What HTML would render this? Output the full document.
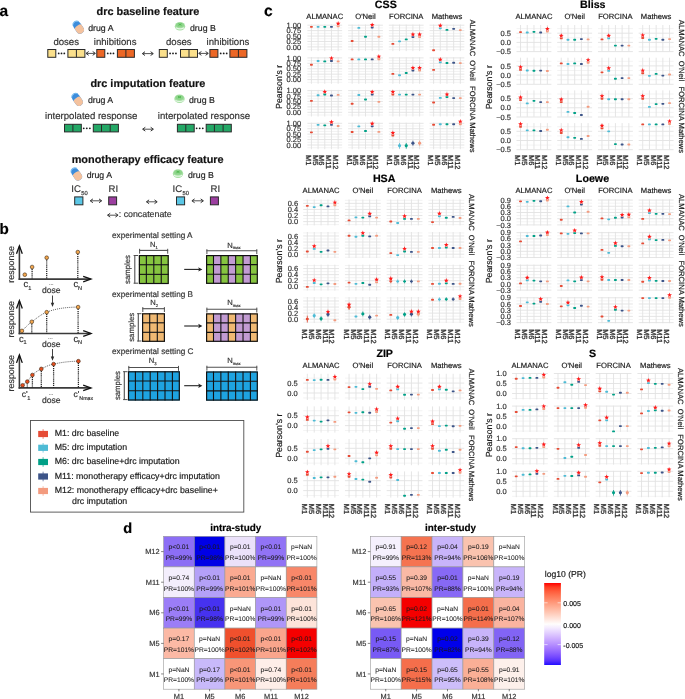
<!DOCTYPE html>
<html><head><meta charset="utf-8"><style>html,body{margin:0;padding:0;background:#fff;width:685px;height:699px;overflow:hidden}svg{display:block;will-change:transform;text-rendering:geometricPrecision;}text{stroke-width:0.18px;stroke-linejoin:round;paint-order:stroke;font-family:"Liberation Sans",sans-serif}</style></head><body>
<svg width="685" height="699" viewBox="0 0 685 699" font-family="Liberation Sans, sans-serif"><text x="-0.6" y="15.8" font-size="15.5" font-weight="bold" fill="#000" stroke="#000">a</text>
<text x="96.5" y="14.8" font-size="10.9" font-weight="bold" fill="#111" stroke="#111">drc baseline feature</text>
<g transform="translate(78.5,27.5) rotate(56)">
<rect x="-6.6" y="-3.9" width="13.2" height="7.8" rx="3.9" fill="#3d8ddb"/>
<path d="M-4.6,-3.6 A3.9,3.9 0 0 0 -4.6,3.6" stroke="#6fb6ee" stroke-width="1.0" fill="none"/>
<path d="M-0.6,-3.9 H2.7 A3.9,3.9 0 0 1 2.7,3.9 H-0.6 A1.5,3.9 0 0 1 -0.6,-3.9 Z" fill="#f4c29e"/>
</g>
<text x="88.2" y="31.2" font-size="8.75" fill="#222" stroke="#222">drug A</text>
<ellipse cx="180" cy="26.2" rx="5.2" ry="4.3" fill="#a6dfa3"/>
<ellipse cx="180" cy="25" rx="4.0" ry="2.3" fill="#8ed58b"/>
<path d="M178.5,23.7 l3,1.6 M181.5,23.7 l-3,1.6" stroke="#4fb84f" stroke-width="0.9"/>
<path d="M175.8,27.8 q4.2,2.2 8.4,0" stroke="#e6f7e6" stroke-width="1.1" fill="none"/>
<text x="190" y="31.2" font-size="8.75" fill="#222" stroke="#222">drug B</text>
<text x="53.4" y="44.6" font-size="9.6" fill="#333333" stroke="#333333">doses</text>
<text x="93.8" y="44.6" font-size="9.6" fill="#333333" stroke="#333333">inhibitions</text>
<text x="166" y="44.6" font-size="9.6" fill="#333333" stroke="#333333">doses</text>
<text x="206.6" y="44.6" font-size="9.6" fill="#333333" stroke="#333333">inhibitions</text>
<rect x="47.8" y="49.5" width="8" height="7.8" fill="#fbe08c" stroke="#2a2a2a" stroke-width="1"/>
<circle cx="58.7" cy="53.4" r="0.9" fill="#1a1a1a"/>
<circle cx="61.5" cy="53.4" r="0.9" fill="#1a1a1a"/>
<circle cx="64.3" cy="53.4" r="0.9" fill="#1a1a1a"/>
<rect x="67.9" y="49.5" width="17" height="7.8" fill="#fbe08c" stroke="#2a2a2a" stroke-width="1"/>
<line x1="76.4" y1="49.5" x2="76.4" y2="57.3" stroke="#2a2a2a" stroke-width="1"/>
<path d="M86.3,53.4 H95.1" stroke="#333" stroke-width="0.85"/>
<path d="M88.7,51.5 L86,53.4 L88.7,55.3 M92.7,51.5 L95.4,53.4 L92.7,55.3" stroke="#333" stroke-width="1.0" fill="none"/>
<rect x="96.8" y="49.5" width="8" height="7.8" fill="#ec6726" stroke="#2a2a2a" stroke-width="1"/>
<circle cx="107.73" cy="53.4" r="0.9" fill="#1a1a1a"/>
<circle cx="110.6" cy="53.4" r="0.9" fill="#1a1a1a"/>
<circle cx="113.47" cy="53.4" r="0.9" fill="#1a1a1a"/>
<rect x="117.4" y="49.5" width="17" height="7.8" fill="#ec6726" stroke="#2a2a2a" stroke-width="1"/>
<line x1="125.9" y1="49.5" x2="125.9" y2="57.3" stroke="#2a2a2a" stroke-width="1"/>
<path d="M142.6,53.6 H153" stroke="#333" stroke-width="0.85"/>
<path d="M145,51.7 L142.3,53.6 L145,55.5 M150.6,51.7 L153.3,53.6 L150.6,55.5" stroke="#333" stroke-width="1.0" fill="none"/>
<rect x="159.3" y="49.5" width="8" height="7.8" fill="#fbe08c" stroke="#2a2a2a" stroke-width="1"/>
<circle cx="170.07" cy="53.4" r="0.9" fill="#1a1a1a"/>
<circle cx="173" cy="53.4" r="0.9" fill="#1a1a1a"/>
<circle cx="175.93" cy="53.4" r="0.9" fill="#1a1a1a"/>
<rect x="180.5" y="49.5" width="17" height="7.8" fill="#fbe08c" stroke="#2a2a2a" stroke-width="1"/>
<line x1="189" y1="49.5" x2="189" y2="57.3" stroke="#2a2a2a" stroke-width="1"/>
<path d="M199,53.4 H208" stroke="#333" stroke-width="0.85"/>
<path d="M201.4,51.5 L198.7,53.4 L201.4,55.3 M205.6,51.5 L208.3,53.4 L205.6,55.3" stroke="#333" stroke-width="1.0" fill="none"/>
<rect x="209.9" y="49.5" width="8" height="7.8" fill="#ec6726" stroke="#2a2a2a" stroke-width="1"/>
<circle cx="220.7" cy="53.4" r="0.9" fill="#1a1a1a"/>
<circle cx="223.7" cy="53.4" r="0.9" fill="#1a1a1a"/>
<circle cx="226.7" cy="53.4" r="0.9" fill="#1a1a1a"/>
<rect x="229.9" y="49.5" width="17" height="7.8" fill="#ec6726" stroke="#2a2a2a" stroke-width="1"/>
<line x1="238.4" y1="49.5" x2="238.4" y2="57.3" stroke="#2a2a2a" stroke-width="1"/>
<text x="90.4" y="86.7" font-size="10.9" font-weight="bold" fill="#111" stroke="#111">drc imputation feature</text>
<g transform="translate(77.4,99.7) rotate(56)">
<rect x="-6.6" y="-3.9" width="13.2" height="7.8" rx="3.9" fill="#3d8ddb"/>
<path d="M-4.6,-3.6 A3.9,3.9 0 0 0 -4.6,3.6" stroke="#6fb6ee" stroke-width="1.0" fill="none"/>
<path d="M-0.6,-3.9 H2.7 A3.9,3.9 0 0 1 2.7,3.9 H-0.6 A1.5,3.9 0 0 1 -0.6,-3.9 Z" fill="#f4c29e"/>
</g>
<text x="87.9" y="103" font-size="8.75" fill="#222" stroke="#222">drug A</text>
<ellipse cx="179.5" cy="98.8" rx="5.2" ry="4.3" fill="#a6dfa3"/>
<ellipse cx="179.5" cy="97.6" rx="4.0" ry="2.3" fill="#8ed58b"/>
<path d="M178,96.3 l3,1.6 M181,96.3 l-3,1.6" stroke="#4fb84f" stroke-width="0.9"/>
<path d="M175.3,100.4 q4.2,2.2 8.4,0" stroke="#e6f7e6" stroke-width="1.1" fill="none"/>
<text x="189" y="103" font-size="8.75" fill="#222" stroke="#222">drug B</text>
<text x="45.1" y="118.8" font-size="9.6" fill="#333333" stroke="#333333">interpolated response</text>
<text x="157.8" y="118.8" font-size="9.6" fill="#333333" stroke="#333333">interpolated response</text>
<rect x="64.5" y="124.3" width="16.8" height="7.6" fill="#24a866" stroke="#2a2a2a" stroke-width="1"/>
<line x1="72.9" y1="124.3" x2="72.9" y2="131.9" stroke="#2a2a2a" stroke-width="1"/>
<circle cx="83.73" cy="128.3" r="0.9" fill="#1a1a1a"/>
<circle cx="86.8" cy="128.3" r="0.9" fill="#1a1a1a"/>
<circle cx="89.87" cy="128.3" r="0.9" fill="#1a1a1a"/>
<rect x="93.3" y="124.3" width="25.1" height="7.6" fill="#24a866" stroke="#2a2a2a" stroke-width="1"/>
<line x1="101.5" y1="124.3" x2="101.5" y2="131.9" stroke="#2a2a2a" stroke-width="1"/>
<line x1="110.2" y1="124.3" x2="110.2" y2="131.9" stroke="#2a2a2a" stroke-width="1"/>
<rect x="177.4" y="124.3" width="16.8" height="7.6" fill="#24a866" stroke="#2a2a2a" stroke-width="1"/>
<line x1="185.8" y1="124.3" x2="185.8" y2="131.9" stroke="#2a2a2a" stroke-width="1"/>
<circle cx="196.63" cy="128.3" r="0.9" fill="#1a1a1a"/>
<circle cx="199.7" cy="128.3" r="0.9" fill="#1a1a1a"/>
<circle cx="202.77" cy="128.3" r="0.9" fill="#1a1a1a"/>
<rect x="206.2" y="124.3" width="25.1" height="7.6" fill="#24a866" stroke="#2a2a2a" stroke-width="1"/>
<line x1="214.4" y1="124.3" x2="214.4" y2="131.9" stroke="#2a2a2a" stroke-width="1"/>
<line x1="223.1" y1="124.3" x2="223.1" y2="131.9" stroke="#2a2a2a" stroke-width="1"/>
<path d="M142.9,129.2 H153.1" stroke="#333" stroke-width="0.85"/>
<path d="M145.3,127.3 L142.6,129.2 L145.3,131.1 M150.7,127.3 L153.4,129.2 L150.7,131.1" stroke="#333" stroke-width="1.0" fill="none"/>
<text x="71.7" y="162.8" font-size="10.9" font-weight="bold" fill="#111" stroke="#111">monotherapy efficacy feature</text>
<g transform="translate(76.6,174.3) rotate(56)">
<rect x="-6.6" y="-3.9" width="13.2" height="7.8" rx="3.9" fill="#3d8ddb"/>
<path d="M-4.6,-3.6 A3.9,3.9 0 0 0 -4.6,3.6" stroke="#6fb6ee" stroke-width="1.0" fill="none"/>
<path d="M-0.6,-3.9 H2.7 A3.9,3.9 0 0 1 2.7,3.9 H-0.6 A1.5,3.9 0 0 1 -0.6,-3.9 Z" fill="#f4c29e"/>
</g>
<text x="86.7" y="178.1" font-size="8.75" fill="#222" stroke="#222">drug A</text>
<ellipse cx="178" cy="173.6" rx="5.2" ry="4.3" fill="#a6dfa3"/>
<ellipse cx="178" cy="172.4" rx="4.0" ry="2.3" fill="#8ed58b"/>
<path d="M176.5,171.1 l3,1.6 M179.5,171.1 l-3,1.6" stroke="#4fb84f" stroke-width="0.9"/>
<path d="M173.8,175.2 q4.2,2.2 8.4,0" stroke="#e6f7e6" stroke-width="1.1" fill="none"/>
<text x="188" y="178.1" font-size="8.75" fill="#222" stroke="#222">drug B</text>
<text x="71.3" y="191.7" font-size="9.6" fill="#333333" stroke="#333333">IC<tspan font-size="5.8" dx="0.3" dy="3.1">50</tspan></text>
<text x="108.6" y="191.7" font-size="9.6" fill="#333333" stroke="#333333">RI</text>
<text x="172.6" y="191.7" font-size="9.6" fill="#333333" stroke="#333333">IC<tspan font-size="5.8" dx="0.3" dy="3.1">50</tspan></text>
<text x="210.6" y="191.7" font-size="9.6" fill="#333333" stroke="#333333">RI</text>
<rect x="74.7" y="196.9" width="8.2" height="7.9" fill="#5bc7e6" stroke="#2a2a2a" stroke-width="1"/>
<path d="M90.5,200.8 H101.4" stroke="#333" stroke-width="0.85"/>
<path d="M92.9,198.9 L90.2,200.8 L92.9,202.7 M99,198.9 L101.7,200.8 L99,202.7" stroke="#333" stroke-width="1.0" fill="none"/>
<rect x="108.7" y="196.9" width="7.9" height="7.9" fill="#9c3fa0" stroke="#2a2a2a" stroke-width="1"/>
<rect x="176.5" y="196.9" width="8.1" height="7.9" fill="#5bc7e6" stroke="#2a2a2a" stroke-width="1"/>
<path d="M192.2,200.8 H203.1" stroke="#333" stroke-width="0.85"/>
<path d="M194.6,198.9 L191.9,200.8 L194.6,202.7 M200.7,198.9 L203.4,200.8 L200.7,202.7" stroke="#333" stroke-width="1.0" fill="none"/>
<rect x="210.4" y="196.9" width="8" height="7.9" fill="#9c3fa0" stroke="#2a2a2a" stroke-width="1"/>
<path d="M146.7,201.8 H156.9" stroke="#333" stroke-width="0.85"/>
<path d="M149.1,199.9 L146.4,201.8 L149.1,203.7 M154.5,199.9 L157.2,201.8 L154.5,203.7" stroke="#333" stroke-width="1.0" fill="none"/>
<path d="M107.8,215.2 H117.8" stroke="#333" stroke-width="0.85"/>
<path d="M110.2,213.3 L107.5,215.2 L110.2,217.1 M115.4,213.3 L118.1,215.2 L115.4,217.1" stroke="#333" stroke-width="1.0" fill="none"/>
<text x="118.8" y="217.3" font-size="8.8" fill="#333" stroke="#333">: concatenate</text>
<text x="-0.4" y="234.2" font-size="15.2" font-weight="bold" fill="#000" stroke="#000">b</text>
<line x1="19.4" y1="246.5" x2="19.4" y2="279.9" stroke="#3a3a3a" stroke-width="1.6"/>
<line x1="18.6" y1="279.1" x2="90.5" y2="279.1" stroke="#3a3a3a" stroke-width="1.6"/>
<path d="M16.5,253.8 L19.4,245.9 L22.3,253.8" stroke="#111" stroke-width="1.3" fill="none"/>
<path d="M83.2,276.3 L91,279.1 L83.2,281.9" stroke="#111" stroke-width="1.3" fill="none"/>
<text transform="translate(14.0,264.4) rotate(-90)" font-size="8.9" text-anchor="middle" fill="#333333" stroke="#333333">response</text>
<circle cx="24.8" cy="274.7" r="1.85" fill="#f3a64c" stroke="#3a2a1a" stroke-width="0.6"/>
<line x1="32.1" y1="267" x2="32.1" y2="279.1" stroke="#222" stroke-width="1.25" stroke-dasharray="1.1,0.8"/>
<circle cx="32.1" cy="267" r="1.85" fill="#f3a64c" stroke="#3a2a1a" stroke-width="0.6"/>
<line x1="46.7" y1="257.7" x2="46.7" y2="279.1" stroke="#222" stroke-width="1.25" stroke-dasharray="1.1,0.8"/>
<circle cx="46.7" cy="257.7" r="1.85" fill="#f3a64c" stroke="#3a2a1a" stroke-width="0.6"/>
<line x1="77.8" y1="252.1" x2="77.8" y2="279.1" stroke="#222" stroke-width="1.25" stroke-dasharray="1.1,0.8"/>
<circle cx="77.8" cy="252.1" r="1.85" fill="#f3a64c" stroke="#3a2a1a" stroke-width="0.6"/>
<text x="23.6" y="287.4" font-size="9.4" fill="#333333" stroke="#333333">c<tspan font-size="5.6" dy="2.4">1</tspan></text>
<text x="73.4" y="287.4" font-size="9.4" fill="#333333" stroke="#333333">c<tspan font-size="5.6" dy="2.4">N</tspan></text>
<text x="51.3" y="284.6" font-size="5.5" text-anchor="middle" fill="#666" stroke="#666">...</text>
<text x="51.3" y="293.1" font-size="8.6" text-anchor="middle" fill="#333333" stroke="#333333">dose</text>
<line x1="52.5" y1="295.5" x2="52.5" y2="305" stroke="#2b2b2b" stroke-width="0.9"/>
<path d="M50.8,302.8 L52.5,307 L54.2,302.8 Z" fill="#2b2b2b"/>
<line x1="19.4" y1="301.2" x2="19.4" y2="334.3" stroke="#3a3a3a" stroke-width="1.6"/>
<line x1="18.6" y1="333.5" x2="90.5" y2="333.5" stroke="#3a3a3a" stroke-width="1.6"/>
<path d="M16.5,308.5 L19.4,300.6 L22.3,308.5" stroke="#111" stroke-width="1.3" fill="none"/>
<path d="M83.2,330.7 L91,333.5 L83.2,336.3" stroke="#111" stroke-width="1.3" fill="none"/>
<text transform="translate(14.0,319.2) rotate(-90)" font-size="8.9" text-anchor="middle" fill="#333333" stroke="#333333">response</text>
<path d="M21.9,330.9 C26,327 28,324.5 31.8,321.8 C37,318 41,314.4 46.7,312.2 C56,308.5 66,307.2 78.1,307.1" stroke="#444" stroke-width="0.8" fill="none" stroke-dasharray="1.1,1"/>
<circle cx="21.9" cy="330.9" r="1.85" fill="#f3a64c" stroke="#3a2a1a" stroke-width="0.6"/>
<line x1="31.8" y1="321.8" x2="31.8" y2="333.5" stroke="#222" stroke-width="1.25" stroke-dasharray="1.1,0.8"/>
<circle cx="31.8" cy="321.8" r="1.85" fill="#f3a64c" stroke="#3a2a1a" stroke-width="0.6"/>
<line x1="46.7" y1="312.2" x2="46.7" y2="333.5" stroke="#222" stroke-width="1.25" stroke-dasharray="1.1,0.8"/>
<circle cx="46.7" cy="312.2" r="1.85" fill="#f3a64c" stroke="#3a2a1a" stroke-width="0.6"/>
<line x1="78.1" y1="307.1" x2="78.1" y2="333.5" stroke="#222" stroke-width="1.25" stroke-dasharray="1.1,0.8"/>
<circle cx="78.1" cy="307.1" r="1.85" fill="#f3a64c" stroke="#3a2a1a" stroke-width="0.6"/>
<text x="18.9" y="341.8" font-size="9.4" fill="#333333" stroke="#333333">c<tspan font-size="5.6" dy="2.4">1</tspan></text>
<text x="73.4" y="341.8" font-size="9.4" fill="#333333" stroke="#333333">c<tspan font-size="5.6" dy="2.4">N</tspan></text>
<text x="50.4" y="339.2" font-size="5.5" text-anchor="middle" fill="#666" stroke="#666">...</text>
<text x="51.3" y="347.1" font-size="8.6" text-anchor="middle" fill="#333333" stroke="#333333">dose</text>
<line x1="52.5" y1="349" x2="52.5" y2="358.5" stroke="#2b2b2b" stroke-width="0.9"/>
<path d="M50.8,356.6 L52.5,360.8 L54.2,356.6 Z" fill="#2b2b2b"/>
<line x1="19.4" y1="355.6" x2="19.4" y2="388.7" stroke="#3a3a3a" stroke-width="1.6"/>
<line x1="18.6" y1="387.9" x2="90.5" y2="387.9" stroke="#3a3a3a" stroke-width="1.6"/>
<path d="M16.5,362.9 L19.4,355 L22.3,362.9" stroke="#111" stroke-width="1.3" fill="none"/>
<path d="M83.2,385.1 L91,387.9 L83.2,390.7" stroke="#111" stroke-width="1.3" fill="none"/>
<text transform="translate(14.0,373.2) rotate(-90)" font-size="8.9" text-anchor="middle" fill="#333333" stroke="#333333">response</text>
<path d="M22.6,385.3 C24.5,383.8 25.5,383 27.3,381.6 C29.5,379 30.5,377 32.4,375 C35.5,372 38,370.5 41.3,368.9 C46,366.5 49,365 53.6,364.1 C62,362.2 70,361.3 78.4,361.2" stroke="#444" stroke-width="0.8" fill="none" stroke-dasharray="1.1,1"/>
<circle cx="22.6" cy="385.3" r="1.85" fill="#e8501f" stroke="#3a2a1a" stroke-width="0.6"/>
<line x1="27.3" y1="381.6" x2="27.3" y2="387.9" stroke="#222" stroke-width="1.25" stroke-dasharray="1.1,0.8"/>
<circle cx="27.3" cy="381.6" r="1.85" fill="#e8501f" stroke="#3a2a1a" stroke-width="0.6"/>
<line x1="32.4" y1="375" x2="32.4" y2="387.9" stroke="#222" stroke-width="1.25" stroke-dasharray="1.1,0.8"/>
<circle cx="32.4" cy="375" r="1.85" fill="#e8501f" stroke="#3a2a1a" stroke-width="0.6"/>
<line x1="41.3" y1="368.9" x2="41.3" y2="387.9" stroke="#222" stroke-width="1.25" stroke-dasharray="1.1,0.8"/>
<circle cx="41.3" cy="368.9" r="1.85" fill="#e8501f" stroke="#3a2a1a" stroke-width="0.6"/>
<line x1="53.6" y1="364.1" x2="53.6" y2="387.9" stroke="#222" stroke-width="1.25" stroke-dasharray="1.1,0.8"/>
<circle cx="53.6" cy="364.1" r="1.85" fill="#e8501f" stroke="#3a2a1a" stroke-width="0.6"/>
<line x1="78.4" y1="361.2" x2="78.4" y2="387.9" stroke="#222" stroke-width="1.25" stroke-dasharray="1.1,0.8"/>
<circle cx="78.4" cy="361.2" r="1.85" fill="#e8501f" stroke="#3a2a1a" stroke-width="0.6"/>
<text x="21.8" y="396.8" font-size="8.6" fill="#333333" stroke="#333333">c'<tspan font-size="5.6" dx="-0.4" dy="3.0">1</tspan></text>
<text x="73.4" y="396.8" font-size="8.6" fill="#333333" stroke="#333333">c'<tspan font-size="5.3" dy="3.2">Nmax</tspan></text>
<text x="51" y="395.4" font-size="5.5" text-anchor="middle" fill="#666" stroke="#666">...</text>
<text x="51.3" y="403.2" font-size="8.6" text-anchor="middle" fill="#333333" stroke="#333333">dose</text>
<text x="112" y="238.4" font-size="8.2" fill="#333333" stroke="#333333">experimental setting A</text>
<text x="150" y="247.4" font-size="7.6" fill="#333333" stroke="#333333">N<tspan font-size="4.2" dy="1.8">1</tspan></text>
<line x1="139.2" y1="250.4" x2="168.1" y2="250.4" stroke="#505050" stroke-width="1.1"/>
<line x1="139.6" y1="248.8" x2="139.6" y2="253.7" stroke="#505050" stroke-width="1"/>
<line x1="167.7" y1="248.8" x2="167.7" y2="253.7" stroke="#505050" stroke-width="1"/>
<line x1="134.8" y1="255.1" x2="134.8" y2="283.6" stroke="#505050" stroke-width="1.1"/>
<line x1="133.6" y1="255.5" x2="138" y2="255.5" stroke="#505050" stroke-width="1"/>
<line x1="133.6" y1="283.2" x2="138" y2="283.2" stroke="#505050" stroke-width="1"/>
<text transform="translate(129.7,269.5) rotate(-90)" font-size="7.8" text-anchor="middle" fill="#333333" stroke="#333333">samples</text>
<rect x="138.9" y="255.1" width="7.45" height="9.63" fill="#86c440"/>
<rect x="146.35" y="255.1" width="7.45" height="9.63" fill="#86c440"/>
<rect x="153.8" y="255.1" width="7.45" height="9.63" fill="#86c440"/>
<rect x="161.25" y="255.1" width="7.45" height="9.63" fill="#86c440"/>
<rect x="138.9" y="264.73" width="7.45" height="9.63" fill="#86c440"/>
<rect x="146.35" y="264.73" width="7.45" height="9.63" fill="#86c440"/>
<rect x="153.8" y="264.73" width="7.45" height="9.63" fill="#86c440"/>
<rect x="161.25" y="264.73" width="7.45" height="9.63" fill="#86c440"/>
<rect x="138.9" y="274.37" width="7.45" height="9.63" fill="#86c440"/>
<rect x="146.35" y="274.37" width="7.45" height="9.63" fill="#86c440"/>
<rect x="153.8" y="274.37" width="7.45" height="9.63" fill="#86c440"/>
<rect x="161.25" y="274.37" width="7.45" height="9.63" fill="#86c440"/>
<line x1="146.35" y1="255.1" x2="146.35" y2="284" stroke="#111" stroke-width="1.1"/>
<line x1="153.8" y1="255.1" x2="153.8" y2="284" stroke="#111" stroke-width="1.1"/>
<line x1="161.25" y1="255.1" x2="161.25" y2="284" stroke="#111" stroke-width="1.1"/>
<line x1="138.9" y1="264.73" x2="168.7" y2="264.73" stroke="#111" stroke-width="1.1"/>
<line x1="138.9" y1="274.37" x2="168.7" y2="274.37" stroke="#111" stroke-width="1.1"/>
<rect x="139.4" y="255.6" width="28.8" height="27.9" fill="none" stroke="#111" stroke-width="1.2"/>
<line x1="184.2" y1="269.4" x2="199.4" y2="269.4" stroke="#222" stroke-width="1.1"/>
<path d="M202.4,269.4 l-4.2,-2.2 l0.9,2.2 l-0.9,2.2 Z" fill="#222"/>
<text x="227.2" y="247.6" font-size="7.6" fill="#333333" stroke="#333333">N<tspan font-size="4.2" dy="1.8">max</tspan></text>
<line x1="206.5" y1="250.8" x2="257.2" y2="250.8" stroke="#505050" stroke-width="1.1"/>
<line x1="206.9" y1="249.2" x2="206.9" y2="254.1" stroke="#505050" stroke-width="1"/>
<line x1="256.8" y1="249.2" x2="256.8" y2="254.1" stroke="#505050" stroke-width="1"/>
<rect x="206.1" y="255.1" width="7.39" height="9.57" fill="#86c440"/>
<rect x="213.49" y="255.1" width="7.39" height="9.57" fill="#c29bd2"/>
<rect x="220.87" y="255.1" width="7.39" height="9.57" fill="#86c440"/>
<rect x="228.26" y="255.1" width="7.39" height="9.57" fill="#c29bd2"/>
<rect x="235.64" y="255.1" width="7.39" height="9.57" fill="#86c440"/>
<rect x="243.03" y="255.1" width="7.39" height="9.57" fill="#c29bd2"/>
<rect x="250.41" y="255.1" width="7.39" height="9.57" fill="#86c440"/>
<rect x="206.1" y="264.67" width="7.39" height="9.57" fill="#86c440"/>
<rect x="213.49" y="264.67" width="7.39" height="9.57" fill="#c29bd2"/>
<rect x="220.87" y="264.67" width="7.39" height="9.57" fill="#86c440"/>
<rect x="228.26" y="264.67" width="7.39" height="9.57" fill="#c29bd2"/>
<rect x="235.64" y="264.67" width="7.39" height="9.57" fill="#86c440"/>
<rect x="243.03" y="264.67" width="7.39" height="9.57" fill="#c29bd2"/>
<rect x="250.41" y="264.67" width="7.39" height="9.57" fill="#86c440"/>
<rect x="206.1" y="274.23" width="7.39" height="9.57" fill="#86c440"/>
<rect x="213.49" y="274.23" width="7.39" height="9.57" fill="#c29bd2"/>
<rect x="220.87" y="274.23" width="7.39" height="9.57" fill="#86c440"/>
<rect x="228.26" y="274.23" width="7.39" height="9.57" fill="#c29bd2"/>
<rect x="235.64" y="274.23" width="7.39" height="9.57" fill="#86c440"/>
<rect x="243.03" y="274.23" width="7.39" height="9.57" fill="#c29bd2"/>
<rect x="250.41" y="274.23" width="7.39" height="9.57" fill="#86c440"/>
<line x1="213.49" y1="255.1" x2="213.49" y2="283.8" stroke="#111" stroke-width="1.1"/>
<line x1="220.87" y1="255.1" x2="220.87" y2="283.8" stroke="#111" stroke-width="1.1"/>
<line x1="228.26" y1="255.1" x2="228.26" y2="283.8" stroke="#111" stroke-width="1.1"/>
<line x1="235.64" y1="255.1" x2="235.64" y2="283.8" stroke="#111" stroke-width="1.1"/>
<line x1="243.03" y1="255.1" x2="243.03" y2="283.8" stroke="#111" stroke-width="1.1"/>
<line x1="250.41" y1="255.1" x2="250.41" y2="283.8" stroke="#111" stroke-width="1.1"/>
<line x1="206.1" y1="264.67" x2="257.8" y2="264.67" stroke="#111" stroke-width="1.1"/>
<line x1="206.1" y1="274.23" x2="257.8" y2="274.23" stroke="#111" stroke-width="1.1"/>
<rect x="206.6" y="255.6" width="50.7" height="27.7" fill="none" stroke="#111" stroke-width="1.2"/>
<text x="112" y="296.9" font-size="8.2" fill="#333333" stroke="#333333">experimental setting B</text>
<text x="150.3" y="305.4" font-size="7.6" fill="#333333" stroke="#333333">N<tspan font-size="4.2" dy="1.8">2</tspan></text>
<line x1="142.4" y1="308.7" x2="164.8" y2="308.7" stroke="#505050" stroke-width="1.1"/>
<line x1="142.8" y1="307.1" x2="142.8" y2="312" stroke="#505050" stroke-width="1"/>
<line x1="164.4" y1="307.1" x2="164.4" y2="312" stroke="#505050" stroke-width="1"/>
<line x1="138.3" y1="313.3" x2="138.3" y2="341.4" stroke="#505050" stroke-width="1.1"/>
<line x1="137.1" y1="313.7" x2="141.5" y2="313.7" stroke="#505050" stroke-width="1"/>
<line x1="137.1" y1="341" x2="141.5" y2="341" stroke="#505050" stroke-width="1"/>
<text transform="translate(133.6,327.3) rotate(-90)" font-size="7.8" text-anchor="middle" fill="#333333" stroke="#333333">samples</text>
<rect x="142.1" y="313.3" width="7.6" height="9.5" fill="#f0b973"/>
<rect x="149.7" y="313.3" width="7.6" height="9.5" fill="#f0b973"/>
<rect x="157.3" y="313.3" width="7.6" height="9.5" fill="#f0b973"/>
<rect x="142.1" y="322.8" width="7.6" height="9.5" fill="#f0b973"/>
<rect x="149.7" y="322.8" width="7.6" height="9.5" fill="#f0b973"/>
<rect x="157.3" y="322.8" width="7.6" height="9.5" fill="#f0b973"/>
<rect x="142.1" y="332.3" width="7.6" height="9.5" fill="#f0b973"/>
<rect x="149.7" y="332.3" width="7.6" height="9.5" fill="#f0b973"/>
<rect x="157.3" y="332.3" width="7.6" height="9.5" fill="#f0b973"/>
<line x1="149.7" y1="313.3" x2="149.7" y2="341.8" stroke="#111" stroke-width="1.1"/>
<line x1="157.3" y1="313.3" x2="157.3" y2="341.8" stroke="#111" stroke-width="1.1"/>
<line x1="142.1" y1="322.8" x2="164.9" y2="322.8" stroke="#111" stroke-width="1.1"/>
<line x1="142.1" y1="332.3" x2="164.9" y2="332.3" stroke="#111" stroke-width="1.1"/>
<rect x="142.6" y="313.8" width="21.8" height="27.5" fill="none" stroke="#111" stroke-width="1.2"/>
<line x1="184.2" y1="326" x2="199.4" y2="326" stroke="#222" stroke-width="1.1"/>
<path d="M202.4,326 l-4.2,-2.2 l0.9,2.2 l-0.9,2.2 Z" fill="#222"/>
<text x="227.2" y="305.4" font-size="7.6" fill="#333333" stroke="#333333">N<tspan font-size="4.2" dy="1.8">max</tspan></text>
<line x1="206.5" y1="309.2" x2="257.2" y2="309.2" stroke="#505050" stroke-width="1.1"/>
<line x1="206.9" y1="307.6" x2="206.9" y2="312.5" stroke="#505050" stroke-width="1"/>
<line x1="256.8" y1="307.6" x2="256.8" y2="312.5" stroke="#505050" stroke-width="1"/>
<rect x="206.1" y="313.4" width="7.39" height="9.47" fill="#f0b973"/>
<rect x="213.49" y="313.4" width="7.39" height="9.47" fill="#c29bd2"/>
<rect x="220.87" y="313.4" width="7.39" height="9.47" fill="#c29bd2"/>
<rect x="228.26" y="313.4" width="7.39" height="9.47" fill="#f0b973"/>
<rect x="235.64" y="313.4" width="7.39" height="9.47" fill="#c29bd2"/>
<rect x="243.03" y="313.4" width="7.39" height="9.47" fill="#c29bd2"/>
<rect x="250.41" y="313.4" width="7.39" height="9.47" fill="#f0b973"/>
<rect x="206.1" y="322.87" width="7.39" height="9.47" fill="#f0b973"/>
<rect x="213.49" y="322.87" width="7.39" height="9.47" fill="#c29bd2"/>
<rect x="220.87" y="322.87" width="7.39" height="9.47" fill="#c29bd2"/>
<rect x="228.26" y="322.87" width="7.39" height="9.47" fill="#f0b973"/>
<rect x="235.64" y="322.87" width="7.39" height="9.47" fill="#c29bd2"/>
<rect x="243.03" y="322.87" width="7.39" height="9.47" fill="#c29bd2"/>
<rect x="250.41" y="322.87" width="7.39" height="9.47" fill="#f0b973"/>
<rect x="206.1" y="332.33" width="7.39" height="9.47" fill="#f0b973"/>
<rect x="213.49" y="332.33" width="7.39" height="9.47" fill="#c29bd2"/>
<rect x="220.87" y="332.33" width="7.39" height="9.47" fill="#c29bd2"/>
<rect x="228.26" y="332.33" width="7.39" height="9.47" fill="#f0b973"/>
<rect x="235.64" y="332.33" width="7.39" height="9.47" fill="#c29bd2"/>
<rect x="243.03" y="332.33" width="7.39" height="9.47" fill="#c29bd2"/>
<rect x="250.41" y="332.33" width="7.39" height="9.47" fill="#f0b973"/>
<line x1="213.49" y1="313.4" x2="213.49" y2="341.8" stroke="#111" stroke-width="1.1"/>
<line x1="220.87" y1="313.4" x2="220.87" y2="341.8" stroke="#111" stroke-width="1.1"/>
<line x1="228.26" y1="313.4" x2="228.26" y2="341.8" stroke="#111" stroke-width="1.1"/>
<line x1="235.64" y1="313.4" x2="235.64" y2="341.8" stroke="#111" stroke-width="1.1"/>
<line x1="243.03" y1="313.4" x2="243.03" y2="341.8" stroke="#111" stroke-width="1.1"/>
<line x1="250.41" y1="313.4" x2="250.41" y2="341.8" stroke="#111" stroke-width="1.1"/>
<line x1="206.1" y1="322.87" x2="257.8" y2="322.87" stroke="#111" stroke-width="1.1"/>
<line x1="206.1" y1="332.33" x2="257.8" y2="332.33" stroke="#111" stroke-width="1.1"/>
<rect x="206.6" y="313.9" width="50.7" height="27.4" fill="none" stroke="#111" stroke-width="1.2"/>
<text x="112" y="354.1" font-size="8.2" fill="#333333" stroke="#333333">experimental setting C</text>
<text x="148.8" y="363.2" font-size="7.6" fill="#333333" stroke="#333333">N<tspan font-size="4.2" dy="1.8">3</tspan></text>
<line x1="128.4" y1="367.5" x2="178.9" y2="367.5" stroke="#505050" stroke-width="1.1"/>
<line x1="128.8" y1="365.9" x2="128.8" y2="370.8" stroke="#505050" stroke-width="1"/>
<line x1="178.5" y1="365.9" x2="178.5" y2="370.8" stroke="#505050" stroke-width="1"/>
<line x1="124.3" y1="371.3" x2="124.3" y2="400" stroke="#505050" stroke-width="1.1"/>
<line x1="123.1" y1="371.7" x2="127.5" y2="371.7" stroke="#505050" stroke-width="1"/>
<line x1="123.1" y1="399.6" x2="127.5" y2="399.6" stroke="#505050" stroke-width="1"/>
<text transform="translate(119.7,385.6) rotate(-90)" font-size="7.8" text-anchor="middle" fill="#333333" stroke="#333333">samples</text>
<rect x="128" y="371.3" width="7.4" height="9.73" fill="#1ea3e0"/>
<rect x="135.4" y="371.3" width="7.4" height="9.73" fill="#1ea3e0"/>
<rect x="142.8" y="371.3" width="7.4" height="9.73" fill="#1ea3e0"/>
<rect x="150.2" y="371.3" width="7.4" height="9.73" fill="#1ea3e0"/>
<rect x="157.6" y="371.3" width="7.4" height="9.73" fill="#1ea3e0"/>
<rect x="165" y="371.3" width="7.4" height="9.73" fill="#1ea3e0"/>
<rect x="172.4" y="371.3" width="7.4" height="9.73" fill="#1ea3e0"/>
<rect x="128" y="381.03" width="7.4" height="9.73" fill="#1ea3e0"/>
<rect x="135.4" y="381.03" width="7.4" height="9.73" fill="#1ea3e0"/>
<rect x="142.8" y="381.03" width="7.4" height="9.73" fill="#1ea3e0"/>
<rect x="150.2" y="381.03" width="7.4" height="9.73" fill="#1ea3e0"/>
<rect x="157.6" y="381.03" width="7.4" height="9.73" fill="#1ea3e0"/>
<rect x="165" y="381.03" width="7.4" height="9.73" fill="#1ea3e0"/>
<rect x="172.4" y="381.03" width="7.4" height="9.73" fill="#1ea3e0"/>
<rect x="128" y="390.77" width="7.4" height="9.73" fill="#1ea3e0"/>
<rect x="135.4" y="390.77" width="7.4" height="9.73" fill="#1ea3e0"/>
<rect x="142.8" y="390.77" width="7.4" height="9.73" fill="#1ea3e0"/>
<rect x="150.2" y="390.77" width="7.4" height="9.73" fill="#1ea3e0"/>
<rect x="157.6" y="390.77" width="7.4" height="9.73" fill="#1ea3e0"/>
<rect x="165" y="390.77" width="7.4" height="9.73" fill="#1ea3e0"/>
<rect x="172.4" y="390.77" width="7.4" height="9.73" fill="#1ea3e0"/>
<line x1="135.4" y1="371.3" x2="135.4" y2="400.5" stroke="#111" stroke-width="1.1"/>
<line x1="142.8" y1="371.3" x2="142.8" y2="400.5" stroke="#111" stroke-width="1.1"/>
<line x1="150.2" y1="371.3" x2="150.2" y2="400.5" stroke="#111" stroke-width="1.1"/>
<line x1="157.6" y1="371.3" x2="157.6" y2="400.5" stroke="#111" stroke-width="1.1"/>
<line x1="165" y1="371.3" x2="165" y2="400.5" stroke="#111" stroke-width="1.1"/>
<line x1="172.4" y1="371.3" x2="172.4" y2="400.5" stroke="#111" stroke-width="1.1"/>
<line x1="128" y1="381.03" x2="179.8" y2="381.03" stroke="#111" stroke-width="1.1"/>
<line x1="128" y1="390.77" x2="179.8" y2="390.77" stroke="#111" stroke-width="1.1"/>
<rect x="128.5" y="371.8" width="50.8" height="28.2" fill="none" stroke="#111" stroke-width="1.2"/>
<line x1="184.2" y1="385.7" x2="199.4" y2="385.7" stroke="#222" stroke-width="1.1"/>
<path d="M202.4,385.7 l-4.2,-2.2 l0.9,2.2 l-0.9,2.2 Z" fill="#222"/>
<text x="227.2" y="363.2" font-size="7.6" fill="#333333" stroke="#333333">N<tspan font-size="4.2" dy="1.8">max</tspan></text>
<line x1="206.5" y1="367.3" x2="257.2" y2="367.3" stroke="#505050" stroke-width="1.1"/>
<line x1="206.9" y1="365.7" x2="206.9" y2="370.6" stroke="#505050" stroke-width="1"/>
<line x1="256.8" y1="365.7" x2="256.8" y2="370.6" stroke="#505050" stroke-width="1"/>
<rect x="206.1" y="371.5" width="7.39" height="9.7" fill="#1ea3e0"/>
<rect x="213.49" y="371.5" width="7.39" height="9.7" fill="#1ea3e0"/>
<rect x="220.87" y="371.5" width="7.39" height="9.7" fill="#1ea3e0"/>
<rect x="228.26" y="371.5" width="7.39" height="9.7" fill="#1ea3e0"/>
<rect x="235.64" y="371.5" width="7.39" height="9.7" fill="#1ea3e0"/>
<rect x="243.03" y="371.5" width="7.39" height="9.7" fill="#1ea3e0"/>
<rect x="250.41" y="371.5" width="7.39" height="9.7" fill="#1ea3e0"/>
<rect x="206.1" y="381.2" width="7.39" height="9.7" fill="#1ea3e0"/>
<rect x="213.49" y="381.2" width="7.39" height="9.7" fill="#1ea3e0"/>
<rect x="220.87" y="381.2" width="7.39" height="9.7" fill="#1ea3e0"/>
<rect x="228.26" y="381.2" width="7.39" height="9.7" fill="#1ea3e0"/>
<rect x="235.64" y="381.2" width="7.39" height="9.7" fill="#1ea3e0"/>
<rect x="243.03" y="381.2" width="7.39" height="9.7" fill="#1ea3e0"/>
<rect x="250.41" y="381.2" width="7.39" height="9.7" fill="#1ea3e0"/>
<rect x="206.1" y="390.9" width="7.39" height="9.7" fill="#1ea3e0"/>
<rect x="213.49" y="390.9" width="7.39" height="9.7" fill="#1ea3e0"/>
<rect x="220.87" y="390.9" width="7.39" height="9.7" fill="#1ea3e0"/>
<rect x="228.26" y="390.9" width="7.39" height="9.7" fill="#1ea3e0"/>
<rect x="235.64" y="390.9" width="7.39" height="9.7" fill="#1ea3e0"/>
<rect x="243.03" y="390.9" width="7.39" height="9.7" fill="#1ea3e0"/>
<rect x="250.41" y="390.9" width="7.39" height="9.7" fill="#1ea3e0"/>
<line x1="213.49" y1="371.5" x2="213.49" y2="400.6" stroke="#111" stroke-width="1.1"/>
<line x1="220.87" y1="371.5" x2="220.87" y2="400.6" stroke="#111" stroke-width="1.1"/>
<line x1="228.26" y1="371.5" x2="228.26" y2="400.6" stroke="#111" stroke-width="1.1"/>
<line x1="235.64" y1="371.5" x2="235.64" y2="400.6" stroke="#111" stroke-width="1.1"/>
<line x1="243.03" y1="371.5" x2="243.03" y2="400.6" stroke="#111" stroke-width="1.1"/>
<line x1="250.41" y1="371.5" x2="250.41" y2="400.6" stroke="#111" stroke-width="1.1"/>
<line x1="206.1" y1="381.2" x2="257.8" y2="381.2" stroke="#111" stroke-width="1.1"/>
<line x1="206.1" y1="390.9" x2="257.8" y2="390.9" stroke="#111" stroke-width="1.1"/>
<rect x="206.6" y="372" width="50.7" height="28.1" fill="none" stroke="#111" stroke-width="1.2"/>
<rect x="30.5" y="420.5" width="213.3" height="91.6" fill="none" stroke="#4d4d4d" stroke-width="0.9"/>
<line x1="43.1" y1="429.2" x2="43.1" y2="438.8" stroke="#E64B35" stroke-width="0.7"/>
<rect x="38.2" y="430.9" width="9.8" height="6.2" fill="#E64B35"/>
<text x="54.7" y="436.3" font-size="8.8" fill="#1a1a1a" stroke="#1a1a1a">M1: drc baseline</text>
<line x1="43.1" y1="443" x2="43.1" y2="452.6" stroke="#4DBBD5" stroke-width="0.7"/>
<rect x="38.2" y="444.7" width="9.8" height="6.2" fill="#4DBBD5"/>
<text x="54.7" y="450.1" font-size="8.8" fill="#1a1a1a" stroke="#1a1a1a">M5: drc imputation</text>
<line x1="43.1" y1="457.2" x2="43.1" y2="466.8" stroke="#00A087" stroke-width="0.7"/>
<rect x="38.2" y="458.9" width="9.8" height="6.2" fill="#00A087"/>
<text x="54.7" y="464.3" font-size="8.8" fill="#1a1a1a" stroke="#1a1a1a">M6: drc baseline+drc imputation</text>
<line x1="43.1" y1="471.7" x2="43.1" y2="481.3" stroke="#3C5488" stroke-width="0.7"/>
<rect x="38.2" y="473.4" width="9.8" height="6.2" fill="#3C5488"/>
<text x="54.7" y="478.8" font-size="8.8" fill="#1a1a1a" stroke="#1a1a1a">M11: monotherapy efficacy+drc imputation</text>
<line x1="43.1" y1="486.2" x2="43.1" y2="495.8" stroke="#F39B7F" stroke-width="0.7"/>
<rect x="38.2" y="487.9" width="9.8" height="6.2" fill="#F39B7F"/>
<text x="54.7" y="493.3" font-size="8.8" fill="#1a1a1a" stroke="#1a1a1a">M12: monotherapy efficacy+drc baseline+</text>
<text x="72" y="504" font-size="8.8" fill="#1a1a1a" stroke="#1a1a1a">drc imputation</text>
<text x="264" y="16" font-size="15.6" font-weight="bold" fill="#000" stroke="#000">c</text>
<text x="385.8" y="7.9" font-size="10.7" font-weight="bold" text-anchor="middle" fill="#000" stroke="#000">CSS</text>
<text x="324.77" y="19.4" font-size="7.65" text-anchor="middle" fill="#1a1a1a" stroke="#1a1a1a">ALMANAC</text>
<text x="365.5" y="19.4" font-size="7.65" text-anchor="middle" fill="#1a1a1a" stroke="#1a1a1a">O'Neil</text>
<text x="406.24" y="19.4" font-size="7.65" text-anchor="middle" fill="#1a1a1a" stroke="#1a1a1a">FORCINA</text>
<text x="446.96" y="19.4" font-size="7.65" text-anchor="middle" fill="#1a1a1a" stroke="#1a1a1a">Mathews</text>
<text transform="translate(469.54,37.8) rotate(90)" font-size="7.6" text-anchor="middle" fill="#1a1a1a" stroke="#1a1a1a">ALMANAC</text>
<text x="301.2" y="27.8" font-size="7.5" text-anchor="end" fill="#333333" stroke="#333333">1.00</text>
<text x="301.2" y="33.23" font-size="7.5" text-anchor="end" fill="#333333" stroke="#333333">0.75</text>
<text x="301.2" y="38.65" font-size="7.5" text-anchor="end" fill="#333333" stroke="#333333">0.50</text>
<text x="301.2" y="44.08" font-size="7.5" text-anchor="end" fill="#333333" stroke="#333333">0.25</text>
<text x="301.2" y="49.5" font-size="7.5" text-anchor="end" fill="#333333" stroke="#333333">0.00</text>
<line x1="307.4" y1="49.61" x2="342.15" y2="49.61" stroke="#ebebeb" stroke-width="0.6"/>
<line x1="307.4" y1="44.19" x2="342.15" y2="44.19" stroke="#ebebeb" stroke-width="0.6"/>
<line x1="307.4" y1="38.76" x2="342.15" y2="38.76" stroke="#ebebeb" stroke-width="0.6"/>
<line x1="307.4" y1="33.34" x2="342.15" y2="33.34" stroke="#ebebeb" stroke-width="0.6"/>
<line x1="307.4" y1="27.91" x2="342.15" y2="27.91" stroke="#ebebeb" stroke-width="0.6"/>
<line x1="307.4" y1="46.9" x2="342.15" y2="46.9" stroke="#e2e2e2" stroke-width="0.9"/>
<line x1="307.4" y1="41.48" x2="342.15" y2="41.48" stroke="#e2e2e2" stroke-width="0.9"/>
<line x1="307.4" y1="36.05" x2="342.15" y2="36.05" stroke="#e2e2e2" stroke-width="0.9"/>
<line x1="307.4" y1="30.62" x2="342.15" y2="30.62" stroke="#e2e2e2" stroke-width="0.9"/>
<line x1="307.4" y1="25.2" x2="342.15" y2="25.2" stroke="#e2e2e2" stroke-width="0.9"/>
<line x1="311.41" y1="24.5" x2="311.41" y2="51.1" stroke="#e2e2e2" stroke-width="0.9"/>
<line x1="318.09" y1="24.5" x2="318.09" y2="51.1" stroke="#e2e2e2" stroke-width="0.9"/>
<line x1="324.77" y1="24.5" x2="324.77" y2="51.1" stroke="#e2e2e2" stroke-width="0.9"/>
<line x1="331.46" y1="24.5" x2="331.46" y2="51.1" stroke="#e2e2e2" stroke-width="0.9"/>
<line x1="338.14" y1="24.5" x2="338.14" y2="51.1" stroke="#e2e2e2" stroke-width="0.9"/>
<rect x="309.96" y="25.88" width="2.9" height="1.85" rx="0.7" fill="#E64B35"/>
<rect x="316.64" y="25.88" width="2.9" height="1.85" rx="0.7" fill="#4DBBD5"/>
<rect x="323.32" y="25.88" width="2.9" height="1.85" rx="0.7" fill="#00A087"/>
<rect x="330.01" y="25.88" width="2.9" height="1.85" rx="0.7" fill="#3C5488"/>
<rect x="336.69" y="25.38" width="2.9" height="1.85" rx="0.7" fill="#F39B7F"/>
<polygon points="338.14,21.1 338.76,22.75 340.52,22.83 339.14,23.92 339.61,25.62 338.14,24.65 336.67,25.62 337.14,23.92 335.76,22.83 337.52,22.75" fill="#ff1a1a"/>
<line x1="348.13" y1="49.61" x2="382.88" y2="49.61" stroke="#ebebeb" stroke-width="0.6"/>
<line x1="348.13" y1="44.19" x2="382.88" y2="44.19" stroke="#ebebeb" stroke-width="0.6"/>
<line x1="348.13" y1="38.76" x2="382.88" y2="38.76" stroke="#ebebeb" stroke-width="0.6"/>
<line x1="348.13" y1="33.34" x2="382.88" y2="33.34" stroke="#ebebeb" stroke-width="0.6"/>
<line x1="348.13" y1="27.91" x2="382.88" y2="27.91" stroke="#ebebeb" stroke-width="0.6"/>
<line x1="348.13" y1="46.9" x2="382.88" y2="46.9" stroke="#e2e2e2" stroke-width="0.9"/>
<line x1="348.13" y1="41.48" x2="382.88" y2="41.48" stroke="#e2e2e2" stroke-width="0.9"/>
<line x1="348.13" y1="36.05" x2="382.88" y2="36.05" stroke="#e2e2e2" stroke-width="0.9"/>
<line x1="348.13" y1="30.62" x2="382.88" y2="30.62" stroke="#e2e2e2" stroke-width="0.9"/>
<line x1="348.13" y1="25.2" x2="382.88" y2="25.2" stroke="#e2e2e2" stroke-width="0.9"/>
<line x1="352.14" y1="24.5" x2="352.14" y2="51.1" stroke="#e2e2e2" stroke-width="0.9"/>
<line x1="358.82" y1="24.5" x2="358.82" y2="51.1" stroke="#e2e2e2" stroke-width="0.9"/>
<line x1="365.5" y1="24.5" x2="365.5" y2="51.1" stroke="#e2e2e2" stroke-width="0.9"/>
<line x1="372.19" y1="24.5" x2="372.19" y2="51.1" stroke="#e2e2e2" stroke-width="0.9"/>
<line x1="378.87" y1="24.5" x2="378.87" y2="51.1" stroke="#e2e2e2" stroke-width="0.9"/>
<rect x="350.69" y="40.08" width="2.9" height="1.85" rx="0.7" fill="#E64B35"/>
<rect x="357.37" y="26.98" width="2.9" height="1.85" rx="0.7" fill="#4DBBD5"/>
<rect x="364.06" y="35.78" width="2.9" height="1.85" rx="0.7" fill="#00A087"/>
<rect x="370.74" y="26.68" width="2.9" height="1.85" rx="0.7" fill="#3C5488"/>
<rect x="377.42" y="35.78" width="2.9" height="1.85" rx="0.7" fill="#F39B7F"/>
<polygon points="372.19,22.4 372.8,24.05 374.57,24.13 373.19,25.22 373.66,26.92 372.19,25.95 370.72,26.92 371.19,25.22 369.81,24.13 371.57,24.05" fill="#ff1a1a"/>
<line x1="388.86" y1="49.61" x2="423.61" y2="49.61" stroke="#ebebeb" stroke-width="0.6"/>
<line x1="388.86" y1="44.19" x2="423.61" y2="44.19" stroke="#ebebeb" stroke-width="0.6"/>
<line x1="388.86" y1="38.76" x2="423.61" y2="38.76" stroke="#ebebeb" stroke-width="0.6"/>
<line x1="388.86" y1="33.34" x2="423.61" y2="33.34" stroke="#ebebeb" stroke-width="0.6"/>
<line x1="388.86" y1="27.91" x2="423.61" y2="27.91" stroke="#ebebeb" stroke-width="0.6"/>
<line x1="388.86" y1="46.9" x2="423.61" y2="46.9" stroke="#e2e2e2" stroke-width="0.9"/>
<line x1="388.86" y1="41.48" x2="423.61" y2="41.48" stroke="#e2e2e2" stroke-width="0.9"/>
<line x1="388.86" y1="36.05" x2="423.61" y2="36.05" stroke="#e2e2e2" stroke-width="0.9"/>
<line x1="388.86" y1="30.62" x2="423.61" y2="30.62" stroke="#e2e2e2" stroke-width="0.9"/>
<line x1="388.86" y1="25.2" x2="423.61" y2="25.2" stroke="#e2e2e2" stroke-width="0.9"/>
<line x1="392.87" y1="24.5" x2="392.87" y2="51.1" stroke="#e2e2e2" stroke-width="0.9"/>
<line x1="399.55" y1="24.5" x2="399.55" y2="51.1" stroke="#e2e2e2" stroke-width="0.9"/>
<line x1="406.24" y1="24.5" x2="406.24" y2="51.1" stroke="#e2e2e2" stroke-width="0.9"/>
<line x1="412.92" y1="24.5" x2="412.92" y2="51.1" stroke="#e2e2e2" stroke-width="0.9"/>
<line x1="419.6" y1="24.5" x2="419.6" y2="51.1" stroke="#e2e2e2" stroke-width="0.9"/>
<rect x="391.42" y="42.98" width="2.9" height="1.85" rx="0.7" fill="#E64B35"/>
<rect x="398.1" y="40.38" width="2.9" height="1.85" rx="0.7" fill="#4DBBD5"/>
<rect x="404.79" y="38.48" width="2.9" height="1.85" rx="0.7" fill="#00A087"/>
<rect x="411.47" y="36.18" width="2.9" height="1.85" rx="0.7" fill="#3C5488"/>
<rect x="418.15" y="36.18" width="2.9" height="1.85" rx="0.7" fill="#F39B7F"/>
<polygon points="412.92,31.9 413.53,33.55 415.3,33.63 413.92,34.72 414.39,36.42 412.92,35.45 411.45,36.42 411.92,34.72 410.54,33.63 412.3,33.55" fill="#ff1a1a"/>
<polygon points="419.6,31.9 420.22,33.55 421.98,33.63 420.6,34.72 421.07,36.42 419.6,35.45 418.13,36.42 418.6,34.72 417.22,33.63 418.98,33.55" fill="#ff1a1a"/>
<line x1="429.59" y1="49.61" x2="464.34" y2="49.61" stroke="#ebebeb" stroke-width="0.6"/>
<line x1="429.59" y1="44.19" x2="464.34" y2="44.19" stroke="#ebebeb" stroke-width="0.6"/>
<line x1="429.59" y1="38.76" x2="464.34" y2="38.76" stroke="#ebebeb" stroke-width="0.6"/>
<line x1="429.59" y1="33.34" x2="464.34" y2="33.34" stroke="#ebebeb" stroke-width="0.6"/>
<line x1="429.59" y1="27.91" x2="464.34" y2="27.91" stroke="#ebebeb" stroke-width="0.6"/>
<line x1="429.59" y1="46.9" x2="464.34" y2="46.9" stroke="#e2e2e2" stroke-width="0.9"/>
<line x1="429.59" y1="41.48" x2="464.34" y2="41.48" stroke="#e2e2e2" stroke-width="0.9"/>
<line x1="429.59" y1="36.05" x2="464.34" y2="36.05" stroke="#e2e2e2" stroke-width="0.9"/>
<line x1="429.59" y1="30.62" x2="464.34" y2="30.62" stroke="#e2e2e2" stroke-width="0.9"/>
<line x1="429.59" y1="25.2" x2="464.34" y2="25.2" stroke="#e2e2e2" stroke-width="0.9"/>
<line x1="433.6" y1="24.5" x2="433.6" y2="51.1" stroke="#e2e2e2" stroke-width="0.9"/>
<line x1="440.28" y1="24.5" x2="440.28" y2="51.1" stroke="#e2e2e2" stroke-width="0.9"/>
<line x1="446.96" y1="24.5" x2="446.96" y2="51.1" stroke="#e2e2e2" stroke-width="0.9"/>
<line x1="453.65" y1="24.5" x2="453.65" y2="51.1" stroke="#e2e2e2" stroke-width="0.9"/>
<line x1="460.33" y1="24.5" x2="460.33" y2="51.1" stroke="#e2e2e2" stroke-width="0.9"/>
<rect x="432.15" y="49.28" width="2.9" height="1.85" rx="0.7" fill="#E64B35"/>
<rect x="438.83" y="27.38" width="2.9" height="1.85" rx="0.7" fill="#4DBBD5"/>
<rect x="445.51" y="28.98" width="2.9" height="1.85" rx="0.7" fill="#00A087"/>
<rect x="452.2" y="27.88" width="2.9" height="1.85" rx="0.7" fill="#3C5488"/>
<rect x="458.88" y="29.18" width="2.9" height="1.85" rx="0.7" fill="#F39B7F"/>
<polygon points="440.28,23.1 440.9,24.75 442.66,24.83 441.28,25.92 441.75,27.62 440.28,26.65 438.81,27.62 439.28,25.92 437.9,24.83 439.67,24.75" fill="#ff1a1a"/>
<text transform="translate(469.54,70.5) rotate(90)" font-size="7.6" text-anchor="middle" fill="#1a1a1a" stroke="#1a1a1a">O'Neil</text>
<text x="301.2" y="60.5" font-size="7.5" text-anchor="end" fill="#333333" stroke="#333333">1.00</text>
<text x="301.2" y="65.92" font-size="7.5" text-anchor="end" fill="#333333" stroke="#333333">0.75</text>
<text x="301.2" y="71.35" font-size="7.5" text-anchor="end" fill="#333333" stroke="#333333">0.50</text>
<text x="301.2" y="76.77" font-size="7.5" text-anchor="end" fill="#333333" stroke="#333333">0.25</text>
<text x="301.2" y="82.2" font-size="7.5" text-anchor="end" fill="#333333" stroke="#333333">0.00</text>
<line x1="307.4" y1="82.31" x2="342.15" y2="82.31" stroke="#ebebeb" stroke-width="0.6"/>
<line x1="307.4" y1="76.89" x2="342.15" y2="76.89" stroke="#ebebeb" stroke-width="0.6"/>
<line x1="307.4" y1="71.46" x2="342.15" y2="71.46" stroke="#ebebeb" stroke-width="0.6"/>
<line x1="307.4" y1="66.04" x2="342.15" y2="66.04" stroke="#ebebeb" stroke-width="0.6"/>
<line x1="307.4" y1="60.61" x2="342.15" y2="60.61" stroke="#ebebeb" stroke-width="0.6"/>
<line x1="307.4" y1="79.6" x2="342.15" y2="79.6" stroke="#e2e2e2" stroke-width="0.9"/>
<line x1="307.4" y1="74.17" x2="342.15" y2="74.17" stroke="#e2e2e2" stroke-width="0.9"/>
<line x1="307.4" y1="68.75" x2="342.15" y2="68.75" stroke="#e2e2e2" stroke-width="0.9"/>
<line x1="307.4" y1="63.32" x2="342.15" y2="63.32" stroke="#e2e2e2" stroke-width="0.9"/>
<line x1="307.4" y1="57.9" x2="342.15" y2="57.9" stroke="#e2e2e2" stroke-width="0.9"/>
<line x1="311.41" y1="57.2" x2="311.41" y2="83.8" stroke="#e2e2e2" stroke-width="0.9"/>
<line x1="318.09" y1="57.2" x2="318.09" y2="83.8" stroke="#e2e2e2" stroke-width="0.9"/>
<line x1="324.77" y1="57.2" x2="324.77" y2="83.8" stroke="#e2e2e2" stroke-width="0.9"/>
<line x1="331.46" y1="57.2" x2="331.46" y2="83.8" stroke="#e2e2e2" stroke-width="0.9"/>
<line x1="338.14" y1="57.2" x2="338.14" y2="83.8" stroke="#e2e2e2" stroke-width="0.9"/>
<rect x="309.96" y="63.78" width="2.9" height="1.85" rx="0.7" fill="#E64B35"/>
<rect x="316.64" y="60.08" width="2.9" height="1.85" rx="0.7" fill="#4DBBD5"/>
<rect x="323.32" y="60.48" width="2.9" height="1.85" rx="0.7" fill="#00A087"/>
<rect x="330.01" y="60.08" width="2.9" height="1.85" rx="0.7" fill="#3C5488"/>
<rect x="336.69" y="60.48" width="2.9" height="1.85" rx="0.7" fill="#F39B7F"/>
<polygon points="331.46,55.8 332.07,57.45 333.84,57.53 332.46,58.62 332.93,60.32 331.46,59.35 329.99,60.32 330.46,58.62 329.08,57.53 330.84,57.45" fill="#ff1a1a"/>
<line x1="348.13" y1="82.31" x2="382.88" y2="82.31" stroke="#ebebeb" stroke-width="0.6"/>
<line x1="348.13" y1="76.89" x2="382.88" y2="76.89" stroke="#ebebeb" stroke-width="0.6"/>
<line x1="348.13" y1="71.46" x2="382.88" y2="71.46" stroke="#ebebeb" stroke-width="0.6"/>
<line x1="348.13" y1="66.04" x2="382.88" y2="66.04" stroke="#ebebeb" stroke-width="0.6"/>
<line x1="348.13" y1="60.61" x2="382.88" y2="60.61" stroke="#ebebeb" stroke-width="0.6"/>
<line x1="348.13" y1="79.6" x2="382.88" y2="79.6" stroke="#e2e2e2" stroke-width="0.9"/>
<line x1="348.13" y1="74.17" x2="382.88" y2="74.17" stroke="#e2e2e2" stroke-width="0.9"/>
<line x1="348.13" y1="68.75" x2="382.88" y2="68.75" stroke="#e2e2e2" stroke-width="0.9"/>
<line x1="348.13" y1="63.32" x2="382.88" y2="63.32" stroke="#e2e2e2" stroke-width="0.9"/>
<line x1="348.13" y1="57.9" x2="382.88" y2="57.9" stroke="#e2e2e2" stroke-width="0.9"/>
<line x1="352.14" y1="57.2" x2="352.14" y2="83.8" stroke="#e2e2e2" stroke-width="0.9"/>
<line x1="358.82" y1="57.2" x2="358.82" y2="83.8" stroke="#e2e2e2" stroke-width="0.9"/>
<line x1="365.5" y1="57.2" x2="365.5" y2="83.8" stroke="#e2e2e2" stroke-width="0.9"/>
<line x1="372.19" y1="57.2" x2="372.19" y2="83.8" stroke="#e2e2e2" stroke-width="0.9"/>
<line x1="378.87" y1="57.2" x2="378.87" y2="83.8" stroke="#e2e2e2" stroke-width="0.9"/>
<rect x="350.69" y="58.48" width="2.9" height="1.85" rx="0.7" fill="#E64B35"/>
<rect x="357.37" y="58.48" width="2.9" height="1.85" rx="0.7" fill="#4DBBD5"/>
<rect x="364.06" y="58.48" width="2.9" height="1.85" rx="0.7" fill="#00A087"/>
<rect x="370.74" y="58.48" width="2.9" height="1.85" rx="0.7" fill="#3C5488"/>
<rect x="377.42" y="58.28" width="2.9" height="1.85" rx="0.7" fill="#F39B7F"/>
<polygon points="378.87,54 379.49,55.65 381.25,55.73 379.87,56.82 380.34,58.52 378.87,57.55 377.4,58.52 377.87,56.82 376.49,55.73 378.25,55.65" fill="#ff1a1a"/>
<line x1="388.86" y1="82.31" x2="423.61" y2="82.31" stroke="#ebebeb" stroke-width="0.6"/>
<line x1="388.86" y1="76.89" x2="423.61" y2="76.89" stroke="#ebebeb" stroke-width="0.6"/>
<line x1="388.86" y1="71.46" x2="423.61" y2="71.46" stroke="#ebebeb" stroke-width="0.6"/>
<line x1="388.86" y1="66.04" x2="423.61" y2="66.04" stroke="#ebebeb" stroke-width="0.6"/>
<line x1="388.86" y1="60.61" x2="423.61" y2="60.61" stroke="#ebebeb" stroke-width="0.6"/>
<line x1="388.86" y1="79.6" x2="423.61" y2="79.6" stroke="#e2e2e2" stroke-width="0.9"/>
<line x1="388.86" y1="74.17" x2="423.61" y2="74.17" stroke="#e2e2e2" stroke-width="0.9"/>
<line x1="388.86" y1="68.75" x2="423.61" y2="68.75" stroke="#e2e2e2" stroke-width="0.9"/>
<line x1="388.86" y1="63.32" x2="423.61" y2="63.32" stroke="#e2e2e2" stroke-width="0.9"/>
<line x1="388.86" y1="57.9" x2="423.61" y2="57.9" stroke="#e2e2e2" stroke-width="0.9"/>
<line x1="392.87" y1="57.2" x2="392.87" y2="83.8" stroke="#e2e2e2" stroke-width="0.9"/>
<line x1="399.55" y1="57.2" x2="399.55" y2="83.8" stroke="#e2e2e2" stroke-width="0.9"/>
<line x1="406.24" y1="57.2" x2="406.24" y2="83.8" stroke="#e2e2e2" stroke-width="0.9"/>
<line x1="412.92" y1="57.2" x2="412.92" y2="83.8" stroke="#e2e2e2" stroke-width="0.9"/>
<line x1="419.6" y1="57.2" x2="419.6" y2="83.8" stroke="#e2e2e2" stroke-width="0.9"/>
<rect x="391.42" y="72.98" width="2.9" height="1.85" rx="0.7" fill="#E64B35"/>
<rect x="398.1" y="74.28" width="2.9" height="1.85" rx="0.7" fill="#4DBBD5"/>
<rect x="404.79" y="72.08" width="2.9" height="1.85" rx="0.7" fill="#00A087"/>
<rect x="411.47" y="69.68" width="2.9" height="1.85" rx="0.7" fill="#3C5488"/>
<rect x="418.15" y="69.68" width="2.9" height="1.85" rx="0.7" fill="#F39B7F"/>
<polygon points="412.92,65.4 413.53,67.05 415.3,67.13 413.92,68.22 414.39,69.92 412.92,68.95 411.45,69.92 411.92,68.22 410.54,67.13 412.3,67.05" fill="#ff1a1a"/>
<polygon points="419.6,65.4 420.22,67.05 421.98,67.13 420.6,68.22 421.07,69.92 419.6,68.95 418.13,69.92 418.6,68.22 417.22,67.13 418.98,67.05" fill="#ff1a1a"/>
<line x1="429.59" y1="82.31" x2="464.34" y2="82.31" stroke="#ebebeb" stroke-width="0.6"/>
<line x1="429.59" y1="76.89" x2="464.34" y2="76.89" stroke="#ebebeb" stroke-width="0.6"/>
<line x1="429.59" y1="71.46" x2="464.34" y2="71.46" stroke="#ebebeb" stroke-width="0.6"/>
<line x1="429.59" y1="66.04" x2="464.34" y2="66.04" stroke="#ebebeb" stroke-width="0.6"/>
<line x1="429.59" y1="60.61" x2="464.34" y2="60.61" stroke="#ebebeb" stroke-width="0.6"/>
<line x1="429.59" y1="79.6" x2="464.34" y2="79.6" stroke="#e2e2e2" stroke-width="0.9"/>
<line x1="429.59" y1="74.17" x2="464.34" y2="74.17" stroke="#e2e2e2" stroke-width="0.9"/>
<line x1="429.59" y1="68.75" x2="464.34" y2="68.75" stroke="#e2e2e2" stroke-width="0.9"/>
<line x1="429.59" y1="63.32" x2="464.34" y2="63.32" stroke="#e2e2e2" stroke-width="0.9"/>
<line x1="429.59" y1="57.9" x2="464.34" y2="57.9" stroke="#e2e2e2" stroke-width="0.9"/>
<line x1="433.6" y1="57.2" x2="433.6" y2="83.8" stroke="#e2e2e2" stroke-width="0.9"/>
<line x1="440.28" y1="57.2" x2="440.28" y2="83.8" stroke="#e2e2e2" stroke-width="0.9"/>
<line x1="446.96" y1="57.2" x2="446.96" y2="83.8" stroke="#e2e2e2" stroke-width="0.9"/>
<line x1="453.65" y1="57.2" x2="453.65" y2="83.8" stroke="#e2e2e2" stroke-width="0.9"/>
<line x1="460.33" y1="57.2" x2="460.33" y2="83.8" stroke="#e2e2e2" stroke-width="0.9"/>
<rect x="432.15" y="68.98" width="2.9" height="1.85" rx="0.7" fill="#E64B35"/>
<rect x="438.83" y="61.38" width="2.9" height="1.85" rx="0.7" fill="#4DBBD5"/>
<rect x="445.51" y="62.08" width="2.9" height="1.85" rx="0.7" fill="#00A087"/>
<rect x="452.2" y="61.78" width="2.9" height="1.85" rx="0.7" fill="#3C5488"/>
<rect x="458.88" y="62.18" width="2.9" height="1.85" rx="0.7" fill="#F39B7F"/>
<polygon points="440.28,57.1 440.9,58.75 442.66,58.83 441.28,59.92 441.75,61.62 440.28,60.65 438.81,61.62 439.28,59.92 437.9,58.83 439.67,58.75" fill="#ff1a1a"/>
<text transform="translate(469.54,103.2) rotate(90)" font-size="7.6" text-anchor="middle" fill="#1a1a1a" stroke="#1a1a1a">FORCINA</text>
<text x="301.2" y="93.2" font-size="7.5" text-anchor="end" fill="#333333" stroke="#333333">1.00</text>
<text x="301.2" y="98.62" font-size="7.5" text-anchor="end" fill="#333333" stroke="#333333">0.75</text>
<text x="301.2" y="104.05" font-size="7.5" text-anchor="end" fill="#333333" stroke="#333333">0.50</text>
<text x="301.2" y="109.48" font-size="7.5" text-anchor="end" fill="#333333" stroke="#333333">0.25</text>
<text x="301.2" y="114.9" font-size="7.5" text-anchor="end" fill="#333333" stroke="#333333">0.00</text>
<line x1="307.4" y1="115.01" x2="342.15" y2="115.01" stroke="#ebebeb" stroke-width="0.6"/>
<line x1="307.4" y1="109.59" x2="342.15" y2="109.59" stroke="#ebebeb" stroke-width="0.6"/>
<line x1="307.4" y1="104.16" x2="342.15" y2="104.16" stroke="#ebebeb" stroke-width="0.6"/>
<line x1="307.4" y1="98.74" x2="342.15" y2="98.74" stroke="#ebebeb" stroke-width="0.6"/>
<line x1="307.4" y1="93.31" x2="342.15" y2="93.31" stroke="#ebebeb" stroke-width="0.6"/>
<line x1="307.4" y1="112.3" x2="342.15" y2="112.3" stroke="#e2e2e2" stroke-width="0.9"/>
<line x1="307.4" y1="106.88" x2="342.15" y2="106.88" stroke="#e2e2e2" stroke-width="0.9"/>
<line x1="307.4" y1="101.45" x2="342.15" y2="101.45" stroke="#e2e2e2" stroke-width="0.9"/>
<line x1="307.4" y1="96.03" x2="342.15" y2="96.03" stroke="#e2e2e2" stroke-width="0.9"/>
<line x1="307.4" y1="90.6" x2="342.15" y2="90.6" stroke="#e2e2e2" stroke-width="0.9"/>
<line x1="311.41" y1="89.9" x2="311.41" y2="116.5" stroke="#e2e2e2" stroke-width="0.9"/>
<line x1="318.09" y1="89.9" x2="318.09" y2="116.5" stroke="#e2e2e2" stroke-width="0.9"/>
<line x1="324.77" y1="89.9" x2="324.77" y2="116.5" stroke="#e2e2e2" stroke-width="0.9"/>
<line x1="331.46" y1="89.9" x2="331.46" y2="116.5" stroke="#e2e2e2" stroke-width="0.9"/>
<line x1="338.14" y1="89.9" x2="338.14" y2="116.5" stroke="#e2e2e2" stroke-width="0.9"/>
<rect x="309.96" y="99.88" width="2.9" height="1.85" rx="0.7" fill="#E64B35"/>
<rect x="316.64" y="94.28" width="2.9" height="1.85" rx="0.7" fill="#4DBBD5"/>
<rect x="323.32" y="93.58" width="2.9" height="1.85" rx="0.7" fill="#00A087"/>
<rect x="330.01" y="94.58" width="2.9" height="1.85" rx="0.7" fill="#3C5488"/>
<rect x="336.69" y="93.98" width="2.9" height="1.85" rx="0.7" fill="#F39B7F"/>
<polygon points="324.77,89.3 325.39,90.95 327.15,91.03 325.77,92.12 326.24,93.82 324.77,92.85 323.31,93.82 323.78,92.12 322.4,91.03 324.16,90.95" fill="#ff1a1a"/>
<line x1="348.13" y1="115.01" x2="382.88" y2="115.01" stroke="#ebebeb" stroke-width="0.6"/>
<line x1="348.13" y1="109.59" x2="382.88" y2="109.59" stroke="#ebebeb" stroke-width="0.6"/>
<line x1="348.13" y1="104.16" x2="382.88" y2="104.16" stroke="#ebebeb" stroke-width="0.6"/>
<line x1="348.13" y1="98.74" x2="382.88" y2="98.74" stroke="#ebebeb" stroke-width="0.6"/>
<line x1="348.13" y1="93.31" x2="382.88" y2="93.31" stroke="#ebebeb" stroke-width="0.6"/>
<line x1="348.13" y1="112.3" x2="382.88" y2="112.3" stroke="#e2e2e2" stroke-width="0.9"/>
<line x1="348.13" y1="106.88" x2="382.88" y2="106.88" stroke="#e2e2e2" stroke-width="0.9"/>
<line x1="348.13" y1="101.45" x2="382.88" y2="101.45" stroke="#e2e2e2" stroke-width="0.9"/>
<line x1="348.13" y1="96.03" x2="382.88" y2="96.03" stroke="#e2e2e2" stroke-width="0.9"/>
<line x1="348.13" y1="90.6" x2="382.88" y2="90.6" stroke="#e2e2e2" stroke-width="0.9"/>
<line x1="352.14" y1="89.9" x2="352.14" y2="116.5" stroke="#e2e2e2" stroke-width="0.9"/>
<line x1="358.82" y1="89.9" x2="358.82" y2="116.5" stroke="#e2e2e2" stroke-width="0.9"/>
<line x1="365.5" y1="89.9" x2="365.5" y2="116.5" stroke="#e2e2e2" stroke-width="0.9"/>
<line x1="372.19" y1="89.9" x2="372.19" y2="116.5" stroke="#e2e2e2" stroke-width="0.9"/>
<line x1="378.87" y1="89.9" x2="378.87" y2="116.5" stroke="#e2e2e2" stroke-width="0.9"/>
<rect x="350.69" y="102.78" width="2.9" height="1.85" rx="0.7" fill="#E64B35"/>
<rect x="357.37" y="94.08" width="2.9" height="1.85" rx="0.7" fill="#4DBBD5"/>
<rect x="364.06" y="98.58" width="2.9" height="1.85" rx="0.7" fill="#00A087"/>
<rect x="370.74" y="93.68" width="2.9" height="1.85" rx="0.7" fill="#3C5488"/>
<rect x="377.42" y="100.88" width="2.9" height="1.85" rx="0.7" fill="#F39B7F"/>
<polygon points="372.19,89.4 372.8,91.05 374.57,91.13 373.19,92.22 373.66,93.92 372.19,92.95 370.72,93.92 371.19,92.22 369.81,91.13 371.57,91.05" fill="#ff1a1a"/>
<line x1="388.86" y1="115.01" x2="423.61" y2="115.01" stroke="#ebebeb" stroke-width="0.6"/>
<line x1="388.86" y1="109.59" x2="423.61" y2="109.59" stroke="#ebebeb" stroke-width="0.6"/>
<line x1="388.86" y1="104.16" x2="423.61" y2="104.16" stroke="#ebebeb" stroke-width="0.6"/>
<line x1="388.86" y1="98.74" x2="423.61" y2="98.74" stroke="#ebebeb" stroke-width="0.6"/>
<line x1="388.86" y1="93.31" x2="423.61" y2="93.31" stroke="#ebebeb" stroke-width="0.6"/>
<line x1="388.86" y1="112.3" x2="423.61" y2="112.3" stroke="#e2e2e2" stroke-width="0.9"/>
<line x1="388.86" y1="106.88" x2="423.61" y2="106.88" stroke="#e2e2e2" stroke-width="0.9"/>
<line x1="388.86" y1="101.45" x2="423.61" y2="101.45" stroke="#e2e2e2" stroke-width="0.9"/>
<line x1="388.86" y1="96.03" x2="423.61" y2="96.03" stroke="#e2e2e2" stroke-width="0.9"/>
<line x1="388.86" y1="90.6" x2="423.61" y2="90.6" stroke="#e2e2e2" stroke-width="0.9"/>
<line x1="392.87" y1="89.9" x2="392.87" y2="116.5" stroke="#e2e2e2" stroke-width="0.9"/>
<line x1="399.55" y1="89.9" x2="399.55" y2="116.5" stroke="#e2e2e2" stroke-width="0.9"/>
<line x1="406.24" y1="89.9" x2="406.24" y2="116.5" stroke="#e2e2e2" stroke-width="0.9"/>
<line x1="412.92" y1="89.9" x2="412.92" y2="116.5" stroke="#e2e2e2" stroke-width="0.9"/>
<line x1="419.6" y1="89.9" x2="419.6" y2="116.5" stroke="#e2e2e2" stroke-width="0.9"/>
<rect x="391.42" y="93.68" width="2.9" height="1.85" rx="0.7" fill="#E64B35"/>
<rect x="398.1" y="93.68" width="2.9" height="1.85" rx="0.7" fill="#4DBBD5"/>
<rect x="404.79" y="93.68" width="2.9" height="1.85" rx="0.7" fill="#00A087"/>
<rect x="411.47" y="93.68" width="2.9" height="1.85" rx="0.7" fill="#3C5488"/>
<rect x="418.15" y="93.68" width="2.9" height="1.85" rx="0.7" fill="#F39B7F"/>
<polygon points="392.87,89.4 393.49,91.05 395.25,91.13 393.87,92.22 394.34,93.92 392.87,92.95 391.4,93.92 391.87,92.22 390.49,91.13 392.25,91.05" fill="#ff1a1a"/>
<line x1="429.59" y1="115.01" x2="464.34" y2="115.01" stroke="#ebebeb" stroke-width="0.6"/>
<line x1="429.59" y1="109.59" x2="464.34" y2="109.59" stroke="#ebebeb" stroke-width="0.6"/>
<line x1="429.59" y1="104.16" x2="464.34" y2="104.16" stroke="#ebebeb" stroke-width="0.6"/>
<line x1="429.59" y1="98.74" x2="464.34" y2="98.74" stroke="#ebebeb" stroke-width="0.6"/>
<line x1="429.59" y1="93.31" x2="464.34" y2="93.31" stroke="#ebebeb" stroke-width="0.6"/>
<line x1="429.59" y1="112.3" x2="464.34" y2="112.3" stroke="#e2e2e2" stroke-width="0.9"/>
<line x1="429.59" y1="106.88" x2="464.34" y2="106.88" stroke="#e2e2e2" stroke-width="0.9"/>
<line x1="429.59" y1="101.45" x2="464.34" y2="101.45" stroke="#e2e2e2" stroke-width="0.9"/>
<line x1="429.59" y1="96.03" x2="464.34" y2="96.03" stroke="#e2e2e2" stroke-width="0.9"/>
<line x1="429.59" y1="90.6" x2="464.34" y2="90.6" stroke="#e2e2e2" stroke-width="0.9"/>
<line x1="433.6" y1="89.9" x2="433.6" y2="116.5" stroke="#e2e2e2" stroke-width="0.9"/>
<line x1="440.28" y1="89.9" x2="440.28" y2="116.5" stroke="#e2e2e2" stroke-width="0.9"/>
<line x1="446.96" y1="89.9" x2="446.96" y2="116.5" stroke="#e2e2e2" stroke-width="0.9"/>
<line x1="453.65" y1="89.9" x2="453.65" y2="116.5" stroke="#e2e2e2" stroke-width="0.9"/>
<line x1="460.33" y1="89.9" x2="460.33" y2="116.5" stroke="#e2e2e2" stroke-width="0.9"/>
<rect x="432.15" y="101.58" width="2.9" height="1.85" rx="0.7" fill="#E64B35"/>
<rect x="438.83" y="96.98" width="2.9" height="1.85" rx="0.7" fill="#4DBBD5"/>
<rect x="445.51" y="96.18" width="2.9" height="1.85" rx="0.7" fill="#00A087"/>
<rect x="452.2" y="97.18" width="2.9" height="1.85" rx="0.7" fill="#3C5488"/>
<rect x="458.88" y="97.18" width="2.9" height="1.85" rx="0.7" fill="#F39B7F"/>
<polygon points="446.96,91.9 447.58,93.55 449.34,93.63 447.96,94.72 448.43,96.42 446.96,95.45 445.5,96.42 445.97,94.72 444.59,93.63 446.35,93.55" fill="#ff1a1a"/>
<text transform="translate(469.54,137.4) rotate(90)" font-size="7.6" text-anchor="middle" fill="#1a1a1a" stroke="#1a1a1a">Mathews</text>
<text x="301.2" y="125.9" font-size="7.5" text-anchor="end" fill="#333333" stroke="#333333">1.00</text>
<text x="301.2" y="131.32" font-size="7.5" text-anchor="end" fill="#333333" stroke="#333333">0.75</text>
<text x="301.2" y="136.75" font-size="7.5" text-anchor="end" fill="#333333" stroke="#333333">0.50</text>
<text x="301.2" y="142.17" font-size="7.5" text-anchor="end" fill="#333333" stroke="#333333">0.25</text>
<text x="301.2" y="147.6" font-size="7.5" text-anchor="end" fill="#333333" stroke="#333333">0.00</text>
<line x1="307.4" y1="147.71" x2="342.15" y2="147.71" stroke="#ebebeb" stroke-width="0.6"/>
<line x1="307.4" y1="142.29" x2="342.15" y2="142.29" stroke="#ebebeb" stroke-width="0.6"/>
<line x1="307.4" y1="136.86" x2="342.15" y2="136.86" stroke="#ebebeb" stroke-width="0.6"/>
<line x1="307.4" y1="131.44" x2="342.15" y2="131.44" stroke="#ebebeb" stroke-width="0.6"/>
<line x1="307.4" y1="126.01" x2="342.15" y2="126.01" stroke="#ebebeb" stroke-width="0.6"/>
<line x1="307.4" y1="145" x2="342.15" y2="145" stroke="#e2e2e2" stroke-width="0.9"/>
<line x1="307.4" y1="139.57" x2="342.15" y2="139.57" stroke="#e2e2e2" stroke-width="0.9"/>
<line x1="307.4" y1="134.15" x2="342.15" y2="134.15" stroke="#e2e2e2" stroke-width="0.9"/>
<line x1="307.4" y1="128.72" x2="342.15" y2="128.72" stroke="#e2e2e2" stroke-width="0.9"/>
<line x1="307.4" y1="123.3" x2="342.15" y2="123.3" stroke="#e2e2e2" stroke-width="0.9"/>
<line x1="311.41" y1="122.6" x2="311.41" y2="149.2" stroke="#e2e2e2" stroke-width="0.9"/>
<line x1="318.09" y1="122.6" x2="318.09" y2="149.2" stroke="#e2e2e2" stroke-width="0.9"/>
<line x1="324.77" y1="122.6" x2="324.77" y2="149.2" stroke="#e2e2e2" stroke-width="0.9"/>
<line x1="331.46" y1="122.6" x2="331.46" y2="149.2" stroke="#e2e2e2" stroke-width="0.9"/>
<line x1="338.14" y1="122.6" x2="338.14" y2="149.2" stroke="#e2e2e2" stroke-width="0.9"/>
<rect x="309.96" y="131.38" width="2.9" height="1.85" rx="0.7" fill="#E64B35"/>
<rect x="316.64" y="123.88" width="2.9" height="1.85" rx="0.7" fill="#4DBBD5"/>
<rect x="323.32" y="124.38" width="2.9" height="1.85" rx="0.7" fill="#00A087"/>
<rect x="330.01" y="123.88" width="2.9" height="1.85" rx="0.7" fill="#3C5488"/>
<rect x="336.69" y="125.08" width="2.9" height="1.85" rx="0.7" fill="#F39B7F"/>
<polygon points="331.46,119.6 332.07,121.25 333.84,121.33 332.46,122.42 332.93,124.12 331.46,123.15 329.99,124.12 330.46,122.42 329.08,121.33 330.84,121.25" fill="#ff1a1a"/>
<line x1="348.13" y1="147.71" x2="382.88" y2="147.71" stroke="#ebebeb" stroke-width="0.6"/>
<line x1="348.13" y1="142.29" x2="382.88" y2="142.29" stroke="#ebebeb" stroke-width="0.6"/>
<line x1="348.13" y1="136.86" x2="382.88" y2="136.86" stroke="#ebebeb" stroke-width="0.6"/>
<line x1="348.13" y1="131.44" x2="382.88" y2="131.44" stroke="#ebebeb" stroke-width="0.6"/>
<line x1="348.13" y1="126.01" x2="382.88" y2="126.01" stroke="#ebebeb" stroke-width="0.6"/>
<line x1="348.13" y1="145" x2="382.88" y2="145" stroke="#e2e2e2" stroke-width="0.9"/>
<line x1="348.13" y1="139.57" x2="382.88" y2="139.57" stroke="#e2e2e2" stroke-width="0.9"/>
<line x1="348.13" y1="134.15" x2="382.88" y2="134.15" stroke="#e2e2e2" stroke-width="0.9"/>
<line x1="348.13" y1="128.72" x2="382.88" y2="128.72" stroke="#e2e2e2" stroke-width="0.9"/>
<line x1="348.13" y1="123.3" x2="382.88" y2="123.3" stroke="#e2e2e2" stroke-width="0.9"/>
<line x1="352.14" y1="122.6" x2="352.14" y2="149.2" stroke="#e2e2e2" stroke-width="0.9"/>
<line x1="358.82" y1="122.6" x2="358.82" y2="149.2" stroke="#e2e2e2" stroke-width="0.9"/>
<line x1="365.5" y1="122.6" x2="365.5" y2="149.2" stroke="#e2e2e2" stroke-width="0.9"/>
<line x1="372.19" y1="122.6" x2="372.19" y2="149.2" stroke="#e2e2e2" stroke-width="0.9"/>
<line x1="378.87" y1="122.6" x2="378.87" y2="149.2" stroke="#e2e2e2" stroke-width="0.9"/>
<rect x="350.69" y="131.08" width="2.9" height="1.85" rx="0.7" fill="#E64B35"/>
<rect x="357.37" y="125.48" width="2.9" height="1.85" rx="0.7" fill="#4DBBD5"/>
<rect x="364.06" y="130.08" width="2.9" height="1.85" rx="0.7" fill="#00A087"/>
<rect x="370.74" y="125.38" width="2.9" height="1.85" rx="0.7" fill="#3C5488"/>
<rect x="377.42" y="130.98" width="2.9" height="1.85" rx="0.7" fill="#F39B7F"/>
<polygon points="372.19,121.1 372.8,122.75 374.57,122.83 373.19,123.92 373.66,125.62 372.19,124.65 370.72,125.62 371.19,123.92 369.81,122.83 371.57,122.75" fill="#ff1a1a"/>
<line x1="388.86" y1="147.71" x2="423.61" y2="147.71" stroke="#ebebeb" stroke-width="0.6"/>
<line x1="388.86" y1="142.29" x2="423.61" y2="142.29" stroke="#ebebeb" stroke-width="0.6"/>
<line x1="388.86" y1="136.86" x2="423.61" y2="136.86" stroke="#ebebeb" stroke-width="0.6"/>
<line x1="388.86" y1="131.44" x2="423.61" y2="131.44" stroke="#ebebeb" stroke-width="0.6"/>
<line x1="388.86" y1="126.01" x2="423.61" y2="126.01" stroke="#ebebeb" stroke-width="0.6"/>
<line x1="388.86" y1="145" x2="423.61" y2="145" stroke="#e2e2e2" stroke-width="0.9"/>
<line x1="388.86" y1="139.57" x2="423.61" y2="139.57" stroke="#e2e2e2" stroke-width="0.9"/>
<line x1="388.86" y1="134.15" x2="423.61" y2="134.15" stroke="#e2e2e2" stroke-width="0.9"/>
<line x1="388.86" y1="128.72" x2="423.61" y2="128.72" stroke="#e2e2e2" stroke-width="0.9"/>
<line x1="388.86" y1="123.3" x2="423.61" y2="123.3" stroke="#e2e2e2" stroke-width="0.9"/>
<line x1="392.87" y1="122.6" x2="392.87" y2="149.2" stroke="#e2e2e2" stroke-width="0.9"/>
<line x1="399.55" y1="122.6" x2="399.55" y2="149.2" stroke="#e2e2e2" stroke-width="0.9"/>
<line x1="406.24" y1="122.6" x2="406.24" y2="149.2" stroke="#e2e2e2" stroke-width="0.9"/>
<line x1="412.92" y1="122.6" x2="412.92" y2="149.2" stroke="#e2e2e2" stroke-width="0.9"/>
<line x1="419.6" y1="122.6" x2="419.6" y2="149.2" stroke="#e2e2e2" stroke-width="0.9"/>
<rect x="391.42" y="134.68" width="2.9" height="1.85" rx="0.7" fill="#E64B35"/>
<line x1="399.55" y1="143" x2="399.55" y2="148.6" stroke="#4DBBD5" stroke-width="0.8"/>
<ellipse cx="399.55" cy="145.8" rx="1.6" ry="1.45" fill="#4DBBD5"/>
<line x1="406.24" y1="143" x2="406.24" y2="148.6" stroke="#00A087" stroke-width="0.8"/>
<ellipse cx="406.24" cy="145.8" rx="1.6" ry="1.45" fill="#00A087"/>
<line x1="412.92" y1="140.7" x2="412.92" y2="145.7" stroke="#3C5488" stroke-width="0.8"/>
<ellipse cx="412.92" cy="143.2" rx="1.6" ry="1.45" fill="#3C5488"/>
<line x1="419.6" y1="140.7" x2="419.6" y2="145.7" stroke="#F39B7F" stroke-width="0.8"/>
<ellipse cx="419.6" cy="143.2" rx="1.6" ry="1.45" fill="#F39B7F"/>
<polygon points="392.87,130.4 393.49,132.05 395.25,132.13 393.87,133.22 394.34,134.92 392.87,133.95 391.4,134.92 391.87,133.22 390.49,132.13 392.25,132.05" fill="#ff1a1a"/>
<line x1="429.59" y1="147.71" x2="464.34" y2="147.71" stroke="#ebebeb" stroke-width="0.6"/>
<line x1="429.59" y1="142.29" x2="464.34" y2="142.29" stroke="#ebebeb" stroke-width="0.6"/>
<line x1="429.59" y1="136.86" x2="464.34" y2="136.86" stroke="#ebebeb" stroke-width="0.6"/>
<line x1="429.59" y1="131.44" x2="464.34" y2="131.44" stroke="#ebebeb" stroke-width="0.6"/>
<line x1="429.59" y1="126.01" x2="464.34" y2="126.01" stroke="#ebebeb" stroke-width="0.6"/>
<line x1="429.59" y1="145" x2="464.34" y2="145" stroke="#e2e2e2" stroke-width="0.9"/>
<line x1="429.59" y1="139.57" x2="464.34" y2="139.57" stroke="#e2e2e2" stroke-width="0.9"/>
<line x1="429.59" y1="134.15" x2="464.34" y2="134.15" stroke="#e2e2e2" stroke-width="0.9"/>
<line x1="429.59" y1="128.72" x2="464.34" y2="128.72" stroke="#e2e2e2" stroke-width="0.9"/>
<line x1="429.59" y1="123.3" x2="464.34" y2="123.3" stroke="#e2e2e2" stroke-width="0.9"/>
<line x1="433.6" y1="122.6" x2="433.6" y2="149.2" stroke="#e2e2e2" stroke-width="0.9"/>
<line x1="440.28" y1="122.6" x2="440.28" y2="149.2" stroke="#e2e2e2" stroke-width="0.9"/>
<line x1="446.96" y1="122.6" x2="446.96" y2="149.2" stroke="#e2e2e2" stroke-width="0.9"/>
<line x1="453.65" y1="122.6" x2="453.65" y2="149.2" stroke="#e2e2e2" stroke-width="0.9"/>
<line x1="460.33" y1="122.6" x2="460.33" y2="149.2" stroke="#e2e2e2" stroke-width="0.9"/>
<rect x="432.15" y="123.78" width="2.9" height="1.85" rx="0.7" fill="#E64B35"/>
<rect x="438.83" y="123.28" width="2.9" height="1.85" rx="0.7" fill="#4DBBD5"/>
<rect x="445.51" y="123.28" width="2.9" height="1.85" rx="0.7" fill="#00A087"/>
<rect x="452.2" y="123.28" width="2.9" height="1.85" rx="0.7" fill="#3C5488"/>
<rect x="458.88" y="123.28" width="2.9" height="1.85" rx="0.7" fill="#F39B7F"/>
<polygon points="460.33,119 460.95,120.65 462.71,120.73 461.33,121.82 461.8,123.52 460.33,122.55 458.86,123.52 459.33,121.82 457.95,120.73 459.71,120.65" fill="#ff1a1a"/>
<text transform="translate(306.01,155) rotate(90)" font-size="7.4" style="stroke-width:0.32px" fill="#333333" stroke="#333333">M1</text>
<text transform="translate(312.69,155) rotate(90)" font-size="7.4" style="stroke-width:0.32px" fill="#333333" stroke="#333333">M5</text>
<text transform="translate(319.38,155) rotate(90)" font-size="7.4" style="stroke-width:0.32px" fill="#333333" stroke="#333333">M6</text>
<text transform="translate(326.06,155) rotate(90)" font-size="7.4" style="stroke-width:0.32px" fill="#333333" stroke="#333333">M11</text>
<text transform="translate(332.74,155) rotate(90)" font-size="7.4" style="stroke-width:0.32px" fill="#333333" stroke="#333333">M12</text>
<text transform="translate(346.74,155) rotate(90)" font-size="7.4" style="stroke-width:0.32px" fill="#333333" stroke="#333333">M1</text>
<text transform="translate(353.42,155) rotate(90)" font-size="7.4" style="stroke-width:0.32px" fill="#333333" stroke="#333333">M5</text>
<text transform="translate(360.11,155) rotate(90)" font-size="7.4" style="stroke-width:0.32px" fill="#333333" stroke="#333333">M6</text>
<text transform="translate(366.79,155) rotate(90)" font-size="7.4" style="stroke-width:0.32px" fill="#333333" stroke="#333333">M11</text>
<text transform="translate(373.47,155) rotate(90)" font-size="7.4" style="stroke-width:0.32px" fill="#333333" stroke="#333333">M12</text>
<text transform="translate(387.47,155) rotate(90)" font-size="7.4" style="stroke-width:0.32px" fill="#333333" stroke="#333333">M1</text>
<text transform="translate(394.15,155) rotate(90)" font-size="7.4" style="stroke-width:0.32px" fill="#333333" stroke="#333333">M5</text>
<text transform="translate(400.84,155) rotate(90)" font-size="7.4" style="stroke-width:0.32px" fill="#333333" stroke="#333333">M6</text>
<text transform="translate(407.52,155) rotate(90)" font-size="7.4" style="stroke-width:0.32px" fill="#333333" stroke="#333333">M11</text>
<text transform="translate(414.2,155) rotate(90)" font-size="7.4" style="stroke-width:0.32px" fill="#333333" stroke="#333333">M12</text>
<text transform="translate(428.2,155) rotate(90)" font-size="7.4" style="stroke-width:0.32px" fill="#333333" stroke="#333333">M1</text>
<text transform="translate(434.88,155) rotate(90)" font-size="7.4" style="stroke-width:0.32px" fill="#333333" stroke="#333333">M5</text>
<text transform="translate(441.56,155) rotate(90)" font-size="7.4" style="stroke-width:0.32px" fill="#333333" stroke="#333333">M6</text>
<text transform="translate(448.25,155) rotate(90)" font-size="7.4" style="stroke-width:0.32px" fill="#333333" stroke="#333333">M11</text>
<text transform="translate(454.93,155) rotate(90)" font-size="7.4" style="stroke-width:0.32px" fill="#333333" stroke="#333333">M12</text>
<text transform="translate(282.3,86.85) rotate(-90)" font-size="8.8" text-anchor="middle" fill="#1a1a1a" stroke="#1a1a1a">Pearson's r</text>
<text x="592.8" y="7.8" font-size="10.7" font-weight="bold" text-anchor="middle" fill="#000" stroke="#000">Bliss</text>
<text x="533.95" y="19.3" font-size="7.65" text-anchor="middle" fill="#1a1a1a" stroke="#1a1a1a">ALMANAC</text>
<text x="574.68" y="19.3" font-size="7.65" text-anchor="middle" fill="#1a1a1a" stroke="#1a1a1a">O'Neil</text>
<text x="615.41" y="19.3" font-size="7.65" text-anchor="middle" fill="#1a1a1a" stroke="#1a1a1a">FORCINA</text>
<text x="656.14" y="19.3" font-size="7.65" text-anchor="middle" fill="#1a1a1a" stroke="#1a1a1a">Mathews</text>
<text transform="translate(678.79,38.2) rotate(90)" font-size="7.6" text-anchor="middle" fill="#1a1a1a" stroke="#1a1a1a">ALMANAC</text>
<text x="511" y="35.8" font-size="7.5" text-anchor="end" fill="#333333" stroke="#333333">0.5</text>
<text x="511" y="45" font-size="7.5" text-anchor="end" fill="#333333" stroke="#333333">0.0</text>
<text x="511" y="54.2" font-size="7.5" text-anchor="end" fill="#333333" stroke="#333333">−0.5</text>
<line x1="516.5" y1="47" x2="551.4" y2="47" stroke="#ebebeb" stroke-width="0.6"/>
<line x1="516.5" y1="37.8" x2="551.4" y2="37.8" stroke="#ebebeb" stroke-width="0.6"/>
<line x1="516.5" y1="28.6" x2="551.4" y2="28.6" stroke="#ebebeb" stroke-width="0.6"/>
<line x1="516.5" y1="51.6" x2="551.4" y2="51.6" stroke="#e2e2e2" stroke-width="0.9"/>
<line x1="516.5" y1="42.4" x2="551.4" y2="42.4" stroke="#e2e2e2" stroke-width="0.9"/>
<line x1="516.5" y1="33.2" x2="551.4" y2="33.2" stroke="#e2e2e2" stroke-width="0.9"/>
<line x1="520.53" y1="25" x2="520.53" y2="51.4" stroke="#e2e2e2" stroke-width="0.9"/>
<line x1="527.24" y1="25" x2="527.24" y2="51.4" stroke="#e2e2e2" stroke-width="0.9"/>
<line x1="533.95" y1="25" x2="533.95" y2="51.4" stroke="#e2e2e2" stroke-width="0.9"/>
<line x1="540.66" y1="25" x2="540.66" y2="51.4" stroke="#e2e2e2" stroke-width="0.9"/>
<line x1="547.37" y1="25" x2="547.37" y2="51.4" stroke="#e2e2e2" stroke-width="0.9"/>
<rect x="519.08" y="31.18" width="2.9" height="1.85" rx="0.7" fill="#E64B35"/>
<rect x="525.79" y="31.58" width="2.9" height="1.85" rx="0.7" fill="#4DBBD5"/>
<rect x="532.5" y="30.88" width="2.9" height="1.85" rx="0.7" fill="#00A087"/>
<rect x="539.21" y="31.58" width="2.9" height="1.85" rx="0.7" fill="#3C5488"/>
<rect x="545.92" y="30.68" width="2.9" height="1.85" rx="0.7" fill="#F39B7F"/>
<polygon points="547.37,26.4 547.99,28.05 549.75,28.13 548.37,29.22 548.84,30.92 547.37,29.95 545.9,30.92 546.37,29.22 545,28.13 546.76,28.05" fill="#ff1a1a"/>
<line x1="557.23" y1="47" x2="592.13" y2="47" stroke="#ebebeb" stroke-width="0.6"/>
<line x1="557.23" y1="37.8" x2="592.13" y2="37.8" stroke="#ebebeb" stroke-width="0.6"/>
<line x1="557.23" y1="28.6" x2="592.13" y2="28.6" stroke="#ebebeb" stroke-width="0.6"/>
<line x1="557.23" y1="51.6" x2="592.13" y2="51.6" stroke="#e2e2e2" stroke-width="0.9"/>
<line x1="557.23" y1="42.4" x2="592.13" y2="42.4" stroke="#e2e2e2" stroke-width="0.9"/>
<line x1="557.23" y1="33.2" x2="592.13" y2="33.2" stroke="#e2e2e2" stroke-width="0.9"/>
<line x1="561.26" y1="25" x2="561.26" y2="51.4" stroke="#e2e2e2" stroke-width="0.9"/>
<line x1="567.97" y1="25" x2="567.97" y2="51.4" stroke="#e2e2e2" stroke-width="0.9"/>
<line x1="574.68" y1="25" x2="574.68" y2="51.4" stroke="#e2e2e2" stroke-width="0.9"/>
<line x1="581.39" y1="25" x2="581.39" y2="51.4" stroke="#e2e2e2" stroke-width="0.9"/>
<line x1="588.1" y1="25" x2="588.1" y2="51.4" stroke="#e2e2e2" stroke-width="0.9"/>
<rect x="559.81" y="37.48" width="2.9" height="1.85" rx="0.7" fill="#E64B35"/>
<rect x="566.52" y="38.78" width="2.9" height="1.85" rx="0.7" fill="#4DBBD5"/>
<rect x="573.23" y="38.78" width="2.9" height="1.85" rx="0.7" fill="#00A087"/>
<rect x="579.94" y="38.18" width="2.9" height="1.85" rx="0.7" fill="#3C5488"/>
<rect x="586.65" y="38.48" width="2.9" height="1.85" rx="0.7" fill="#F39B7F"/>
<polygon points="561.26,33.2 561.87,34.85 563.63,34.93 562.26,36.02 562.73,37.72 561.26,36.75 559.79,37.72 560.26,36.02 558.88,34.93 560.64,34.85" fill="#ff1a1a"/>
<line x1="597.96" y1="47" x2="632.86" y2="47" stroke="#ebebeb" stroke-width="0.6"/>
<line x1="597.96" y1="37.8" x2="632.86" y2="37.8" stroke="#ebebeb" stroke-width="0.6"/>
<line x1="597.96" y1="28.6" x2="632.86" y2="28.6" stroke="#ebebeb" stroke-width="0.6"/>
<line x1="597.96" y1="51.6" x2="632.86" y2="51.6" stroke="#e2e2e2" stroke-width="0.9"/>
<line x1="597.96" y1="42.4" x2="632.86" y2="42.4" stroke="#e2e2e2" stroke-width="0.9"/>
<line x1="597.96" y1="33.2" x2="632.86" y2="33.2" stroke="#e2e2e2" stroke-width="0.9"/>
<line x1="601.99" y1="25" x2="601.99" y2="51.4" stroke="#e2e2e2" stroke-width="0.9"/>
<line x1="608.7" y1="25" x2="608.7" y2="51.4" stroke="#e2e2e2" stroke-width="0.9"/>
<line x1="615.41" y1="25" x2="615.41" y2="51.4" stroke="#e2e2e2" stroke-width="0.9"/>
<line x1="622.12" y1="25" x2="622.12" y2="51.4" stroke="#e2e2e2" stroke-width="0.9"/>
<line x1="628.83" y1="25" x2="628.83" y2="51.4" stroke="#e2e2e2" stroke-width="0.9"/>
<rect x="600.54" y="38.48" width="2.9" height="1.85" rx="0.7" fill="#E64B35"/>
<rect x="607.25" y="37.48" width="2.9" height="1.85" rx="0.7" fill="#4DBBD5"/>
<rect x="613.96" y="44.68" width="2.9" height="1.85" rx="0.7" fill="#00A087"/>
<rect x="620.67" y="44.68" width="2.9" height="1.85" rx="0.7" fill="#3C5488"/>
<rect x="627.38" y="44.68" width="2.9" height="1.85" rx="0.7" fill="#F39B7F"/>
<polygon points="608.7,33.2 609.32,34.85 611.08,34.93 609.7,36.02 610.17,37.72 608.7,36.75 607.23,37.72 607.7,36.02 606.32,34.93 608.08,34.85" fill="#ff1a1a"/>
<line x1="638.69" y1="47" x2="673.59" y2="47" stroke="#ebebeb" stroke-width="0.6"/>
<line x1="638.69" y1="37.8" x2="673.59" y2="37.8" stroke="#ebebeb" stroke-width="0.6"/>
<line x1="638.69" y1="28.6" x2="673.59" y2="28.6" stroke="#ebebeb" stroke-width="0.6"/>
<line x1="638.69" y1="51.6" x2="673.59" y2="51.6" stroke="#e2e2e2" stroke-width="0.9"/>
<line x1="638.69" y1="42.4" x2="673.59" y2="42.4" stroke="#e2e2e2" stroke-width="0.9"/>
<line x1="638.69" y1="33.2" x2="673.59" y2="33.2" stroke="#e2e2e2" stroke-width="0.9"/>
<line x1="642.72" y1="25" x2="642.72" y2="51.4" stroke="#e2e2e2" stroke-width="0.9"/>
<line x1="649.43" y1="25" x2="649.43" y2="51.4" stroke="#e2e2e2" stroke-width="0.9"/>
<line x1="656.14" y1="25" x2="656.14" y2="51.4" stroke="#e2e2e2" stroke-width="0.9"/>
<line x1="662.85" y1="25" x2="662.85" y2="51.4" stroke="#e2e2e2" stroke-width="0.9"/>
<line x1="669.56" y1="25" x2="669.56" y2="51.4" stroke="#e2e2e2" stroke-width="0.9"/>
<rect x="641.27" y="37.08" width="2.9" height="1.85" rx="0.7" fill="#E64B35"/>
<rect x="647.98" y="38.78" width="2.9" height="1.85" rx="0.7" fill="#4DBBD5"/>
<rect x="654.69" y="37.88" width="2.9" height="1.85" rx="0.7" fill="#00A087"/>
<rect x="661.4" y="38.78" width="2.9" height="1.85" rx="0.7" fill="#3C5488"/>
<rect x="668.11" y="38.18" width="2.9" height="1.85" rx="0.7" fill="#F39B7F"/>
<polygon points="642.72,32.8 643.33,34.45 645.09,34.53 643.72,35.62 644.19,37.32 642.72,36.35 641.25,37.32 641.72,35.62 640.34,34.53 642.1,34.45" fill="#ff1a1a"/>
<text transform="translate(678.79,70.9) rotate(90)" font-size="7.6" text-anchor="middle" fill="#1a1a1a" stroke="#1a1a1a">O'Neil</text>
<text x="511" y="68.5" font-size="7.5" text-anchor="end" fill="#333333" stroke="#333333">0.5</text>
<text x="511" y="77.7" font-size="7.5" text-anchor="end" fill="#333333" stroke="#333333">0.0</text>
<text x="511" y="86.9" font-size="7.5" text-anchor="end" fill="#333333" stroke="#333333">−0.5</text>
<line x1="516.5" y1="79.7" x2="551.4" y2="79.7" stroke="#ebebeb" stroke-width="0.6"/>
<line x1="516.5" y1="70.5" x2="551.4" y2="70.5" stroke="#ebebeb" stroke-width="0.6"/>
<line x1="516.5" y1="61.3" x2="551.4" y2="61.3" stroke="#ebebeb" stroke-width="0.6"/>
<line x1="516.5" y1="84.3" x2="551.4" y2="84.3" stroke="#e2e2e2" stroke-width="0.9"/>
<line x1="516.5" y1="75.1" x2="551.4" y2="75.1" stroke="#e2e2e2" stroke-width="0.9"/>
<line x1="516.5" y1="65.9" x2="551.4" y2="65.9" stroke="#e2e2e2" stroke-width="0.9"/>
<line x1="520.53" y1="57.7" x2="520.53" y2="84.1" stroke="#e2e2e2" stroke-width="0.9"/>
<line x1="527.24" y1="57.7" x2="527.24" y2="84.1" stroke="#e2e2e2" stroke-width="0.9"/>
<line x1="533.95" y1="57.7" x2="533.95" y2="84.1" stroke="#e2e2e2" stroke-width="0.9"/>
<line x1="540.66" y1="57.7" x2="540.66" y2="84.1" stroke="#e2e2e2" stroke-width="0.9"/>
<line x1="547.37" y1="57.7" x2="547.37" y2="84.1" stroke="#e2e2e2" stroke-width="0.9"/>
<rect x="519.08" y="68.98" width="2.9" height="1.85" rx="0.7" fill="#E64B35"/>
<rect x="525.79" y="69.58" width="2.9" height="1.85" rx="0.7" fill="#4DBBD5"/>
<rect x="532.5" y="69.78" width="2.9" height="1.85" rx="0.7" fill="#00A087"/>
<rect x="539.21" y="69.68" width="2.9" height="1.85" rx="0.7" fill="#3C5488"/>
<rect x="545.92" y="70.08" width="2.9" height="1.85" rx="0.7" fill="#F39B7F"/>
<polygon points="520.53,64.7 521.14,66.35 522.9,66.43 521.53,67.52 522,69.22 520.53,68.25 519.06,69.22 519.53,67.52 518.15,66.43 519.91,66.35" fill="#ff1a1a"/>
<line x1="557.23" y1="79.7" x2="592.13" y2="79.7" stroke="#ebebeb" stroke-width="0.6"/>
<line x1="557.23" y1="70.5" x2="592.13" y2="70.5" stroke="#ebebeb" stroke-width="0.6"/>
<line x1="557.23" y1="61.3" x2="592.13" y2="61.3" stroke="#ebebeb" stroke-width="0.6"/>
<line x1="557.23" y1="84.3" x2="592.13" y2="84.3" stroke="#e2e2e2" stroke-width="0.9"/>
<line x1="557.23" y1="75.1" x2="592.13" y2="75.1" stroke="#e2e2e2" stroke-width="0.9"/>
<line x1="557.23" y1="65.9" x2="592.13" y2="65.9" stroke="#e2e2e2" stroke-width="0.9"/>
<line x1="561.26" y1="57.7" x2="561.26" y2="84.1" stroke="#e2e2e2" stroke-width="0.9"/>
<line x1="567.97" y1="57.7" x2="567.97" y2="84.1" stroke="#e2e2e2" stroke-width="0.9"/>
<line x1="574.68" y1="57.7" x2="574.68" y2="84.1" stroke="#e2e2e2" stroke-width="0.9"/>
<line x1="581.39" y1="57.7" x2="581.39" y2="84.1" stroke="#e2e2e2" stroke-width="0.9"/>
<line x1="588.1" y1="57.7" x2="588.1" y2="84.1" stroke="#e2e2e2" stroke-width="0.9"/>
<rect x="559.81" y="62.48" width="2.9" height="1.85" rx="0.7" fill="#E64B35"/>
<rect x="566.52" y="63.08" width="2.9" height="1.85" rx="0.7" fill="#4DBBD5"/>
<rect x="573.23" y="62.48" width="2.9" height="1.85" rx="0.7" fill="#00A087"/>
<rect x="579.94" y="63.08" width="2.9" height="1.85" rx="0.7" fill="#3C5488"/>
<rect x="586.65" y="61.78" width="2.9" height="1.85" rx="0.7" fill="#F39B7F"/>
<polygon points="588.1,57.5 588.72,59.15 590.48,59.23 589.1,60.32 589.57,62.02 588.1,61.05 586.63,62.02 587.1,60.32 585.73,59.23 587.49,59.15" fill="#ff1a1a"/>
<line x1="597.96" y1="79.7" x2="632.86" y2="79.7" stroke="#ebebeb" stroke-width="0.6"/>
<line x1="597.96" y1="70.5" x2="632.86" y2="70.5" stroke="#ebebeb" stroke-width="0.6"/>
<line x1="597.96" y1="61.3" x2="632.86" y2="61.3" stroke="#ebebeb" stroke-width="0.6"/>
<line x1="597.96" y1="84.3" x2="632.86" y2="84.3" stroke="#e2e2e2" stroke-width="0.9"/>
<line x1="597.96" y1="75.1" x2="632.86" y2="75.1" stroke="#e2e2e2" stroke-width="0.9"/>
<line x1="597.96" y1="65.9" x2="632.86" y2="65.9" stroke="#e2e2e2" stroke-width="0.9"/>
<line x1="601.99" y1="57.7" x2="601.99" y2="84.1" stroke="#e2e2e2" stroke-width="0.9"/>
<line x1="608.7" y1="57.7" x2="608.7" y2="84.1" stroke="#e2e2e2" stroke-width="0.9"/>
<line x1="615.41" y1="57.7" x2="615.41" y2="84.1" stroke="#e2e2e2" stroke-width="0.9"/>
<line x1="622.12" y1="57.7" x2="622.12" y2="84.1" stroke="#e2e2e2" stroke-width="0.9"/>
<line x1="628.83" y1="57.7" x2="628.83" y2="84.1" stroke="#e2e2e2" stroke-width="0.9"/>
<rect x="600.54" y="71.38" width="2.9" height="1.85" rx="0.7" fill="#E64B35"/>
<rect x="607.25" y="69.98" width="2.9" height="1.85" rx="0.7" fill="#4DBBD5"/>
<rect x="613.96" y="77.78" width="2.9" height="1.85" rx="0.7" fill="#00A087"/>
<rect x="620.67" y="77.18" width="2.9" height="1.85" rx="0.7" fill="#3C5488"/>
<rect x="627.38" y="77.18" width="2.9" height="1.85" rx="0.7" fill="#F39B7F"/>
<polygon points="608.7,65.7 609.32,67.35 611.08,67.43 609.7,68.52 610.17,70.22 608.7,69.25 607.23,70.22 607.7,68.52 606.32,67.43 608.08,67.35" fill="#ff1a1a"/>
<line x1="638.69" y1="79.7" x2="673.59" y2="79.7" stroke="#ebebeb" stroke-width="0.6"/>
<line x1="638.69" y1="70.5" x2="673.59" y2="70.5" stroke="#ebebeb" stroke-width="0.6"/>
<line x1="638.69" y1="61.3" x2="673.59" y2="61.3" stroke="#ebebeb" stroke-width="0.6"/>
<line x1="638.69" y1="84.3" x2="673.59" y2="84.3" stroke="#e2e2e2" stroke-width="0.9"/>
<line x1="638.69" y1="75.1" x2="673.59" y2="75.1" stroke="#e2e2e2" stroke-width="0.9"/>
<line x1="638.69" y1="65.9" x2="673.59" y2="65.9" stroke="#e2e2e2" stroke-width="0.9"/>
<line x1="642.72" y1="57.7" x2="642.72" y2="84.1" stroke="#e2e2e2" stroke-width="0.9"/>
<line x1="649.43" y1="57.7" x2="649.43" y2="84.1" stroke="#e2e2e2" stroke-width="0.9"/>
<line x1="656.14" y1="57.7" x2="656.14" y2="84.1" stroke="#e2e2e2" stroke-width="0.9"/>
<line x1="662.85" y1="57.7" x2="662.85" y2="84.1" stroke="#e2e2e2" stroke-width="0.9"/>
<line x1="669.56" y1="57.7" x2="669.56" y2="84.1" stroke="#e2e2e2" stroke-width="0.9"/>
<rect x="641.27" y="72.28" width="2.9" height="1.85" rx="0.7" fill="#E64B35"/>
<rect x="647.98" y="74.88" width="2.9" height="1.85" rx="0.7" fill="#4DBBD5"/>
<rect x="654.69" y="72.98" width="2.9" height="1.85" rx="0.7" fill="#00A087"/>
<rect x="661.4" y="74.68" width="2.9" height="1.85" rx="0.7" fill="#3C5488"/>
<rect x="668.11" y="73.58" width="2.9" height="1.85" rx="0.7" fill="#F39B7F"/>
<polygon points="642.72,68 643.33,69.65 645.09,69.73 643.72,70.82 644.19,72.52 642.72,71.55 641.25,72.52 641.72,70.82 640.34,69.73 642.1,69.65" fill="#ff1a1a"/>
<text transform="translate(678.79,103.6) rotate(90)" font-size="7.6" text-anchor="middle" fill="#1a1a1a" stroke="#1a1a1a">FORCINA</text>
<text x="511" y="101.2" font-size="7.5" text-anchor="end" fill="#333333" stroke="#333333">0.5</text>
<text x="511" y="110.4" font-size="7.5" text-anchor="end" fill="#333333" stroke="#333333">0.0</text>
<text x="511" y="119.6" font-size="7.5" text-anchor="end" fill="#333333" stroke="#333333">−0.5</text>
<line x1="516.5" y1="112.4" x2="551.4" y2="112.4" stroke="#ebebeb" stroke-width="0.6"/>
<line x1="516.5" y1="103.2" x2="551.4" y2="103.2" stroke="#ebebeb" stroke-width="0.6"/>
<line x1="516.5" y1="94" x2="551.4" y2="94" stroke="#ebebeb" stroke-width="0.6"/>
<line x1="516.5" y1="117" x2="551.4" y2="117" stroke="#e2e2e2" stroke-width="0.9"/>
<line x1="516.5" y1="107.8" x2="551.4" y2="107.8" stroke="#e2e2e2" stroke-width="0.9"/>
<line x1="516.5" y1="98.6" x2="551.4" y2="98.6" stroke="#e2e2e2" stroke-width="0.9"/>
<line x1="520.53" y1="90.4" x2="520.53" y2="116.8" stroke="#e2e2e2" stroke-width="0.9"/>
<line x1="527.24" y1="90.4" x2="527.24" y2="116.8" stroke="#e2e2e2" stroke-width="0.9"/>
<line x1="533.95" y1="90.4" x2="533.95" y2="116.8" stroke="#e2e2e2" stroke-width="0.9"/>
<line x1="540.66" y1="90.4" x2="540.66" y2="116.8" stroke="#e2e2e2" stroke-width="0.9"/>
<line x1="547.37" y1="90.4" x2="547.37" y2="116.8" stroke="#e2e2e2" stroke-width="0.9"/>
<rect x="519.08" y="99.18" width="2.9" height="1.85" rx="0.7" fill="#E64B35"/>
<rect x="525.79" y="102.48" width="2.9" height="1.85" rx="0.7" fill="#4DBBD5"/>
<rect x="532.5" y="99.88" width="2.9" height="1.85" rx="0.7" fill="#00A087"/>
<rect x="539.21" y="101.18" width="2.9" height="1.85" rx="0.7" fill="#3C5488"/>
<rect x="545.92" y="101.18" width="2.9" height="1.85" rx="0.7" fill="#F39B7F"/>
<polygon points="520.53,94.9 521.14,96.55 522.9,96.63 521.53,97.72 522,99.42 520.53,98.45 519.06,99.42 519.53,97.72 518.15,96.63 519.91,96.55" fill="#ff1a1a"/>
<line x1="557.23" y1="112.4" x2="592.13" y2="112.4" stroke="#ebebeb" stroke-width="0.6"/>
<line x1="557.23" y1="103.2" x2="592.13" y2="103.2" stroke="#ebebeb" stroke-width="0.6"/>
<line x1="557.23" y1="94" x2="592.13" y2="94" stroke="#ebebeb" stroke-width="0.6"/>
<line x1="557.23" y1="117" x2="592.13" y2="117" stroke="#e2e2e2" stroke-width="0.9"/>
<line x1="557.23" y1="107.8" x2="592.13" y2="107.8" stroke="#e2e2e2" stroke-width="0.9"/>
<line x1="557.23" y1="98.6" x2="592.13" y2="98.6" stroke="#e2e2e2" stroke-width="0.9"/>
<line x1="561.26" y1="90.4" x2="561.26" y2="116.8" stroke="#e2e2e2" stroke-width="0.9"/>
<line x1="567.97" y1="90.4" x2="567.97" y2="116.8" stroke="#e2e2e2" stroke-width="0.9"/>
<line x1="574.68" y1="90.4" x2="574.68" y2="116.8" stroke="#e2e2e2" stroke-width="0.9"/>
<line x1="581.39" y1="90.4" x2="581.39" y2="116.8" stroke="#e2e2e2" stroke-width="0.9"/>
<line x1="588.1" y1="90.4" x2="588.1" y2="116.8" stroke="#e2e2e2" stroke-width="0.9"/>
<rect x="559.81" y="101.18" width="2.9" height="1.85" rx="0.7" fill="#E64B35"/>
<rect x="566.52" y="110.98" width="2.9" height="1.85" rx="0.7" fill="#4DBBD5"/>
<rect x="573.23" y="112.08" width="2.9" height="1.85" rx="0.7" fill="#00A087"/>
<rect x="579.94" y="114.08" width="2.9" height="1.85" rx="0.7" fill="#3C5488"/>
<rect x="586.65" y="105.78" width="2.9" height="1.85" rx="0.7" fill="#F39B7F"/>
<polygon points="561.26,96.9 561.87,98.55 563.63,98.63 562.26,99.72 562.73,101.42 561.26,100.45 559.79,101.42 560.26,99.72 558.88,98.63 560.64,98.55" fill="#ff1a1a"/>
<line x1="597.96" y1="112.4" x2="632.86" y2="112.4" stroke="#ebebeb" stroke-width="0.6"/>
<line x1="597.96" y1="103.2" x2="632.86" y2="103.2" stroke="#ebebeb" stroke-width="0.6"/>
<line x1="597.96" y1="94" x2="632.86" y2="94" stroke="#ebebeb" stroke-width="0.6"/>
<line x1="597.96" y1="117" x2="632.86" y2="117" stroke="#e2e2e2" stroke-width="0.9"/>
<line x1="597.96" y1="107.8" x2="632.86" y2="107.8" stroke="#e2e2e2" stroke-width="0.9"/>
<line x1="597.96" y1="98.6" x2="632.86" y2="98.6" stroke="#e2e2e2" stroke-width="0.9"/>
<line x1="601.99" y1="90.4" x2="601.99" y2="116.8" stroke="#e2e2e2" stroke-width="0.9"/>
<line x1="608.7" y1="90.4" x2="608.7" y2="116.8" stroke="#e2e2e2" stroke-width="0.9"/>
<line x1="615.41" y1="90.4" x2="615.41" y2="116.8" stroke="#e2e2e2" stroke-width="0.9"/>
<line x1="622.12" y1="90.4" x2="622.12" y2="116.8" stroke="#e2e2e2" stroke-width="0.9"/>
<line x1="628.83" y1="90.4" x2="628.83" y2="116.8" stroke="#e2e2e2" stroke-width="0.9"/>
<rect x="600.54" y="97.88" width="2.9" height="1.85" rx="0.7" fill="#E64B35"/>
<rect x="607.25" y="98.28" width="2.9" height="1.85" rx="0.7" fill="#4DBBD5"/>
<rect x="613.96" y="98.28" width="2.9" height="1.85" rx="0.7" fill="#00A087"/>
<rect x="620.67" y="98.28" width="2.9" height="1.85" rx="0.7" fill="#3C5488"/>
<rect x="627.38" y="98.28" width="2.9" height="1.85" rx="0.7" fill="#F39B7F"/>
<polygon points="601.99,93.6 602.6,95.25 604.36,95.33 602.99,96.42 603.46,98.12 601.99,97.15 600.52,98.12 600.99,96.42 599.61,95.33 601.37,95.25" fill="#ff1a1a"/>
<line x1="638.69" y1="112.4" x2="673.59" y2="112.4" stroke="#ebebeb" stroke-width="0.6"/>
<line x1="638.69" y1="103.2" x2="673.59" y2="103.2" stroke="#ebebeb" stroke-width="0.6"/>
<line x1="638.69" y1="94" x2="673.59" y2="94" stroke="#ebebeb" stroke-width="0.6"/>
<line x1="638.69" y1="117" x2="673.59" y2="117" stroke="#e2e2e2" stroke-width="0.9"/>
<line x1="638.69" y1="107.8" x2="673.59" y2="107.8" stroke="#e2e2e2" stroke-width="0.9"/>
<line x1="638.69" y1="98.6" x2="673.59" y2="98.6" stroke="#e2e2e2" stroke-width="0.9"/>
<line x1="642.72" y1="90.4" x2="642.72" y2="116.8" stroke="#e2e2e2" stroke-width="0.9"/>
<line x1="649.43" y1="90.4" x2="649.43" y2="116.8" stroke="#e2e2e2" stroke-width="0.9"/>
<line x1="656.14" y1="90.4" x2="656.14" y2="116.8" stroke="#e2e2e2" stroke-width="0.9"/>
<line x1="662.85" y1="90.4" x2="662.85" y2="116.8" stroke="#e2e2e2" stroke-width="0.9"/>
<line x1="669.56" y1="90.4" x2="669.56" y2="116.8" stroke="#e2e2e2" stroke-width="0.9"/>
<rect x="641.27" y="97.88" width="2.9" height="1.85" rx="0.7" fill="#E64B35"/>
<rect x="647.98" y="105.98" width="2.9" height="1.85" rx="0.7" fill="#4DBBD5"/>
<rect x="654.69" y="103.18" width="2.9" height="1.85" rx="0.7" fill="#00A087"/>
<rect x="661.4" y="102.88" width="2.9" height="1.85" rx="0.7" fill="#3C5488"/>
<rect x="668.11" y="102.18" width="2.9" height="1.85" rx="0.7" fill="#F39B7F"/>
<polygon points="642.72,93.6 643.33,95.25 645.09,95.33 643.72,96.42 644.19,98.12 642.72,97.15 641.25,98.12 641.72,96.42 640.34,95.33 642.1,95.25" fill="#ff1a1a"/>
<text transform="translate(678.79,137.8) rotate(90)" font-size="7.6" text-anchor="middle" fill="#1a1a1a" stroke="#1a1a1a">Mathews</text>
<text x="511" y="133.9" font-size="7.5" text-anchor="end" fill="#333333" stroke="#333333">0.5</text>
<text x="511" y="143.1" font-size="7.5" text-anchor="end" fill="#333333" stroke="#333333">0.0</text>
<text x="511" y="152.3" font-size="7.5" text-anchor="end" fill="#333333" stroke="#333333">−0.5</text>
<line x1="516.5" y1="145.1" x2="551.4" y2="145.1" stroke="#ebebeb" stroke-width="0.6"/>
<line x1="516.5" y1="135.9" x2="551.4" y2="135.9" stroke="#ebebeb" stroke-width="0.6"/>
<line x1="516.5" y1="126.7" x2="551.4" y2="126.7" stroke="#ebebeb" stroke-width="0.6"/>
<line x1="516.5" y1="149.7" x2="551.4" y2="149.7" stroke="#e2e2e2" stroke-width="0.9"/>
<line x1="516.5" y1="140.5" x2="551.4" y2="140.5" stroke="#e2e2e2" stroke-width="0.9"/>
<line x1="516.5" y1="131.3" x2="551.4" y2="131.3" stroke="#e2e2e2" stroke-width="0.9"/>
<line x1="520.53" y1="123.1" x2="520.53" y2="149.5" stroke="#e2e2e2" stroke-width="0.9"/>
<line x1="527.24" y1="123.1" x2="527.24" y2="149.5" stroke="#e2e2e2" stroke-width="0.9"/>
<line x1="533.95" y1="123.1" x2="533.95" y2="149.5" stroke="#e2e2e2" stroke-width="0.9"/>
<line x1="540.66" y1="123.1" x2="540.66" y2="149.5" stroke="#e2e2e2" stroke-width="0.9"/>
<line x1="547.37" y1="123.1" x2="547.37" y2="149.5" stroke="#e2e2e2" stroke-width="0.9"/>
<rect x="519.08" y="125.88" width="2.9" height="1.85" rx="0.7" fill="#E64B35"/>
<rect x="525.79" y="129.38" width="2.9" height="1.85" rx="0.7" fill="#4DBBD5"/>
<rect x="532.5" y="129.38" width="2.9" height="1.85" rx="0.7" fill="#00A087"/>
<rect x="539.21" y="130.08" width="2.9" height="1.85" rx="0.7" fill="#3C5488"/>
<rect x="545.92" y="128.78" width="2.9" height="1.85" rx="0.7" fill="#F39B7F"/>
<polygon points="520.53,121.6 521.14,123.25 522.9,123.33 521.53,124.42 522,126.12 520.53,125.15 519.06,126.12 519.53,124.42 518.15,123.33 519.91,123.25" fill="#ff1a1a"/>
<line x1="557.23" y1="145.1" x2="592.13" y2="145.1" stroke="#ebebeb" stroke-width="0.6"/>
<line x1="557.23" y1="135.9" x2="592.13" y2="135.9" stroke="#ebebeb" stroke-width="0.6"/>
<line x1="557.23" y1="126.7" x2="592.13" y2="126.7" stroke="#ebebeb" stroke-width="0.6"/>
<line x1="557.23" y1="149.7" x2="592.13" y2="149.7" stroke="#e2e2e2" stroke-width="0.9"/>
<line x1="557.23" y1="140.5" x2="592.13" y2="140.5" stroke="#e2e2e2" stroke-width="0.9"/>
<line x1="557.23" y1="131.3" x2="592.13" y2="131.3" stroke="#e2e2e2" stroke-width="0.9"/>
<line x1="561.26" y1="123.1" x2="561.26" y2="149.5" stroke="#e2e2e2" stroke-width="0.9"/>
<line x1="567.97" y1="123.1" x2="567.97" y2="149.5" stroke="#e2e2e2" stroke-width="0.9"/>
<line x1="574.68" y1="123.1" x2="574.68" y2="149.5" stroke="#e2e2e2" stroke-width="0.9"/>
<line x1="581.39" y1="123.1" x2="581.39" y2="149.5" stroke="#e2e2e2" stroke-width="0.9"/>
<line x1="588.1" y1="123.1" x2="588.1" y2="149.5" stroke="#e2e2e2" stroke-width="0.9"/>
<rect x="559.81" y="132.08" width="2.9" height="1.85" rx="0.7" fill="#E64B35"/>
<rect x="566.52" y="136.28" width="2.9" height="1.85" rx="0.7" fill="#4DBBD5"/>
<rect x="573.23" y="136.88" width="2.9" height="1.85" rx="0.7" fill="#00A087"/>
<rect x="579.94" y="137.98" width="2.9" height="1.85" rx="0.7" fill="#3C5488"/>
<rect x="586.65" y="135.08" width="2.9" height="1.85" rx="0.7" fill="#F39B7F"/>
<polygon points="561.26,127.8 561.87,129.45 563.63,129.53 562.26,130.62 562.73,132.32 561.26,131.35 559.79,132.32 560.26,130.62 558.88,129.53 560.64,129.45" fill="#ff1a1a"/>
<line x1="597.96" y1="145.1" x2="632.86" y2="145.1" stroke="#ebebeb" stroke-width="0.6"/>
<line x1="597.96" y1="135.9" x2="632.86" y2="135.9" stroke="#ebebeb" stroke-width="0.6"/>
<line x1="597.96" y1="126.7" x2="632.86" y2="126.7" stroke="#ebebeb" stroke-width="0.6"/>
<line x1="597.96" y1="149.7" x2="632.86" y2="149.7" stroke="#e2e2e2" stroke-width="0.9"/>
<line x1="597.96" y1="140.5" x2="632.86" y2="140.5" stroke="#e2e2e2" stroke-width="0.9"/>
<line x1="597.96" y1="131.3" x2="632.86" y2="131.3" stroke="#e2e2e2" stroke-width="0.9"/>
<line x1="601.99" y1="123.1" x2="601.99" y2="149.5" stroke="#e2e2e2" stroke-width="0.9"/>
<line x1="608.7" y1="123.1" x2="608.7" y2="149.5" stroke="#e2e2e2" stroke-width="0.9"/>
<line x1="615.41" y1="123.1" x2="615.41" y2="149.5" stroke="#e2e2e2" stroke-width="0.9"/>
<line x1="622.12" y1="123.1" x2="622.12" y2="149.5" stroke="#e2e2e2" stroke-width="0.9"/>
<line x1="628.83" y1="123.1" x2="628.83" y2="149.5" stroke="#e2e2e2" stroke-width="0.9"/>
<rect x="600.54" y="127.48" width="2.9" height="1.85" rx="0.7" fill="#E64B35"/>
<rect x="607.25" y="130.38" width="2.9" height="1.85" rx="0.7" fill="#4DBBD5"/>
<rect x="613.96" y="143.18" width="2.9" height="1.85" rx="0.7" fill="#00A087"/>
<rect x="620.67" y="143.58" width="2.9" height="1.85" rx="0.7" fill="#3C5488"/>
<rect x="627.38" y="143.58" width="2.9" height="1.85" rx="0.7" fill="#F39B7F"/>
<polygon points="601.99,123.2 602.6,124.85 604.36,124.93 602.99,126.02 603.46,127.72 601.99,126.75 600.52,127.72 600.99,126.02 599.61,124.93 601.37,124.85" fill="#ff1a1a"/>
<line x1="638.69" y1="145.1" x2="673.59" y2="145.1" stroke="#ebebeb" stroke-width="0.6"/>
<line x1="638.69" y1="135.9" x2="673.59" y2="135.9" stroke="#ebebeb" stroke-width="0.6"/>
<line x1="638.69" y1="126.7" x2="673.59" y2="126.7" stroke="#ebebeb" stroke-width="0.6"/>
<line x1="638.69" y1="149.7" x2="673.59" y2="149.7" stroke="#e2e2e2" stroke-width="0.9"/>
<line x1="638.69" y1="140.5" x2="673.59" y2="140.5" stroke="#e2e2e2" stroke-width="0.9"/>
<line x1="638.69" y1="131.3" x2="673.59" y2="131.3" stroke="#e2e2e2" stroke-width="0.9"/>
<line x1="642.72" y1="123.1" x2="642.72" y2="149.5" stroke="#e2e2e2" stroke-width="0.9"/>
<line x1="649.43" y1="123.1" x2="649.43" y2="149.5" stroke="#e2e2e2" stroke-width="0.9"/>
<line x1="656.14" y1="123.1" x2="656.14" y2="149.5" stroke="#e2e2e2" stroke-width="0.9"/>
<line x1="662.85" y1="123.1" x2="662.85" y2="149.5" stroke="#e2e2e2" stroke-width="0.9"/>
<line x1="669.56" y1="123.1" x2="669.56" y2="149.5" stroke="#e2e2e2" stroke-width="0.9"/>
<rect x="641.27" y="123.48" width="2.9" height="1.85" rx="0.7" fill="#E64B35"/>
<rect x="647.98" y="123.48" width="2.9" height="1.85" rx="0.7" fill="#4DBBD5"/>
<rect x="654.69" y="123.48" width="2.9" height="1.85" rx="0.7" fill="#00A087"/>
<rect x="661.4" y="123.48" width="2.9" height="1.85" rx="0.7" fill="#3C5488"/>
<rect x="668.11" y="123.08" width="2.9" height="1.85" rx="0.7" fill="#F39B7F"/>
<polygon points="669.56,118.8 670.18,120.45 671.94,120.53 670.56,121.62 671.03,123.32 669.56,122.35 668.09,123.32 668.56,121.62 667.19,120.53 668.95,120.45" fill="#ff1a1a"/>
<text transform="translate(515.13,155) rotate(90)" font-size="7.4" style="stroke-width:0.32px" fill="#333333" stroke="#333333">M1</text>
<text transform="translate(521.84,155) rotate(90)" font-size="7.4" style="stroke-width:0.32px" fill="#333333" stroke="#333333">M5</text>
<text transform="translate(528.55,155) rotate(90)" font-size="7.4" style="stroke-width:0.32px" fill="#333333" stroke="#333333">M6</text>
<text transform="translate(535.26,155) rotate(90)" font-size="7.4" style="stroke-width:0.32px" fill="#333333" stroke="#333333">M11</text>
<text transform="translate(541.97,155) rotate(90)" font-size="7.4" style="stroke-width:0.32px" fill="#333333" stroke="#333333">M12</text>
<text transform="translate(555.86,155) rotate(90)" font-size="7.4" style="stroke-width:0.32px" fill="#333333" stroke="#333333">M1</text>
<text transform="translate(562.57,155) rotate(90)" font-size="7.4" style="stroke-width:0.32px" fill="#333333" stroke="#333333">M5</text>
<text transform="translate(569.28,155) rotate(90)" font-size="7.4" style="stroke-width:0.32px" fill="#333333" stroke="#333333">M6</text>
<text transform="translate(575.99,155) rotate(90)" font-size="7.4" style="stroke-width:0.32px" fill="#333333" stroke="#333333">M11</text>
<text transform="translate(582.7,155) rotate(90)" font-size="7.4" style="stroke-width:0.32px" fill="#333333" stroke="#333333">M12</text>
<text transform="translate(596.59,155) rotate(90)" font-size="7.4" style="stroke-width:0.32px" fill="#333333" stroke="#333333">M1</text>
<text transform="translate(603.3,155) rotate(90)" font-size="7.4" style="stroke-width:0.32px" fill="#333333" stroke="#333333">M5</text>
<text transform="translate(610.01,155) rotate(90)" font-size="7.4" style="stroke-width:0.32px" fill="#333333" stroke="#333333">M6</text>
<text transform="translate(616.72,155) rotate(90)" font-size="7.4" style="stroke-width:0.32px" fill="#333333" stroke="#333333">M11</text>
<text transform="translate(623.43,155) rotate(90)" font-size="7.4" style="stroke-width:0.32px" fill="#333333" stroke="#333333">M12</text>
<text transform="translate(637.32,155) rotate(90)" font-size="7.4" style="stroke-width:0.32px" fill="#333333" stroke="#333333">M1</text>
<text transform="translate(644.03,155) rotate(90)" font-size="7.4" style="stroke-width:0.32px" fill="#333333" stroke="#333333">M5</text>
<text transform="translate(650.74,155) rotate(90)" font-size="7.4" style="stroke-width:0.32px" fill="#333333" stroke="#333333">M6</text>
<text transform="translate(657.45,155) rotate(90)" font-size="7.4" style="stroke-width:0.32px" fill="#333333" stroke="#333333">M11</text>
<text transform="translate(664.16,155) rotate(90)" font-size="7.4" style="stroke-width:0.32px" fill="#333333" stroke="#333333">M12</text>
<text transform="translate(491.6,87.25) rotate(-90)" font-size="8.8" text-anchor="middle" fill="#1a1a1a" stroke="#1a1a1a">Pearson's r</text>
<text x="384.2" y="181.8" font-size="10.7" font-weight="bold" text-anchor="middle" fill="#000" stroke="#000">HSA</text>
<text x="321.1" y="193.3" font-size="7.65" text-anchor="middle" fill="#1a1a1a" stroke="#1a1a1a">ALMANAC</text>
<text x="362.83" y="193.3" font-size="7.65" text-anchor="middle" fill="#1a1a1a" stroke="#1a1a1a">O'Neil</text>
<text x="404.56" y="193.3" font-size="7.65" text-anchor="middle" fill="#1a1a1a" stroke="#1a1a1a">FORCINA</text>
<text x="446.29" y="193.3" font-size="7.65" text-anchor="middle" fill="#1a1a1a" stroke="#1a1a1a">Mathews</text>
<text transform="translate(469.39,212.4) rotate(90)" font-size="7.6" text-anchor="middle" fill="#1a1a1a" stroke="#1a1a1a">ALMANAC</text>
<text x="298.1" y="205.96" font-size="7.5" text-anchor="end" fill="#333333" stroke="#333333">0.6</text>
<text x="298.1" y="212.04" font-size="7.5" text-anchor="end" fill="#333333" stroke="#333333">0.4</text>
<text x="298.1" y="218.12" font-size="7.5" text-anchor="end" fill="#333333" stroke="#333333">0.2</text>
<text x="298.1" y="224.2" font-size="7.5" text-anchor="end" fill="#333333" stroke="#333333">0.0</text>
<line x1="303.2" y1="224.64" x2="339" y2="224.64" stroke="#ebebeb" stroke-width="0.6"/>
<line x1="303.2" y1="218.56" x2="339" y2="218.56" stroke="#ebebeb" stroke-width="0.6"/>
<line x1="303.2" y1="212.48" x2="339" y2="212.48" stroke="#ebebeb" stroke-width="0.6"/>
<line x1="303.2" y1="206.4" x2="339" y2="206.4" stroke="#ebebeb" stroke-width="0.6"/>
<line x1="303.2" y1="200.32" x2="339" y2="200.32" stroke="#ebebeb" stroke-width="0.6"/>
<line x1="303.2" y1="221.6" x2="339" y2="221.6" stroke="#e2e2e2" stroke-width="0.9"/>
<line x1="303.2" y1="215.52" x2="339" y2="215.52" stroke="#e2e2e2" stroke-width="0.9"/>
<line x1="303.2" y1="209.44" x2="339" y2="209.44" stroke="#e2e2e2" stroke-width="0.9"/>
<line x1="303.2" y1="203.36" x2="339" y2="203.36" stroke="#e2e2e2" stroke-width="0.9"/>
<line x1="307.33" y1="199.4" x2="307.33" y2="225.4" stroke="#e2e2e2" stroke-width="0.9"/>
<line x1="314.22" y1="199.4" x2="314.22" y2="225.4" stroke="#e2e2e2" stroke-width="0.9"/>
<line x1="321.1" y1="199.4" x2="321.1" y2="225.4" stroke="#e2e2e2" stroke-width="0.9"/>
<line x1="327.98" y1="199.4" x2="327.98" y2="225.4" stroke="#e2e2e2" stroke-width="0.9"/>
<line x1="334.87" y1="199.4" x2="334.87" y2="225.4" stroke="#e2e2e2" stroke-width="0.9"/>
<rect x="305.88" y="204.88" width="2.9" height="1.85" rx="0.7" fill="#E64B35"/>
<rect x="312.77" y="206.18" width="2.9" height="1.85" rx="0.7" fill="#4DBBD5"/>
<rect x="319.65" y="204.28" width="2.9" height="1.85" rx="0.7" fill="#00A087"/>
<rect x="326.53" y="205.48" width="2.9" height="1.85" rx="0.7" fill="#3C5488"/>
<rect x="333.42" y="204.28" width="2.9" height="1.85" rx="0.7" fill="#F39B7F"/>
<polygon points="334.87,200 335.49,201.65 337.25,201.73 335.87,202.82 336.34,204.52 334.87,203.55 333.4,204.52 333.87,202.82 332.49,201.73 334.25,201.65" fill="#ff1a1a"/>
<line x1="344.93" y1="224.64" x2="380.73" y2="224.64" stroke="#ebebeb" stroke-width="0.6"/>
<line x1="344.93" y1="218.56" x2="380.73" y2="218.56" stroke="#ebebeb" stroke-width="0.6"/>
<line x1="344.93" y1="212.48" x2="380.73" y2="212.48" stroke="#ebebeb" stroke-width="0.6"/>
<line x1="344.93" y1="206.4" x2="380.73" y2="206.4" stroke="#ebebeb" stroke-width="0.6"/>
<line x1="344.93" y1="200.32" x2="380.73" y2="200.32" stroke="#ebebeb" stroke-width="0.6"/>
<line x1="344.93" y1="221.6" x2="380.73" y2="221.6" stroke="#e2e2e2" stroke-width="0.9"/>
<line x1="344.93" y1="215.52" x2="380.73" y2="215.52" stroke="#e2e2e2" stroke-width="0.9"/>
<line x1="344.93" y1="209.44" x2="380.73" y2="209.44" stroke="#e2e2e2" stroke-width="0.9"/>
<line x1="344.93" y1="203.36" x2="380.73" y2="203.36" stroke="#e2e2e2" stroke-width="0.9"/>
<line x1="349.06" y1="199.4" x2="349.06" y2="225.4" stroke="#e2e2e2" stroke-width="0.9"/>
<line x1="355.95" y1="199.4" x2="355.95" y2="225.4" stroke="#e2e2e2" stroke-width="0.9"/>
<line x1="362.83" y1="199.4" x2="362.83" y2="225.4" stroke="#e2e2e2" stroke-width="0.9"/>
<line x1="369.71" y1="199.4" x2="369.71" y2="225.4" stroke="#e2e2e2" stroke-width="0.9"/>
<line x1="376.6" y1="199.4" x2="376.6" y2="225.4" stroke="#e2e2e2" stroke-width="0.9"/>
<rect x="347.61" y="219.48" width="2.9" height="1.85" rx="0.7" fill="#E64B35"/>
<rect x="354.5" y="216.38" width="2.9" height="1.85" rx="0.7" fill="#4DBBD5"/>
<rect x="361.38" y="216.68" width="2.9" height="1.85" rx="0.7" fill="#00A087"/>
<rect x="368.26" y="215.48" width="2.9" height="1.85" rx="0.7" fill="#3C5488"/>
<rect x="375.15" y="216.68" width="2.9" height="1.85" rx="0.7" fill="#F39B7F"/>
<polygon points="369.71,211.2 370.33,212.85 372.09,212.93 370.71,214.02 371.18,215.72 369.71,214.75 368.25,215.72 368.72,214.02 367.34,212.93 369.1,212.85" fill="#ff1a1a"/>
<line x1="386.66" y1="224.64" x2="422.46" y2="224.64" stroke="#ebebeb" stroke-width="0.6"/>
<line x1="386.66" y1="218.56" x2="422.46" y2="218.56" stroke="#ebebeb" stroke-width="0.6"/>
<line x1="386.66" y1="212.48" x2="422.46" y2="212.48" stroke="#ebebeb" stroke-width="0.6"/>
<line x1="386.66" y1="206.4" x2="422.46" y2="206.4" stroke="#ebebeb" stroke-width="0.6"/>
<line x1="386.66" y1="200.32" x2="422.46" y2="200.32" stroke="#ebebeb" stroke-width="0.6"/>
<line x1="386.66" y1="221.6" x2="422.46" y2="221.6" stroke="#e2e2e2" stroke-width="0.9"/>
<line x1="386.66" y1="215.52" x2="422.46" y2="215.52" stroke="#e2e2e2" stroke-width="0.9"/>
<line x1="386.66" y1="209.44" x2="422.46" y2="209.44" stroke="#e2e2e2" stroke-width="0.9"/>
<line x1="386.66" y1="203.36" x2="422.46" y2="203.36" stroke="#e2e2e2" stroke-width="0.9"/>
<line x1="390.79" y1="199.4" x2="390.79" y2="225.4" stroke="#e2e2e2" stroke-width="0.9"/>
<line x1="397.68" y1="199.4" x2="397.68" y2="225.4" stroke="#e2e2e2" stroke-width="0.9"/>
<line x1="404.56" y1="199.4" x2="404.56" y2="225.4" stroke="#e2e2e2" stroke-width="0.9"/>
<line x1="411.44" y1="199.4" x2="411.44" y2="225.4" stroke="#e2e2e2" stroke-width="0.9"/>
<line x1="418.33" y1="199.4" x2="418.33" y2="225.4" stroke="#e2e2e2" stroke-width="0.9"/>
<rect x="389.34" y="220.58" width="2.9" height="1.85" rx="0.7" fill="#E64B35"/>
<rect x="396.23" y="222.08" width="2.9" height="1.85" rx="0.7" fill="#4DBBD5"/>
<rect x="403.11" y="217.98" width="2.9" height="1.85" rx="0.7" fill="#00A087"/>
<rect x="409.99" y="217.98" width="2.9" height="1.85" rx="0.7" fill="#3C5488"/>
<rect x="416.88" y="217.98" width="2.9" height="1.85" rx="0.7" fill="#F39B7F"/>
<polygon points="404.56,213.7 405.18,215.35 406.94,215.43 405.56,216.52 406.03,218.22 404.56,217.25 403.09,218.22 403.56,216.52 402.18,215.43 403.94,215.35" fill="#ff1a1a"/>
<line x1="428.39" y1="224.64" x2="464.19" y2="224.64" stroke="#ebebeb" stroke-width="0.6"/>
<line x1="428.39" y1="218.56" x2="464.19" y2="218.56" stroke="#ebebeb" stroke-width="0.6"/>
<line x1="428.39" y1="212.48" x2="464.19" y2="212.48" stroke="#ebebeb" stroke-width="0.6"/>
<line x1="428.39" y1="206.4" x2="464.19" y2="206.4" stroke="#ebebeb" stroke-width="0.6"/>
<line x1="428.39" y1="200.32" x2="464.19" y2="200.32" stroke="#ebebeb" stroke-width="0.6"/>
<line x1="428.39" y1="221.6" x2="464.19" y2="221.6" stroke="#e2e2e2" stroke-width="0.9"/>
<line x1="428.39" y1="215.52" x2="464.19" y2="215.52" stroke="#e2e2e2" stroke-width="0.9"/>
<line x1="428.39" y1="209.44" x2="464.19" y2="209.44" stroke="#e2e2e2" stroke-width="0.9"/>
<line x1="428.39" y1="203.36" x2="464.19" y2="203.36" stroke="#e2e2e2" stroke-width="0.9"/>
<line x1="432.52" y1="199.4" x2="432.52" y2="225.4" stroke="#e2e2e2" stroke-width="0.9"/>
<line x1="439.41" y1="199.4" x2="439.41" y2="225.4" stroke="#e2e2e2" stroke-width="0.9"/>
<line x1="446.29" y1="199.4" x2="446.29" y2="225.4" stroke="#e2e2e2" stroke-width="0.9"/>
<line x1="453.17" y1="199.4" x2="453.17" y2="225.4" stroke="#e2e2e2" stroke-width="0.9"/>
<line x1="460.06" y1="199.4" x2="460.06" y2="225.4" stroke="#e2e2e2" stroke-width="0.9"/>
<rect x="431.07" y="221.18" width="2.9" height="1.85" rx="0.7" fill="#E64B35"/>
<rect x="437.96" y="215.38" width="2.9" height="1.85" rx="0.7" fill="#4DBBD5"/>
<rect x="444.84" y="216.78" width="2.9" height="1.85" rx="0.7" fill="#00A087"/>
<rect x="451.72" y="215.98" width="2.9" height="1.85" rx="0.7" fill="#3C5488"/>
<rect x="458.61" y="217.08" width="2.9" height="1.85" rx="0.7" fill="#F39B7F"/>
<polygon points="439.41,211.1 440.02,212.75 441.78,212.83 440.4,213.92 440.87,215.62 439.41,214.65 437.94,215.62 438.41,213.92 437.03,212.83 438.79,212.75" fill="#ff1a1a"/>
<text transform="translate(469.39,245) rotate(90)" font-size="7.6" text-anchor="middle" fill="#1a1a1a" stroke="#1a1a1a">O'Neil</text>
<text x="298.1" y="238.56" font-size="7.5" text-anchor="end" fill="#333333" stroke="#333333">0.6</text>
<text x="298.1" y="244.64" font-size="7.5" text-anchor="end" fill="#333333" stroke="#333333">0.4</text>
<text x="298.1" y="250.72" font-size="7.5" text-anchor="end" fill="#333333" stroke="#333333">0.2</text>
<text x="298.1" y="256.8" font-size="7.5" text-anchor="end" fill="#333333" stroke="#333333">0.0</text>
<line x1="303.2" y1="257.24" x2="339" y2="257.24" stroke="#ebebeb" stroke-width="0.6"/>
<line x1="303.2" y1="251.16" x2="339" y2="251.16" stroke="#ebebeb" stroke-width="0.6"/>
<line x1="303.2" y1="245.08" x2="339" y2="245.08" stroke="#ebebeb" stroke-width="0.6"/>
<line x1="303.2" y1="239" x2="339" y2="239" stroke="#ebebeb" stroke-width="0.6"/>
<line x1="303.2" y1="232.92" x2="339" y2="232.92" stroke="#ebebeb" stroke-width="0.6"/>
<line x1="303.2" y1="254.2" x2="339" y2="254.2" stroke="#e2e2e2" stroke-width="0.9"/>
<line x1="303.2" y1="248.12" x2="339" y2="248.12" stroke="#e2e2e2" stroke-width="0.9"/>
<line x1="303.2" y1="242.04" x2="339" y2="242.04" stroke="#e2e2e2" stroke-width="0.9"/>
<line x1="303.2" y1="235.96" x2="339" y2="235.96" stroke="#e2e2e2" stroke-width="0.9"/>
<line x1="307.33" y1="232" x2="307.33" y2="258" stroke="#e2e2e2" stroke-width="0.9"/>
<line x1="314.22" y1="232" x2="314.22" y2="258" stroke="#e2e2e2" stroke-width="0.9"/>
<line x1="321.1" y1="232" x2="321.1" y2="258" stroke="#e2e2e2" stroke-width="0.9"/>
<line x1="327.98" y1="232" x2="327.98" y2="258" stroke="#e2e2e2" stroke-width="0.9"/>
<line x1="334.87" y1="232" x2="334.87" y2="258" stroke="#e2e2e2" stroke-width="0.9"/>
<rect x="305.88" y="250.58" width="2.9" height="1.85" rx="0.7" fill="#E64B35"/>
<rect x="312.77" y="247.98" width="2.9" height="1.85" rx="0.7" fill="#4DBBD5"/>
<rect x="319.65" y="250.88" width="2.9" height="1.85" rx="0.7" fill="#00A087"/>
<rect x="326.53" y="249.58" width="2.9" height="1.85" rx="0.7" fill="#3C5488"/>
<rect x="333.42" y="250.88" width="2.9" height="1.85" rx="0.7" fill="#F39B7F"/>
<polygon points="314.22,243.7 314.83,245.35 316.59,245.43 315.21,246.52 315.68,248.22 314.22,247.25 312.75,248.22 313.22,246.52 311.84,245.43 313.6,245.35" fill="#ff1a1a"/>
<line x1="344.93" y1="257.24" x2="380.73" y2="257.24" stroke="#ebebeb" stroke-width="0.6"/>
<line x1="344.93" y1="251.16" x2="380.73" y2="251.16" stroke="#ebebeb" stroke-width="0.6"/>
<line x1="344.93" y1="245.08" x2="380.73" y2="245.08" stroke="#ebebeb" stroke-width="0.6"/>
<line x1="344.93" y1="239" x2="380.73" y2="239" stroke="#ebebeb" stroke-width="0.6"/>
<line x1="344.93" y1="232.92" x2="380.73" y2="232.92" stroke="#ebebeb" stroke-width="0.6"/>
<line x1="344.93" y1="254.2" x2="380.73" y2="254.2" stroke="#e2e2e2" stroke-width="0.9"/>
<line x1="344.93" y1="248.12" x2="380.73" y2="248.12" stroke="#e2e2e2" stroke-width="0.9"/>
<line x1="344.93" y1="242.04" x2="380.73" y2="242.04" stroke="#e2e2e2" stroke-width="0.9"/>
<line x1="344.93" y1="235.96" x2="380.73" y2="235.96" stroke="#e2e2e2" stroke-width="0.9"/>
<line x1="349.06" y1="232" x2="349.06" y2="258" stroke="#e2e2e2" stroke-width="0.9"/>
<line x1="355.95" y1="232" x2="355.95" y2="258" stroke="#e2e2e2" stroke-width="0.9"/>
<line x1="362.83" y1="232" x2="362.83" y2="258" stroke="#e2e2e2" stroke-width="0.9"/>
<line x1="369.71" y1="232" x2="369.71" y2="258" stroke="#e2e2e2" stroke-width="0.9"/>
<line x1="376.6" y1="232" x2="376.6" y2="258" stroke="#e2e2e2" stroke-width="0.9"/>
<rect x="347.61" y="234.78" width="2.9" height="1.85" rx="0.7" fill="#E64B35"/>
<rect x="354.5" y="235.78" width="2.9" height="1.85" rx="0.7" fill="#4DBBD5"/>
<rect x="361.38" y="234.78" width="2.9" height="1.85" rx="0.7" fill="#00A087"/>
<rect x="368.26" y="235.48" width="2.9" height="1.85" rx="0.7" fill="#3C5488"/>
<rect x="375.15" y="234.78" width="2.9" height="1.85" rx="0.7" fill="#F39B7F"/>
<polygon points="362.83,230.5 363.45,232.15 365.21,232.23 363.83,233.32 364.3,235.02 362.83,234.05 361.36,235.02 361.83,233.32 360.45,232.23 362.21,232.15" fill="#ff1a1a"/>
<line x1="386.66" y1="257.24" x2="422.46" y2="257.24" stroke="#ebebeb" stroke-width="0.6"/>
<line x1="386.66" y1="251.16" x2="422.46" y2="251.16" stroke="#ebebeb" stroke-width="0.6"/>
<line x1="386.66" y1="245.08" x2="422.46" y2="245.08" stroke="#ebebeb" stroke-width="0.6"/>
<line x1="386.66" y1="239" x2="422.46" y2="239" stroke="#ebebeb" stroke-width="0.6"/>
<line x1="386.66" y1="232.92" x2="422.46" y2="232.92" stroke="#ebebeb" stroke-width="0.6"/>
<line x1="386.66" y1="254.2" x2="422.46" y2="254.2" stroke="#e2e2e2" stroke-width="0.9"/>
<line x1="386.66" y1="248.12" x2="422.46" y2="248.12" stroke="#e2e2e2" stroke-width="0.9"/>
<line x1="386.66" y1="242.04" x2="422.46" y2="242.04" stroke="#e2e2e2" stroke-width="0.9"/>
<line x1="386.66" y1="235.96" x2="422.46" y2="235.96" stroke="#e2e2e2" stroke-width="0.9"/>
<line x1="390.79" y1="232" x2="390.79" y2="258" stroke="#e2e2e2" stroke-width="0.9"/>
<line x1="397.68" y1="232" x2="397.68" y2="258" stroke="#e2e2e2" stroke-width="0.9"/>
<line x1="404.56" y1="232" x2="404.56" y2="258" stroke="#e2e2e2" stroke-width="0.9"/>
<line x1="411.44" y1="232" x2="411.44" y2="258" stroke="#e2e2e2" stroke-width="0.9"/>
<line x1="418.33" y1="232" x2="418.33" y2="258" stroke="#e2e2e2" stroke-width="0.9"/>
<rect x="389.34" y="252.18" width="2.9" height="1.85" rx="0.7" fill="#E64B35"/>
<rect x="396.23" y="254.18" width="2.9" height="1.85" rx="0.7" fill="#4DBBD5"/>
<rect x="403.11" y="250.58" width="2.9" height="1.85" rx="0.7" fill="#00A087"/>
<rect x="409.99" y="250.98" width="2.9" height="1.85" rx="0.7" fill="#3C5488"/>
<rect x="416.88" y="250.98" width="2.9" height="1.85" rx="0.7" fill="#F39B7F"/>
<polygon points="404.56,246.3 405.18,247.95 406.94,248.03 405.56,249.12 406.03,250.82 404.56,249.85 403.09,250.82 403.56,249.12 402.18,248.03 403.94,247.95" fill="#ff1a1a"/>
<line x1="428.39" y1="257.24" x2="464.19" y2="257.24" stroke="#ebebeb" stroke-width="0.6"/>
<line x1="428.39" y1="251.16" x2="464.19" y2="251.16" stroke="#ebebeb" stroke-width="0.6"/>
<line x1="428.39" y1="245.08" x2="464.19" y2="245.08" stroke="#ebebeb" stroke-width="0.6"/>
<line x1="428.39" y1="239" x2="464.19" y2="239" stroke="#ebebeb" stroke-width="0.6"/>
<line x1="428.39" y1="232.92" x2="464.19" y2="232.92" stroke="#ebebeb" stroke-width="0.6"/>
<line x1="428.39" y1="254.2" x2="464.19" y2="254.2" stroke="#e2e2e2" stroke-width="0.9"/>
<line x1="428.39" y1="248.12" x2="464.19" y2="248.12" stroke="#e2e2e2" stroke-width="0.9"/>
<line x1="428.39" y1="242.04" x2="464.19" y2="242.04" stroke="#e2e2e2" stroke-width="0.9"/>
<line x1="428.39" y1="235.96" x2="464.19" y2="235.96" stroke="#e2e2e2" stroke-width="0.9"/>
<line x1="432.52" y1="232" x2="432.52" y2="258" stroke="#e2e2e2" stroke-width="0.9"/>
<line x1="439.41" y1="232" x2="439.41" y2="258" stroke="#e2e2e2" stroke-width="0.9"/>
<line x1="446.29" y1="232" x2="446.29" y2="258" stroke="#e2e2e2" stroke-width="0.9"/>
<line x1="453.17" y1="232" x2="453.17" y2="258" stroke="#e2e2e2" stroke-width="0.9"/>
<line x1="460.06" y1="232" x2="460.06" y2="258" stroke="#e2e2e2" stroke-width="0.9"/>
<rect x="431.07" y="247.08" width="2.9" height="1.85" rx="0.7" fill="#E64B35"/>
<rect x="437.96" y="247.08" width="2.9" height="1.85" rx="0.7" fill="#4DBBD5"/>
<rect x="444.84" y="246.68" width="2.9" height="1.85" rx="0.7" fill="#00A087"/>
<rect x="451.72" y="247.08" width="2.9" height="1.85" rx="0.7" fill="#3C5488"/>
<rect x="458.61" y="247.08" width="2.9" height="1.85" rx="0.7" fill="#F39B7F"/>
<polygon points="446.29,242.4 446.91,244.05 448.67,244.13 447.29,245.22 447.76,246.92 446.29,245.95 444.82,246.92 445.29,245.22 443.91,244.13 445.67,244.05" fill="#ff1a1a"/>
<text transform="translate(469.39,277.6) rotate(90)" font-size="7.6" text-anchor="middle" fill="#1a1a1a" stroke="#1a1a1a">FORCINA</text>
<text x="298.1" y="271.16" font-size="7.5" text-anchor="end" fill="#333333" stroke="#333333">0.6</text>
<text x="298.1" y="277.24" font-size="7.5" text-anchor="end" fill="#333333" stroke="#333333">0.4</text>
<text x="298.1" y="283.32" font-size="7.5" text-anchor="end" fill="#333333" stroke="#333333">0.2</text>
<text x="298.1" y="289.4" font-size="7.5" text-anchor="end" fill="#333333" stroke="#333333">0.0</text>
<line x1="303.2" y1="289.84" x2="339" y2="289.84" stroke="#ebebeb" stroke-width="0.6"/>
<line x1="303.2" y1="283.76" x2="339" y2="283.76" stroke="#ebebeb" stroke-width="0.6"/>
<line x1="303.2" y1="277.68" x2="339" y2="277.68" stroke="#ebebeb" stroke-width="0.6"/>
<line x1="303.2" y1="271.6" x2="339" y2="271.6" stroke="#ebebeb" stroke-width="0.6"/>
<line x1="303.2" y1="265.52" x2="339" y2="265.52" stroke="#ebebeb" stroke-width="0.6"/>
<line x1="303.2" y1="286.8" x2="339" y2="286.8" stroke="#e2e2e2" stroke-width="0.9"/>
<line x1="303.2" y1="280.72" x2="339" y2="280.72" stroke="#e2e2e2" stroke-width="0.9"/>
<line x1="303.2" y1="274.64" x2="339" y2="274.64" stroke="#e2e2e2" stroke-width="0.9"/>
<line x1="303.2" y1="268.56" x2="339" y2="268.56" stroke="#e2e2e2" stroke-width="0.9"/>
<line x1="307.33" y1="264.6" x2="307.33" y2="290.6" stroke="#e2e2e2" stroke-width="0.9"/>
<line x1="314.22" y1="264.6" x2="314.22" y2="290.6" stroke="#e2e2e2" stroke-width="0.9"/>
<line x1="321.1" y1="264.6" x2="321.1" y2="290.6" stroke="#e2e2e2" stroke-width="0.9"/>
<line x1="327.98" y1="264.6" x2="327.98" y2="290.6" stroke="#e2e2e2" stroke-width="0.9"/>
<line x1="334.87" y1="264.6" x2="334.87" y2="290.6" stroke="#e2e2e2" stroke-width="0.9"/>
<rect x="305.88" y="285.98" width="2.9" height="1.85" rx="0.7" fill="#E64B35"/>
<rect x="312.77" y="282.08" width="2.9" height="1.85" rx="0.7" fill="#4DBBD5"/>
<rect x="319.65" y="283.38" width="2.9" height="1.85" rx="0.7" fill="#00A087"/>
<rect x="326.53" y="282.38" width="2.9" height="1.85" rx="0.7" fill="#3C5488"/>
<rect x="333.42" y="283.08" width="2.9" height="1.85" rx="0.7" fill="#F39B7F"/>
<polygon points="314.22,277.8 314.83,279.45 316.59,279.53 315.21,280.62 315.68,282.32 314.22,281.35 312.75,282.32 313.22,280.62 311.84,279.53 313.6,279.45" fill="#ff1a1a"/>
<line x1="344.93" y1="289.84" x2="380.73" y2="289.84" stroke="#ebebeb" stroke-width="0.6"/>
<line x1="344.93" y1="283.76" x2="380.73" y2="283.76" stroke="#ebebeb" stroke-width="0.6"/>
<line x1="344.93" y1="277.68" x2="380.73" y2="277.68" stroke="#ebebeb" stroke-width="0.6"/>
<line x1="344.93" y1="271.6" x2="380.73" y2="271.6" stroke="#ebebeb" stroke-width="0.6"/>
<line x1="344.93" y1="265.52" x2="380.73" y2="265.52" stroke="#ebebeb" stroke-width="0.6"/>
<line x1="344.93" y1="286.8" x2="380.73" y2="286.8" stroke="#e2e2e2" stroke-width="0.9"/>
<line x1="344.93" y1="280.72" x2="380.73" y2="280.72" stroke="#e2e2e2" stroke-width="0.9"/>
<line x1="344.93" y1="274.64" x2="380.73" y2="274.64" stroke="#e2e2e2" stroke-width="0.9"/>
<line x1="344.93" y1="268.56" x2="380.73" y2="268.56" stroke="#e2e2e2" stroke-width="0.9"/>
<line x1="349.06" y1="264.6" x2="349.06" y2="290.6" stroke="#e2e2e2" stroke-width="0.9"/>
<line x1="355.95" y1="264.6" x2="355.95" y2="290.6" stroke="#e2e2e2" stroke-width="0.9"/>
<line x1="362.83" y1="264.6" x2="362.83" y2="290.6" stroke="#e2e2e2" stroke-width="0.9"/>
<line x1="369.71" y1="264.6" x2="369.71" y2="290.6" stroke="#e2e2e2" stroke-width="0.9"/>
<line x1="376.6" y1="264.6" x2="376.6" y2="290.6" stroke="#e2e2e2" stroke-width="0.9"/>
<rect x="347.61" y="281.68" width="2.9" height="1.85" rx="0.7" fill="#E64B35"/>
<rect x="354.5" y="282.88" width="2.9" height="1.85" rx="0.7" fill="#4DBBD5"/>
<rect x="361.38" y="282.08" width="2.9" height="1.85" rx="0.7" fill="#00A087"/>
<rect x="368.26" y="283.78" width="2.9" height="1.85" rx="0.7" fill="#3C5488"/>
<rect x="375.15" y="281.38" width="2.9" height="1.85" rx="0.7" fill="#F39B7F"/>
<polygon points="376.6,277.1 377.22,278.75 378.98,278.83 377.6,279.92 378.07,281.62 376.6,280.65 375.13,281.62 375.6,279.92 374.22,278.83 375.98,278.75" fill="#ff1a1a"/>
<line x1="386.66" y1="289.84" x2="422.46" y2="289.84" stroke="#ebebeb" stroke-width="0.6"/>
<line x1="386.66" y1="283.76" x2="422.46" y2="283.76" stroke="#ebebeb" stroke-width="0.6"/>
<line x1="386.66" y1="277.68" x2="422.46" y2="277.68" stroke="#ebebeb" stroke-width="0.6"/>
<line x1="386.66" y1="271.6" x2="422.46" y2="271.6" stroke="#ebebeb" stroke-width="0.6"/>
<line x1="386.66" y1="265.52" x2="422.46" y2="265.52" stroke="#ebebeb" stroke-width="0.6"/>
<line x1="386.66" y1="286.8" x2="422.46" y2="286.8" stroke="#e2e2e2" stroke-width="0.9"/>
<line x1="386.66" y1="280.72" x2="422.46" y2="280.72" stroke="#e2e2e2" stroke-width="0.9"/>
<line x1="386.66" y1="274.64" x2="422.46" y2="274.64" stroke="#e2e2e2" stroke-width="0.9"/>
<line x1="386.66" y1="268.56" x2="422.46" y2="268.56" stroke="#e2e2e2" stroke-width="0.9"/>
<line x1="390.79" y1="264.6" x2="390.79" y2="290.6" stroke="#e2e2e2" stroke-width="0.9"/>
<line x1="397.68" y1="264.6" x2="397.68" y2="290.6" stroke="#e2e2e2" stroke-width="0.9"/>
<line x1="404.56" y1="264.6" x2="404.56" y2="290.6" stroke="#e2e2e2" stroke-width="0.9"/>
<line x1="411.44" y1="264.6" x2="411.44" y2="290.6" stroke="#e2e2e2" stroke-width="0.9"/>
<line x1="418.33" y1="264.6" x2="418.33" y2="290.6" stroke="#e2e2e2" stroke-width="0.9"/>
<line x1="390.79" y1="279.4" x2="390.79" y2="283.2" stroke="#E64B35" stroke-width="0.8"/>
<rect x="389.34" y="280.38" width="2.9" height="1.85" rx="0.7" fill="#E64B35"/>
<line x1="397.68" y1="279.5" x2="397.68" y2="283.3" stroke="#4DBBD5" stroke-width="0.8"/>
<rect x="396.23" y="280.48" width="2.9" height="1.85" rx="0.7" fill="#4DBBD5"/>
<line x1="404.56" y1="279.5" x2="404.56" y2="283.3" stroke="#00A087" stroke-width="0.8"/>
<rect x="403.11" y="280.48" width="2.9" height="1.85" rx="0.7" fill="#00A087"/>
<line x1="411.44" y1="279.5" x2="411.44" y2="283.3" stroke="#3C5488" stroke-width="0.8"/>
<rect x="409.99" y="280.48" width="2.9" height="1.85" rx="0.7" fill="#3C5488"/>
<rect x="416.88" y="280.48" width="2.9" height="1.85" rx="0.7" fill="#F39B7F"/>
<polygon points="390.79,276.1 391.41,277.75 393.17,277.83 391.79,278.92 392.26,280.62 390.79,279.65 389.32,280.62 389.79,278.92 388.41,277.83 390.17,277.75" fill="#ff1a1a"/>
<line x1="428.39" y1="289.84" x2="464.19" y2="289.84" stroke="#ebebeb" stroke-width="0.6"/>
<line x1="428.39" y1="283.76" x2="464.19" y2="283.76" stroke="#ebebeb" stroke-width="0.6"/>
<line x1="428.39" y1="277.68" x2="464.19" y2="277.68" stroke="#ebebeb" stroke-width="0.6"/>
<line x1="428.39" y1="271.6" x2="464.19" y2="271.6" stroke="#ebebeb" stroke-width="0.6"/>
<line x1="428.39" y1="265.52" x2="464.19" y2="265.52" stroke="#ebebeb" stroke-width="0.6"/>
<line x1="428.39" y1="286.8" x2="464.19" y2="286.8" stroke="#e2e2e2" stroke-width="0.9"/>
<line x1="428.39" y1="280.72" x2="464.19" y2="280.72" stroke="#e2e2e2" stroke-width="0.9"/>
<line x1="428.39" y1="274.64" x2="464.19" y2="274.64" stroke="#e2e2e2" stroke-width="0.9"/>
<line x1="428.39" y1="268.56" x2="464.19" y2="268.56" stroke="#e2e2e2" stroke-width="0.9"/>
<line x1="432.52" y1="264.6" x2="432.52" y2="290.6" stroke="#e2e2e2" stroke-width="0.9"/>
<line x1="439.41" y1="264.6" x2="439.41" y2="290.6" stroke="#e2e2e2" stroke-width="0.9"/>
<line x1="446.29" y1="264.6" x2="446.29" y2="290.6" stroke="#e2e2e2" stroke-width="0.9"/>
<line x1="453.17" y1="264.6" x2="453.17" y2="290.6" stroke="#e2e2e2" stroke-width="0.9"/>
<line x1="460.06" y1="264.6" x2="460.06" y2="290.6" stroke="#e2e2e2" stroke-width="0.9"/>
<rect x="431.07" y="282.98" width="2.9" height="1.85" rx="0.7" fill="#E64B35"/>
<rect x="437.96" y="282.78" width="2.9" height="1.85" rx="0.7" fill="#4DBBD5"/>
<rect x="444.84" y="282.38" width="2.9" height="1.85" rx="0.7" fill="#00A087"/>
<rect x="451.72" y="282.98" width="2.9" height="1.85" rx="0.7" fill="#3C5488"/>
<rect x="458.61" y="282.78" width="2.9" height="1.85" rx="0.7" fill="#F39B7F"/>
<polygon points="446.29,278.1 446.91,279.75 448.67,279.83 447.29,280.92 447.76,282.62 446.29,281.65 444.82,282.62 445.29,280.92 443.91,279.83 445.67,279.75" fill="#ff1a1a"/>
<text transform="translate(469.39,311.5) rotate(90)" font-size="7.6" text-anchor="middle" fill="#1a1a1a" stroke="#1a1a1a">Mathews</text>
<text x="298.1" y="303.56" font-size="7.5" text-anchor="end" fill="#333333" stroke="#333333">0.6</text>
<text x="298.1" y="309.64" font-size="7.5" text-anchor="end" fill="#333333" stroke="#333333">0.4</text>
<text x="298.1" y="315.72" font-size="7.5" text-anchor="end" fill="#333333" stroke="#333333">0.2</text>
<text x="298.1" y="321.8" font-size="7.5" text-anchor="end" fill="#333333" stroke="#333333">0.0</text>
<line x1="303.2" y1="322.24" x2="339" y2="322.24" stroke="#ebebeb" stroke-width="0.6"/>
<line x1="303.2" y1="316.16" x2="339" y2="316.16" stroke="#ebebeb" stroke-width="0.6"/>
<line x1="303.2" y1="310.08" x2="339" y2="310.08" stroke="#ebebeb" stroke-width="0.6"/>
<line x1="303.2" y1="304" x2="339" y2="304" stroke="#ebebeb" stroke-width="0.6"/>
<line x1="303.2" y1="297.92" x2="339" y2="297.92" stroke="#ebebeb" stroke-width="0.6"/>
<line x1="303.2" y1="319.2" x2="339" y2="319.2" stroke="#e2e2e2" stroke-width="0.9"/>
<line x1="303.2" y1="313.12" x2="339" y2="313.12" stroke="#e2e2e2" stroke-width="0.9"/>
<line x1="303.2" y1="307.04" x2="339" y2="307.04" stroke="#e2e2e2" stroke-width="0.9"/>
<line x1="303.2" y1="300.96" x2="339" y2="300.96" stroke="#e2e2e2" stroke-width="0.9"/>
<line x1="307.33" y1="297" x2="307.33" y2="323" stroke="#e2e2e2" stroke-width="0.9"/>
<line x1="314.22" y1="297" x2="314.22" y2="323" stroke="#e2e2e2" stroke-width="0.9"/>
<line x1="321.1" y1="297" x2="321.1" y2="323" stroke="#e2e2e2" stroke-width="0.9"/>
<line x1="327.98" y1="297" x2="327.98" y2="323" stroke="#e2e2e2" stroke-width="0.9"/>
<line x1="334.87" y1="297" x2="334.87" y2="323" stroke="#e2e2e2" stroke-width="0.9"/>
<line x1="307.33" y1="315.7" x2="307.33" y2="322.5" stroke="#E64B35" stroke-width="0.8"/>
<ellipse cx="307.33" cy="319.1" rx="1.6" ry="1.45" fill="#E64B35"/>
<line x1="314.22" y1="313.4" x2="314.22" y2="318.2" stroke="#4DBBD5" stroke-width="0.8"/>
<ellipse cx="314.22" cy="315.8" rx="1.6" ry="1.45" fill="#4DBBD5"/>
<line x1="321.1" y1="316.3" x2="321.1" y2="321.1" stroke="#00A087" stroke-width="0.8"/>
<ellipse cx="321.1" cy="318.7" rx="1.6" ry="1.45" fill="#00A087"/>
<line x1="327.98" y1="312.1" x2="327.98" y2="316.9" stroke="#3C5488" stroke-width="0.8"/>
<ellipse cx="327.98" cy="314.5" rx="1.6" ry="1.45" fill="#3C5488"/>
<rect x="333.42" y="319.28" width="2.9" height="1.85" rx="0.7" fill="#F39B7F"/>
<polygon points="327.98,309.3 328.6,310.95 330.36,311.03 328.98,312.12 329.45,313.82 327.98,312.85 326.52,313.82 326.99,312.12 325.61,311.03 327.37,310.95" fill="#ff1a1a"/>
<line x1="344.93" y1="322.24" x2="380.73" y2="322.24" stroke="#ebebeb" stroke-width="0.6"/>
<line x1="344.93" y1="316.16" x2="380.73" y2="316.16" stroke="#ebebeb" stroke-width="0.6"/>
<line x1="344.93" y1="310.08" x2="380.73" y2="310.08" stroke="#ebebeb" stroke-width="0.6"/>
<line x1="344.93" y1="304" x2="380.73" y2="304" stroke="#ebebeb" stroke-width="0.6"/>
<line x1="344.93" y1="297.92" x2="380.73" y2="297.92" stroke="#ebebeb" stroke-width="0.6"/>
<line x1="344.93" y1="319.2" x2="380.73" y2="319.2" stroke="#e2e2e2" stroke-width="0.9"/>
<line x1="344.93" y1="313.12" x2="380.73" y2="313.12" stroke="#e2e2e2" stroke-width="0.9"/>
<line x1="344.93" y1="307.04" x2="380.73" y2="307.04" stroke="#e2e2e2" stroke-width="0.9"/>
<line x1="344.93" y1="300.96" x2="380.73" y2="300.96" stroke="#e2e2e2" stroke-width="0.9"/>
<line x1="349.06" y1="297" x2="349.06" y2="323" stroke="#e2e2e2" stroke-width="0.9"/>
<line x1="355.95" y1="297" x2="355.95" y2="323" stroke="#e2e2e2" stroke-width="0.9"/>
<line x1="362.83" y1="297" x2="362.83" y2="323" stroke="#e2e2e2" stroke-width="0.9"/>
<line x1="369.71" y1="297" x2="369.71" y2="323" stroke="#e2e2e2" stroke-width="0.9"/>
<line x1="376.6" y1="297" x2="376.6" y2="323" stroke="#e2e2e2" stroke-width="0.9"/>
<line x1="349.06" y1="304.6" x2="349.06" y2="310" stroke="#E64B35" stroke-width="0.8"/>
<ellipse cx="349.06" cy="307.3" rx="1.6" ry="1.45" fill="#E64B35"/>
<rect x="354.5" y="315.58" width="2.9" height="1.85" rx="0.7" fill="#4DBBD5"/>
<line x1="362.83" y1="311.5" x2="362.83" y2="316.3" stroke="#00A087" stroke-width="0.8"/>
<ellipse cx="362.83" cy="313.9" rx="1.6" ry="1.45" fill="#00A087"/>
<line x1="369.71" y1="314.8" x2="369.71" y2="319.6" stroke="#3C5488" stroke-width="0.8"/>
<ellipse cx="369.71" cy="317.2" rx="1.6" ry="1.45" fill="#3C5488"/>
<rect x="375.15" y="314.68" width="2.9" height="1.85" rx="0.7" fill="#F39B7F"/>
<polygon points="349.06,302.1 349.68,303.75 351.44,303.83 350.06,304.92 350.53,306.62 349.06,305.65 347.59,306.62 348.06,304.92 346.68,303.83 348.44,303.75" fill="#ff1a1a"/>
<line x1="386.66" y1="322.24" x2="422.46" y2="322.24" stroke="#ebebeb" stroke-width="0.6"/>
<line x1="386.66" y1="316.16" x2="422.46" y2="316.16" stroke="#ebebeb" stroke-width="0.6"/>
<line x1="386.66" y1="310.08" x2="422.46" y2="310.08" stroke="#ebebeb" stroke-width="0.6"/>
<line x1="386.66" y1="304" x2="422.46" y2="304" stroke="#ebebeb" stroke-width="0.6"/>
<line x1="386.66" y1="297.92" x2="422.46" y2="297.92" stroke="#ebebeb" stroke-width="0.6"/>
<line x1="386.66" y1="319.2" x2="422.46" y2="319.2" stroke="#e2e2e2" stroke-width="0.9"/>
<line x1="386.66" y1="313.12" x2="422.46" y2="313.12" stroke="#e2e2e2" stroke-width="0.9"/>
<line x1="386.66" y1="307.04" x2="422.46" y2="307.04" stroke="#e2e2e2" stroke-width="0.9"/>
<line x1="386.66" y1="300.96" x2="422.46" y2="300.96" stroke="#e2e2e2" stroke-width="0.9"/>
<line x1="390.79" y1="297" x2="390.79" y2="323" stroke="#e2e2e2" stroke-width="0.9"/>
<line x1="397.68" y1="297" x2="397.68" y2="323" stroke="#e2e2e2" stroke-width="0.9"/>
<line x1="404.56" y1="297" x2="404.56" y2="323" stroke="#e2e2e2" stroke-width="0.9"/>
<line x1="411.44" y1="297" x2="411.44" y2="323" stroke="#e2e2e2" stroke-width="0.9"/>
<line x1="418.33" y1="297" x2="418.33" y2="323" stroke="#e2e2e2" stroke-width="0.9"/>
<rect x="389.34" y="313.98" width="2.9" height="1.85" rx="0.7" fill="#E64B35"/>
<line x1="397.68" y1="315.6" x2="397.68" y2="320" stroke="#4DBBD5" stroke-width="0.8"/>
<ellipse cx="397.68" cy="317.8" rx="1.6" ry="1.45" fill="#4DBBD5"/>
<line x1="404.56" y1="312.3" x2="404.56" y2="316.7" stroke="#00A087" stroke-width="0.8"/>
<ellipse cx="404.56" cy="314.5" rx="1.6" ry="1.45" fill="#00A087"/>
<line x1="411.44" y1="312.1" x2="411.44" y2="316.5" stroke="#3C5488" stroke-width="0.8"/>
<ellipse cx="411.44" cy="314.3" rx="1.6" ry="1.45" fill="#3C5488"/>
<line x1="418.33" y1="312.1" x2="418.33" y2="316.5" stroke="#F39B7F" stroke-width="0.8"/>
<ellipse cx="418.33" cy="314.3" rx="1.6" ry="1.45" fill="#F39B7F"/>
<polygon points="411.44,309.1 412.06,310.75 413.82,310.83 412.44,311.92 412.91,313.62 411.44,312.65 409.98,313.62 410.45,311.92 409.07,310.83 410.83,310.75" fill="#ff1a1a"/>
<polygon points="418.33,309.1 418.95,310.75 420.71,310.83 419.33,311.92 419.8,313.62 418.33,312.65 416.86,313.62 417.33,311.92 415.95,310.83 417.71,310.75" fill="#ff1a1a"/>
<line x1="428.39" y1="322.24" x2="464.19" y2="322.24" stroke="#ebebeb" stroke-width="0.6"/>
<line x1="428.39" y1="316.16" x2="464.19" y2="316.16" stroke="#ebebeb" stroke-width="0.6"/>
<line x1="428.39" y1="310.08" x2="464.19" y2="310.08" stroke="#ebebeb" stroke-width="0.6"/>
<line x1="428.39" y1="304" x2="464.19" y2="304" stroke="#ebebeb" stroke-width="0.6"/>
<line x1="428.39" y1="297.92" x2="464.19" y2="297.92" stroke="#ebebeb" stroke-width="0.6"/>
<line x1="428.39" y1="319.2" x2="464.19" y2="319.2" stroke="#e2e2e2" stroke-width="0.9"/>
<line x1="428.39" y1="313.12" x2="464.19" y2="313.12" stroke="#e2e2e2" stroke-width="0.9"/>
<line x1="428.39" y1="307.04" x2="464.19" y2="307.04" stroke="#e2e2e2" stroke-width="0.9"/>
<line x1="428.39" y1="300.96" x2="464.19" y2="300.96" stroke="#e2e2e2" stroke-width="0.9"/>
<line x1="432.52" y1="297" x2="432.52" y2="323" stroke="#e2e2e2" stroke-width="0.9"/>
<line x1="439.41" y1="297" x2="439.41" y2="323" stroke="#e2e2e2" stroke-width="0.9"/>
<line x1="446.29" y1="297" x2="446.29" y2="323" stroke="#e2e2e2" stroke-width="0.9"/>
<line x1="453.17" y1="297" x2="453.17" y2="323" stroke="#e2e2e2" stroke-width="0.9"/>
<line x1="460.06" y1="297" x2="460.06" y2="323" stroke="#e2e2e2" stroke-width="0.9"/>
<rect x="431.07" y="298.78" width="2.9" height="1.85" rx="0.7" fill="#E64B35"/>
<line x1="439.41" y1="297.5" x2="439.41" y2="301.3" stroke="#4DBBD5" stroke-width="0.8"/>
<rect x="437.96" y="298.48" width="2.9" height="1.85" rx="0.7" fill="#4DBBD5"/>
<line x1="446.29" y1="297.3" x2="446.29" y2="301.1" stroke="#00A087" stroke-width="0.8"/>
<rect x="444.84" y="298.28" width="2.9" height="1.85" rx="0.7" fill="#00A087"/>
<line x1="453.17" y1="297.3" x2="453.17" y2="301.1" stroke="#3C5488" stroke-width="0.8"/>
<rect x="451.72" y="298.28" width="2.9" height="1.85" rx="0.7" fill="#3C5488"/>
<rect x="458.61" y="298.08" width="2.9" height="1.85" rx="0.7" fill="#F39B7F"/>
<polygon points="460.06,293.8 460.68,295.45 462.44,295.53 461.06,296.62 461.53,298.32 460.06,297.35 458.59,298.32 459.06,296.62 457.68,295.53 459.44,295.45" fill="#ff1a1a"/>
<text transform="translate(301.93,329.2) rotate(90)" font-size="7.4" style="stroke-width:0.32px" fill="#333333" stroke="#333333">M1</text>
<text transform="translate(308.82,329.2) rotate(90)" font-size="7.4" style="stroke-width:0.32px" fill="#333333" stroke="#333333">M5</text>
<text transform="translate(315.7,329.2) rotate(90)" font-size="7.4" style="stroke-width:0.32px" fill="#333333" stroke="#333333">M6</text>
<text transform="translate(322.58,329.2) rotate(90)" font-size="7.4" style="stroke-width:0.32px" fill="#333333" stroke="#333333">M11</text>
<text transform="translate(329.47,329.2) rotate(90)" font-size="7.4" style="stroke-width:0.32px" fill="#333333" stroke="#333333">M12</text>
<text transform="translate(343.66,329.2) rotate(90)" font-size="7.4" style="stroke-width:0.32px" fill="#333333" stroke="#333333">M1</text>
<text transform="translate(350.55,329.2) rotate(90)" font-size="7.4" style="stroke-width:0.32px" fill="#333333" stroke="#333333">M5</text>
<text transform="translate(357.43,329.2) rotate(90)" font-size="7.4" style="stroke-width:0.32px" fill="#333333" stroke="#333333">M6</text>
<text transform="translate(364.31,329.2) rotate(90)" font-size="7.4" style="stroke-width:0.32px" fill="#333333" stroke="#333333">M11</text>
<text transform="translate(371.2,329.2) rotate(90)" font-size="7.4" style="stroke-width:0.32px" fill="#333333" stroke="#333333">M12</text>
<text transform="translate(385.39,329.2) rotate(90)" font-size="7.4" style="stroke-width:0.32px" fill="#333333" stroke="#333333">M1</text>
<text transform="translate(392.28,329.2) rotate(90)" font-size="7.4" style="stroke-width:0.32px" fill="#333333" stroke="#333333">M5</text>
<text transform="translate(399.16,329.2) rotate(90)" font-size="7.4" style="stroke-width:0.32px" fill="#333333" stroke="#333333">M6</text>
<text transform="translate(406.04,329.2) rotate(90)" font-size="7.4" style="stroke-width:0.32px" fill="#333333" stroke="#333333">M11</text>
<text transform="translate(412.93,329.2) rotate(90)" font-size="7.4" style="stroke-width:0.32px" fill="#333333" stroke="#333333">M12</text>
<text transform="translate(427.12,329.2) rotate(90)" font-size="7.4" style="stroke-width:0.32px" fill="#333333" stroke="#333333">M1</text>
<text transform="translate(434.01,329.2) rotate(90)" font-size="7.4" style="stroke-width:0.32px" fill="#333333" stroke="#333333">M5</text>
<text transform="translate(440.89,329.2) rotate(90)" font-size="7.4" style="stroke-width:0.32px" fill="#333333" stroke="#333333">M6</text>
<text transform="translate(447.77,329.2) rotate(90)" font-size="7.4" style="stroke-width:0.32px" fill="#333333" stroke="#333333">M11</text>
<text transform="translate(454.66,329.2) rotate(90)" font-size="7.4" style="stroke-width:0.32px" fill="#333333" stroke="#333333">M12</text>
<text transform="translate(282.3,261.2) rotate(-90)" font-size="8.8" text-anchor="middle" fill="#1a1a1a" stroke="#1a1a1a">Pearson's r</text>
<text x="592.5" y="182" font-size="10.7" font-weight="bold" text-anchor="middle" fill="#000" stroke="#000">Loewe</text>
<text x="533.95" y="193.1" font-size="7.65" text-anchor="middle" fill="#1a1a1a" stroke="#1a1a1a">ALMANAC</text>
<text x="574.68" y="193.1" font-size="7.65" text-anchor="middle" fill="#1a1a1a" stroke="#1a1a1a">O'Neil</text>
<text x="615.41" y="193.1" font-size="7.65" text-anchor="middle" fill="#1a1a1a" stroke="#1a1a1a">FORCINA</text>
<text x="656.14" y="193.1" font-size="7.65" text-anchor="middle" fill="#1a1a1a" stroke="#1a1a1a">Mathews</text>
<text transform="translate(678.79,212.4) rotate(90)" font-size="7.6" text-anchor="middle" fill="#1a1a1a" stroke="#1a1a1a">ALMANAC</text>
<text x="511" y="202.67" font-size="7.5" text-anchor="end" fill="#333333" stroke="#333333">0.9</text>
<text x="511" y="208.88" font-size="7.5" text-anchor="end" fill="#333333" stroke="#333333">0.6</text>
<text x="511" y="215.09" font-size="7.5" text-anchor="end" fill="#333333" stroke="#333333">0.3</text>
<text x="511" y="221.3" font-size="7.5" text-anchor="end" fill="#333333" stroke="#333333">0.0</text>
<text x="511" y="227.51" font-size="7.5" text-anchor="end" fill="#333333" stroke="#333333">−0.3</text>
<line x1="516.5" y1="221.81" x2="551.4" y2="221.81" stroke="#ebebeb" stroke-width="0.6"/>
<line x1="516.5" y1="215.6" x2="551.4" y2="215.6" stroke="#ebebeb" stroke-width="0.6"/>
<line x1="516.5" y1="209.39" x2="551.4" y2="209.39" stroke="#ebebeb" stroke-width="0.6"/>
<line x1="516.5" y1="203.18" x2="551.4" y2="203.18" stroke="#ebebeb" stroke-width="0.6"/>
<line x1="516.5" y1="224.91" x2="551.4" y2="224.91" stroke="#e2e2e2" stroke-width="0.9"/>
<line x1="516.5" y1="218.7" x2="551.4" y2="218.7" stroke="#e2e2e2" stroke-width="0.9"/>
<line x1="516.5" y1="212.49" x2="551.4" y2="212.49" stroke="#e2e2e2" stroke-width="0.9"/>
<line x1="516.5" y1="206.28" x2="551.4" y2="206.28" stroke="#e2e2e2" stroke-width="0.9"/>
<line x1="516.5" y1="200.07" x2="551.4" y2="200.07" stroke="#e2e2e2" stroke-width="0.9"/>
<line x1="520.53" y1="199.3" x2="520.53" y2="225.5" stroke="#e2e2e2" stroke-width="0.9"/>
<line x1="527.24" y1="199.3" x2="527.24" y2="225.5" stroke="#e2e2e2" stroke-width="0.9"/>
<line x1="533.95" y1="199.3" x2="533.95" y2="225.5" stroke="#e2e2e2" stroke-width="0.9"/>
<line x1="540.66" y1="199.3" x2="540.66" y2="225.5" stroke="#e2e2e2" stroke-width="0.9"/>
<line x1="547.37" y1="199.3" x2="547.37" y2="225.5" stroke="#e2e2e2" stroke-width="0.9"/>
<rect x="519.08" y="200.38" width="2.9" height="1.85" rx="0.7" fill="#E64B35"/>
<rect x="525.79" y="200.88" width="2.9" height="1.85" rx="0.7" fill="#4DBBD5"/>
<rect x="532.5" y="199.88" width="2.9" height="1.85" rx="0.7" fill="#00A087"/>
<rect x="539.21" y="200.28" width="2.9" height="1.85" rx="0.7" fill="#3C5488"/>
<rect x="545.92" y="199.68" width="2.9" height="1.85" rx="0.7" fill="#F39B7F"/>
<polygon points="547.37,195.4 547.99,197.05 549.75,197.13 548.37,198.22 548.84,199.92 547.37,198.95 545.9,199.92 546.37,198.22 545,197.13 546.76,197.05" fill="#ff1a1a"/>
<line x1="557.23" y1="221.81" x2="592.13" y2="221.81" stroke="#ebebeb" stroke-width="0.6"/>
<line x1="557.23" y1="215.6" x2="592.13" y2="215.6" stroke="#ebebeb" stroke-width="0.6"/>
<line x1="557.23" y1="209.39" x2="592.13" y2="209.39" stroke="#ebebeb" stroke-width="0.6"/>
<line x1="557.23" y1="203.18" x2="592.13" y2="203.18" stroke="#ebebeb" stroke-width="0.6"/>
<line x1="557.23" y1="224.91" x2="592.13" y2="224.91" stroke="#e2e2e2" stroke-width="0.9"/>
<line x1="557.23" y1="218.7" x2="592.13" y2="218.7" stroke="#e2e2e2" stroke-width="0.9"/>
<line x1="557.23" y1="212.49" x2="592.13" y2="212.49" stroke="#e2e2e2" stroke-width="0.9"/>
<line x1="557.23" y1="206.28" x2="592.13" y2="206.28" stroke="#e2e2e2" stroke-width="0.9"/>
<line x1="557.23" y1="200.07" x2="592.13" y2="200.07" stroke="#e2e2e2" stroke-width="0.9"/>
<line x1="561.26" y1="199.3" x2="561.26" y2="225.5" stroke="#e2e2e2" stroke-width="0.9"/>
<line x1="567.97" y1="199.3" x2="567.97" y2="225.5" stroke="#e2e2e2" stroke-width="0.9"/>
<line x1="574.68" y1="199.3" x2="574.68" y2="225.5" stroke="#e2e2e2" stroke-width="0.9"/>
<line x1="581.39" y1="199.3" x2="581.39" y2="225.5" stroke="#e2e2e2" stroke-width="0.9"/>
<line x1="588.1" y1="199.3" x2="588.1" y2="225.5" stroke="#e2e2e2" stroke-width="0.9"/>
<rect x="559.81" y="218.78" width="2.9" height="1.85" rx="0.7" fill="#E64B35"/>
<rect x="566.52" y="205.48" width="2.9" height="1.85" rx="0.7" fill="#4DBBD5"/>
<rect x="573.23" y="211.58" width="2.9" height="1.85" rx="0.7" fill="#00A087"/>
<rect x="579.94" y="203.68" width="2.9" height="1.85" rx="0.7" fill="#3C5488"/>
<rect x="586.65" y="210.78" width="2.9" height="1.85" rx="0.7" fill="#F39B7F"/>
<polygon points="581.39,199.4 582.01,201.05 583.77,201.13 582.39,202.22 582.86,203.92 581.39,202.95 579.92,203.92 580.39,202.22 579.01,201.13 580.77,201.05" fill="#ff1a1a"/>
<line x1="597.96" y1="221.81" x2="632.86" y2="221.81" stroke="#ebebeb" stroke-width="0.6"/>
<line x1="597.96" y1="215.6" x2="632.86" y2="215.6" stroke="#ebebeb" stroke-width="0.6"/>
<line x1="597.96" y1="209.39" x2="632.86" y2="209.39" stroke="#ebebeb" stroke-width="0.6"/>
<line x1="597.96" y1="203.18" x2="632.86" y2="203.18" stroke="#ebebeb" stroke-width="0.6"/>
<line x1="597.96" y1="224.91" x2="632.86" y2="224.91" stroke="#e2e2e2" stroke-width="0.9"/>
<line x1="597.96" y1="218.7" x2="632.86" y2="218.7" stroke="#e2e2e2" stroke-width="0.9"/>
<line x1="597.96" y1="212.49" x2="632.86" y2="212.49" stroke="#e2e2e2" stroke-width="0.9"/>
<line x1="597.96" y1="206.28" x2="632.86" y2="206.28" stroke="#e2e2e2" stroke-width="0.9"/>
<line x1="597.96" y1="200.07" x2="632.86" y2="200.07" stroke="#e2e2e2" stroke-width="0.9"/>
<line x1="601.99" y1="199.3" x2="601.99" y2="225.5" stroke="#e2e2e2" stroke-width="0.9"/>
<line x1="608.7" y1="199.3" x2="608.7" y2="225.5" stroke="#e2e2e2" stroke-width="0.9"/>
<line x1="615.41" y1="199.3" x2="615.41" y2="225.5" stroke="#e2e2e2" stroke-width="0.9"/>
<line x1="622.12" y1="199.3" x2="622.12" y2="225.5" stroke="#e2e2e2" stroke-width="0.9"/>
<line x1="628.83" y1="199.3" x2="628.83" y2="225.5" stroke="#e2e2e2" stroke-width="0.9"/>
<rect x="600.54" y="217.48" width="2.9" height="1.85" rx="0.7" fill="#E64B35"/>
<rect x="607.25" y="218.38" width="2.9" height="1.85" rx="0.7" fill="#4DBBD5"/>
<rect x="613.96" y="216.78" width="2.9" height="1.85" rx="0.7" fill="#00A087"/>
<rect x="620.67" y="216.68" width="2.9" height="1.85" rx="0.7" fill="#3C5488"/>
<rect x="627.38" y="216.38" width="2.9" height="1.85" rx="0.7" fill="#F39B7F"/>
<polygon points="622.12,212.4 622.74,214.05 624.5,214.13 623.12,215.22 623.59,216.92 622.12,215.95 620.65,216.92 621.12,215.22 619.74,214.13 621.5,214.05" fill="#ff1a1a"/>
<polygon points="628.83,212.1 629.45,213.75 631.21,213.83 629.83,214.92 630.3,216.62 628.83,215.65 627.36,216.62 627.83,214.92 626.46,213.83 628.22,213.75" fill="#ff1a1a"/>
<line x1="638.69" y1="221.81" x2="673.59" y2="221.81" stroke="#ebebeb" stroke-width="0.6"/>
<line x1="638.69" y1="215.6" x2="673.59" y2="215.6" stroke="#ebebeb" stroke-width="0.6"/>
<line x1="638.69" y1="209.39" x2="673.59" y2="209.39" stroke="#ebebeb" stroke-width="0.6"/>
<line x1="638.69" y1="203.18" x2="673.59" y2="203.18" stroke="#ebebeb" stroke-width="0.6"/>
<line x1="638.69" y1="224.91" x2="673.59" y2="224.91" stroke="#e2e2e2" stroke-width="0.9"/>
<line x1="638.69" y1="218.7" x2="673.59" y2="218.7" stroke="#e2e2e2" stroke-width="0.9"/>
<line x1="638.69" y1="212.49" x2="673.59" y2="212.49" stroke="#e2e2e2" stroke-width="0.9"/>
<line x1="638.69" y1="206.28" x2="673.59" y2="206.28" stroke="#e2e2e2" stroke-width="0.9"/>
<line x1="638.69" y1="200.07" x2="673.59" y2="200.07" stroke="#e2e2e2" stroke-width="0.9"/>
<line x1="642.72" y1="199.3" x2="642.72" y2="225.5" stroke="#e2e2e2" stroke-width="0.9"/>
<line x1="649.43" y1="199.3" x2="649.43" y2="225.5" stroke="#e2e2e2" stroke-width="0.9"/>
<line x1="656.14" y1="199.3" x2="656.14" y2="225.5" stroke="#e2e2e2" stroke-width="0.9"/>
<line x1="662.85" y1="199.3" x2="662.85" y2="225.5" stroke="#e2e2e2" stroke-width="0.9"/>
<line x1="669.56" y1="199.3" x2="669.56" y2="225.5" stroke="#e2e2e2" stroke-width="0.9"/>
<rect x="641.27" y="217.98" width="2.9" height="1.85" rx="0.7" fill="#E64B35"/>
<rect x="647.98" y="212.18" width="2.9" height="1.85" rx="0.7" fill="#4DBBD5"/>
<rect x="654.69" y="212.88" width="2.9" height="1.85" rx="0.7" fill="#00A087"/>
<rect x="661.4" y="212.88" width="2.9" height="1.85" rx="0.7" fill="#3C5488"/>
<rect x="668.11" y="213.18" width="2.9" height="1.85" rx="0.7" fill="#F39B7F"/>
<polygon points="649.43,207.9 650.05,209.55 651.81,209.63 650.43,210.72 650.9,212.42 649.43,211.45 647.96,212.42 648.43,210.72 647.05,209.63 648.81,209.55" fill="#ff1a1a"/>
<text transform="translate(678.79,245) rotate(90)" font-size="7.6" text-anchor="middle" fill="#1a1a1a" stroke="#1a1a1a">O'Neil</text>
<text x="511" y="235.27" font-size="7.5" text-anchor="end" fill="#333333" stroke="#333333">0.9</text>
<text x="511" y="241.48" font-size="7.5" text-anchor="end" fill="#333333" stroke="#333333">0.6</text>
<text x="511" y="247.69" font-size="7.5" text-anchor="end" fill="#333333" stroke="#333333">0.3</text>
<text x="511" y="253.9" font-size="7.5" text-anchor="end" fill="#333333" stroke="#333333">0.0</text>
<text x="511" y="260.11" font-size="7.5" text-anchor="end" fill="#333333" stroke="#333333">−0.3</text>
<line x1="516.5" y1="254.41" x2="551.4" y2="254.41" stroke="#ebebeb" stroke-width="0.6"/>
<line x1="516.5" y1="248.2" x2="551.4" y2="248.2" stroke="#ebebeb" stroke-width="0.6"/>
<line x1="516.5" y1="241.99" x2="551.4" y2="241.99" stroke="#ebebeb" stroke-width="0.6"/>
<line x1="516.5" y1="235.78" x2="551.4" y2="235.78" stroke="#ebebeb" stroke-width="0.6"/>
<line x1="516.5" y1="257.51" x2="551.4" y2="257.51" stroke="#e2e2e2" stroke-width="0.9"/>
<line x1="516.5" y1="251.3" x2="551.4" y2="251.3" stroke="#e2e2e2" stroke-width="0.9"/>
<line x1="516.5" y1="245.09" x2="551.4" y2="245.09" stroke="#e2e2e2" stroke-width="0.9"/>
<line x1="516.5" y1="238.88" x2="551.4" y2="238.88" stroke="#e2e2e2" stroke-width="0.9"/>
<line x1="516.5" y1="232.67" x2="551.4" y2="232.67" stroke="#e2e2e2" stroke-width="0.9"/>
<line x1="520.53" y1="231.9" x2="520.53" y2="258.1" stroke="#e2e2e2" stroke-width="0.9"/>
<line x1="527.24" y1="231.9" x2="527.24" y2="258.1" stroke="#e2e2e2" stroke-width="0.9"/>
<line x1="533.95" y1="231.9" x2="533.95" y2="258.1" stroke="#e2e2e2" stroke-width="0.9"/>
<line x1="540.66" y1="231.9" x2="540.66" y2="258.1" stroke="#e2e2e2" stroke-width="0.9"/>
<line x1="547.37" y1="231.9" x2="547.37" y2="258.1" stroke="#e2e2e2" stroke-width="0.9"/>
<rect x="519.08" y="240.48" width="2.9" height="1.85" rx="0.7" fill="#E64B35"/>
<rect x="525.79" y="235.08" width="2.9" height="1.85" rx="0.7" fill="#4DBBD5"/>
<rect x="532.5" y="235.08" width="2.9" height="1.85" rx="0.7" fill="#00A087"/>
<rect x="539.21" y="234.58" width="2.9" height="1.85" rx="0.7" fill="#3C5488"/>
<rect x="545.92" y="234.18" width="2.9" height="1.85" rx="0.7" fill="#F39B7F"/>
<polygon points="547.37,229.9 547.99,231.55 549.75,231.63 548.37,232.72 548.84,234.42 547.37,233.45 545.9,234.42 546.37,232.72 545,231.63 546.76,231.55" fill="#ff1a1a"/>
<line x1="557.23" y1="254.41" x2="592.13" y2="254.41" stroke="#ebebeb" stroke-width="0.6"/>
<line x1="557.23" y1="248.2" x2="592.13" y2="248.2" stroke="#ebebeb" stroke-width="0.6"/>
<line x1="557.23" y1="241.99" x2="592.13" y2="241.99" stroke="#ebebeb" stroke-width="0.6"/>
<line x1="557.23" y1="235.78" x2="592.13" y2="235.78" stroke="#ebebeb" stroke-width="0.6"/>
<line x1="557.23" y1="257.51" x2="592.13" y2="257.51" stroke="#e2e2e2" stroke-width="0.9"/>
<line x1="557.23" y1="251.3" x2="592.13" y2="251.3" stroke="#e2e2e2" stroke-width="0.9"/>
<line x1="557.23" y1="245.09" x2="592.13" y2="245.09" stroke="#e2e2e2" stroke-width="0.9"/>
<line x1="557.23" y1="238.88" x2="592.13" y2="238.88" stroke="#e2e2e2" stroke-width="0.9"/>
<line x1="557.23" y1="232.67" x2="592.13" y2="232.67" stroke="#e2e2e2" stroke-width="0.9"/>
<line x1="561.26" y1="231.9" x2="561.26" y2="258.1" stroke="#e2e2e2" stroke-width="0.9"/>
<line x1="567.97" y1="231.9" x2="567.97" y2="258.1" stroke="#e2e2e2" stroke-width="0.9"/>
<line x1="574.68" y1="231.9" x2="574.68" y2="258.1" stroke="#e2e2e2" stroke-width="0.9"/>
<line x1="581.39" y1="231.9" x2="581.39" y2="258.1" stroke="#e2e2e2" stroke-width="0.9"/>
<line x1="588.1" y1="231.9" x2="588.1" y2="258.1" stroke="#e2e2e2" stroke-width="0.9"/>
<rect x="559.81" y="232.48" width="2.9" height="1.85" rx="0.7" fill="#E64B35"/>
<rect x="566.52" y="232.88" width="2.9" height="1.85" rx="0.7" fill="#4DBBD5"/>
<rect x="573.23" y="232.18" width="2.9" height="1.85" rx="0.7" fill="#00A087"/>
<rect x="579.94" y="232.48" width="2.9" height="1.85" rx="0.7" fill="#3C5488"/>
<rect x="586.65" y="232.48" width="2.9" height="1.85" rx="0.7" fill="#F39B7F"/>
<polygon points="574.68,227.9 575.3,229.55 577.06,229.63 575.68,230.72 576.15,232.42 574.68,231.45 573.21,232.42 573.68,230.72 572.3,229.63 574.06,229.55" fill="#ff1a1a"/>
<line x1="597.96" y1="254.41" x2="632.86" y2="254.41" stroke="#ebebeb" stroke-width="0.6"/>
<line x1="597.96" y1="248.2" x2="632.86" y2="248.2" stroke="#ebebeb" stroke-width="0.6"/>
<line x1="597.96" y1="241.99" x2="632.86" y2="241.99" stroke="#ebebeb" stroke-width="0.6"/>
<line x1="597.96" y1="235.78" x2="632.86" y2="235.78" stroke="#ebebeb" stroke-width="0.6"/>
<line x1="597.96" y1="257.51" x2="632.86" y2="257.51" stroke="#e2e2e2" stroke-width="0.9"/>
<line x1="597.96" y1="251.3" x2="632.86" y2="251.3" stroke="#e2e2e2" stroke-width="0.9"/>
<line x1="597.96" y1="245.09" x2="632.86" y2="245.09" stroke="#e2e2e2" stroke-width="0.9"/>
<line x1="597.96" y1="238.88" x2="632.86" y2="238.88" stroke="#e2e2e2" stroke-width="0.9"/>
<line x1="597.96" y1="232.67" x2="632.86" y2="232.67" stroke="#e2e2e2" stroke-width="0.9"/>
<line x1="601.99" y1="231.9" x2="601.99" y2="258.1" stroke="#e2e2e2" stroke-width="0.9"/>
<line x1="608.7" y1="231.9" x2="608.7" y2="258.1" stroke="#e2e2e2" stroke-width="0.9"/>
<line x1="615.41" y1="231.9" x2="615.41" y2="258.1" stroke="#e2e2e2" stroke-width="0.9"/>
<line x1="622.12" y1="231.9" x2="622.12" y2="258.1" stroke="#e2e2e2" stroke-width="0.9"/>
<line x1="628.83" y1="231.9" x2="628.83" y2="258.1" stroke="#e2e2e2" stroke-width="0.9"/>
<rect x="600.54" y="248.98" width="2.9" height="1.85" rx="0.7" fill="#E64B35"/>
<rect x="607.25" y="251.88" width="2.9" height="1.85" rx="0.7" fill="#4DBBD5"/>
<rect x="613.96" y="244.98" width="2.9" height="1.85" rx="0.7" fill="#00A087"/>
<rect x="620.67" y="245.28" width="2.9" height="1.85" rx="0.7" fill="#3C5488"/>
<rect x="627.38" y="245.28" width="2.9" height="1.85" rx="0.7" fill="#F39B7F"/>
<polygon points="615.41,240.7 616.03,242.35 617.79,242.43 616.41,243.52 616.88,245.22 615.41,244.25 613.94,245.22 614.41,243.52 613.03,242.43 614.79,242.35" fill="#ff1a1a"/>
<line x1="638.69" y1="254.41" x2="673.59" y2="254.41" stroke="#ebebeb" stroke-width="0.6"/>
<line x1="638.69" y1="248.2" x2="673.59" y2="248.2" stroke="#ebebeb" stroke-width="0.6"/>
<line x1="638.69" y1="241.99" x2="673.59" y2="241.99" stroke="#ebebeb" stroke-width="0.6"/>
<line x1="638.69" y1="235.78" x2="673.59" y2="235.78" stroke="#ebebeb" stroke-width="0.6"/>
<line x1="638.69" y1="257.51" x2="673.59" y2="257.51" stroke="#e2e2e2" stroke-width="0.9"/>
<line x1="638.69" y1="251.3" x2="673.59" y2="251.3" stroke="#e2e2e2" stroke-width="0.9"/>
<line x1="638.69" y1="245.09" x2="673.59" y2="245.09" stroke="#e2e2e2" stroke-width="0.9"/>
<line x1="638.69" y1="238.88" x2="673.59" y2="238.88" stroke="#e2e2e2" stroke-width="0.9"/>
<line x1="638.69" y1="232.67" x2="673.59" y2="232.67" stroke="#e2e2e2" stroke-width="0.9"/>
<line x1="642.72" y1="231.9" x2="642.72" y2="258.1" stroke="#e2e2e2" stroke-width="0.9"/>
<line x1="649.43" y1="231.9" x2="649.43" y2="258.1" stroke="#e2e2e2" stroke-width="0.9"/>
<line x1="656.14" y1="231.9" x2="656.14" y2="258.1" stroke="#e2e2e2" stroke-width="0.9"/>
<line x1="662.85" y1="231.9" x2="662.85" y2="258.1" stroke="#e2e2e2" stroke-width="0.9"/>
<line x1="669.56" y1="231.9" x2="669.56" y2="258.1" stroke="#e2e2e2" stroke-width="0.9"/>
<rect x="641.27" y="242.48" width="2.9" height="1.85" rx="0.7" fill="#E64B35"/>
<rect x="647.98" y="238.48" width="2.9" height="1.85" rx="0.7" fill="#4DBBD5"/>
<rect x="654.69" y="239.18" width="2.9" height="1.85" rx="0.7" fill="#00A087"/>
<rect x="661.4" y="238.98" width="2.9" height="1.85" rx="0.7" fill="#3C5488"/>
<rect x="668.11" y="239.38" width="2.9" height="1.85" rx="0.7" fill="#F39B7F"/>
<polygon points="649.43,234.2 650.05,235.85 651.81,235.93 650.43,237.02 650.9,238.72 649.43,237.75 647.96,238.72 648.43,237.02 647.05,235.93 648.81,235.85" fill="#ff1a1a"/>
<text transform="translate(678.79,277.6) rotate(90)" font-size="7.6" text-anchor="middle" fill="#1a1a1a" stroke="#1a1a1a">FORCINA</text>
<text x="511" y="267.87" font-size="7.5" text-anchor="end" fill="#333333" stroke="#333333">0.9</text>
<text x="511" y="274.08" font-size="7.5" text-anchor="end" fill="#333333" stroke="#333333">0.6</text>
<text x="511" y="280.29" font-size="7.5" text-anchor="end" fill="#333333" stroke="#333333">0.3</text>
<text x="511" y="286.5" font-size="7.5" text-anchor="end" fill="#333333" stroke="#333333">0.0</text>
<text x="511" y="292.71" font-size="7.5" text-anchor="end" fill="#333333" stroke="#333333">−0.3</text>
<line x1="516.5" y1="287" x2="551.4" y2="287" stroke="#ebebeb" stroke-width="0.6"/>
<line x1="516.5" y1="280.79" x2="551.4" y2="280.79" stroke="#ebebeb" stroke-width="0.6"/>
<line x1="516.5" y1="274.58" x2="551.4" y2="274.58" stroke="#ebebeb" stroke-width="0.6"/>
<line x1="516.5" y1="268.38" x2="551.4" y2="268.38" stroke="#ebebeb" stroke-width="0.6"/>
<line x1="516.5" y1="290.11" x2="551.4" y2="290.11" stroke="#e2e2e2" stroke-width="0.9"/>
<line x1="516.5" y1="283.9" x2="551.4" y2="283.9" stroke="#e2e2e2" stroke-width="0.9"/>
<line x1="516.5" y1="277.69" x2="551.4" y2="277.69" stroke="#e2e2e2" stroke-width="0.9"/>
<line x1="516.5" y1="271.48" x2="551.4" y2="271.48" stroke="#e2e2e2" stroke-width="0.9"/>
<line x1="516.5" y1="265.27" x2="551.4" y2="265.27" stroke="#e2e2e2" stroke-width="0.9"/>
<line x1="520.53" y1="264.5" x2="520.53" y2="290.7" stroke="#e2e2e2" stroke-width="0.9"/>
<line x1="527.24" y1="264.5" x2="527.24" y2="290.7" stroke="#e2e2e2" stroke-width="0.9"/>
<line x1="533.95" y1="264.5" x2="533.95" y2="290.7" stroke="#e2e2e2" stroke-width="0.9"/>
<line x1="540.66" y1="264.5" x2="540.66" y2="290.7" stroke="#e2e2e2" stroke-width="0.9"/>
<line x1="547.37" y1="264.5" x2="547.37" y2="290.7" stroke="#e2e2e2" stroke-width="0.9"/>
<rect x="519.08" y="282.48" width="2.9" height="1.85" rx="0.7" fill="#E64B35"/>
<rect x="525.79" y="279.48" width="2.9" height="1.85" rx="0.7" fill="#4DBBD5"/>
<rect x="532.5" y="279.68" width="2.9" height="1.85" rx="0.7" fill="#00A087"/>
<rect x="539.21" y="280.38" width="2.9" height="1.85" rx="0.7" fill="#3C5488"/>
<rect x="545.92" y="280.48" width="2.9" height="1.85" rx="0.7" fill="#F39B7F"/>
<polygon points="527.24,275.2 527.86,276.85 529.62,276.93 528.24,278.02 528.71,279.72 527.24,278.75 525.77,279.72 526.24,278.02 524.86,276.93 526.62,276.85" fill="#ff1a1a"/>
<line x1="557.23" y1="287" x2="592.13" y2="287" stroke="#ebebeb" stroke-width="0.6"/>
<line x1="557.23" y1="280.79" x2="592.13" y2="280.79" stroke="#ebebeb" stroke-width="0.6"/>
<line x1="557.23" y1="274.58" x2="592.13" y2="274.58" stroke="#ebebeb" stroke-width="0.6"/>
<line x1="557.23" y1="268.38" x2="592.13" y2="268.38" stroke="#ebebeb" stroke-width="0.6"/>
<line x1="557.23" y1="290.11" x2="592.13" y2="290.11" stroke="#e2e2e2" stroke-width="0.9"/>
<line x1="557.23" y1="283.9" x2="592.13" y2="283.9" stroke="#e2e2e2" stroke-width="0.9"/>
<line x1="557.23" y1="277.69" x2="592.13" y2="277.69" stroke="#e2e2e2" stroke-width="0.9"/>
<line x1="557.23" y1="271.48" x2="592.13" y2="271.48" stroke="#e2e2e2" stroke-width="0.9"/>
<line x1="557.23" y1="265.27" x2="592.13" y2="265.27" stroke="#e2e2e2" stroke-width="0.9"/>
<line x1="561.26" y1="264.5" x2="561.26" y2="290.7" stroke="#e2e2e2" stroke-width="0.9"/>
<line x1="567.97" y1="264.5" x2="567.97" y2="290.7" stroke="#e2e2e2" stroke-width="0.9"/>
<line x1="574.68" y1="264.5" x2="574.68" y2="290.7" stroke="#e2e2e2" stroke-width="0.9"/>
<line x1="581.39" y1="264.5" x2="581.39" y2="290.7" stroke="#e2e2e2" stroke-width="0.9"/>
<line x1="588.1" y1="264.5" x2="588.1" y2="290.7" stroke="#e2e2e2" stroke-width="0.9"/>
<rect x="559.81" y="285.08" width="2.9" height="1.85" rx="0.7" fill="#E64B35"/>
<rect x="566.52" y="279.48" width="2.9" height="1.85" rx="0.7" fill="#4DBBD5"/>
<rect x="573.23" y="280.38" width="2.9" height="1.85" rx="0.7" fill="#00A087"/>
<rect x="579.94" y="279.18" width="2.9" height="1.85" rx="0.7" fill="#3C5488"/>
<rect x="586.65" y="280.38" width="2.9" height="1.85" rx="0.7" fill="#F39B7F"/>
<polygon points="581.39,274.9 582.01,276.55 583.77,276.63 582.39,277.72 582.86,279.42 581.39,278.45 579.92,279.42 580.39,277.72 579.01,276.63 580.77,276.55" fill="#ff1a1a"/>
<line x1="597.96" y1="287" x2="632.86" y2="287" stroke="#ebebeb" stroke-width="0.6"/>
<line x1="597.96" y1="280.79" x2="632.86" y2="280.79" stroke="#ebebeb" stroke-width="0.6"/>
<line x1="597.96" y1="274.58" x2="632.86" y2="274.58" stroke="#ebebeb" stroke-width="0.6"/>
<line x1="597.96" y1="268.38" x2="632.86" y2="268.38" stroke="#ebebeb" stroke-width="0.6"/>
<line x1="597.96" y1="290.11" x2="632.86" y2="290.11" stroke="#e2e2e2" stroke-width="0.9"/>
<line x1="597.96" y1="283.9" x2="632.86" y2="283.9" stroke="#e2e2e2" stroke-width="0.9"/>
<line x1="597.96" y1="277.69" x2="632.86" y2="277.69" stroke="#e2e2e2" stroke-width="0.9"/>
<line x1="597.96" y1="271.48" x2="632.86" y2="271.48" stroke="#e2e2e2" stroke-width="0.9"/>
<line x1="597.96" y1="265.27" x2="632.86" y2="265.27" stroke="#e2e2e2" stroke-width="0.9"/>
<line x1="601.99" y1="264.5" x2="601.99" y2="290.7" stroke="#e2e2e2" stroke-width="0.9"/>
<line x1="608.7" y1="264.5" x2="608.7" y2="290.7" stroke="#e2e2e2" stroke-width="0.9"/>
<line x1="615.41" y1="264.5" x2="615.41" y2="290.7" stroke="#e2e2e2" stroke-width="0.9"/>
<line x1="622.12" y1="264.5" x2="622.12" y2="290.7" stroke="#e2e2e2" stroke-width="0.9"/>
<line x1="628.83" y1="264.5" x2="628.83" y2="290.7" stroke="#e2e2e2" stroke-width="0.9"/>
<rect x="600.54" y="278.78" width="2.9" height="1.85" rx="0.7" fill="#E64B35"/>
<rect x="607.25" y="279.08" width="2.9" height="1.85" rx="0.7" fill="#4DBBD5"/>
<rect x="613.96" y="279.08" width="2.9" height="1.85" rx="0.7" fill="#00A087"/>
<rect x="620.67" y="279.08" width="2.9" height="1.85" rx="0.7" fill="#3C5488"/>
<rect x="627.38" y="279.08" width="2.9" height="1.85" rx="0.7" fill="#F39B7F"/>
<polygon points="601.99,274.5 602.6,276.15 604.36,276.23 602.99,277.32 603.46,279.02 601.99,278.05 600.52,279.02 600.99,277.32 599.61,276.23 601.37,276.15" fill="#ff1a1a"/>
<line x1="638.69" y1="287" x2="673.59" y2="287" stroke="#ebebeb" stroke-width="0.6"/>
<line x1="638.69" y1="280.79" x2="673.59" y2="280.79" stroke="#ebebeb" stroke-width="0.6"/>
<line x1="638.69" y1="274.58" x2="673.59" y2="274.58" stroke="#ebebeb" stroke-width="0.6"/>
<line x1="638.69" y1="268.38" x2="673.59" y2="268.38" stroke="#ebebeb" stroke-width="0.6"/>
<line x1="638.69" y1="290.11" x2="673.59" y2="290.11" stroke="#e2e2e2" stroke-width="0.9"/>
<line x1="638.69" y1="283.9" x2="673.59" y2="283.9" stroke="#e2e2e2" stroke-width="0.9"/>
<line x1="638.69" y1="277.69" x2="673.59" y2="277.69" stroke="#e2e2e2" stroke-width="0.9"/>
<line x1="638.69" y1="271.48" x2="673.59" y2="271.48" stroke="#e2e2e2" stroke-width="0.9"/>
<line x1="638.69" y1="265.27" x2="673.59" y2="265.27" stroke="#e2e2e2" stroke-width="0.9"/>
<line x1="642.72" y1="264.5" x2="642.72" y2="290.7" stroke="#e2e2e2" stroke-width="0.9"/>
<line x1="649.43" y1="264.5" x2="649.43" y2="290.7" stroke="#e2e2e2" stroke-width="0.9"/>
<line x1="656.14" y1="264.5" x2="656.14" y2="290.7" stroke="#e2e2e2" stroke-width="0.9"/>
<line x1="662.85" y1="264.5" x2="662.85" y2="290.7" stroke="#e2e2e2" stroke-width="0.9"/>
<line x1="669.56" y1="264.5" x2="669.56" y2="290.7" stroke="#e2e2e2" stroke-width="0.9"/>
<rect x="641.27" y="280.78" width="2.9" height="1.85" rx="0.7" fill="#E64B35"/>
<rect x="647.98" y="279.68" width="2.9" height="1.85" rx="0.7" fill="#4DBBD5"/>
<rect x="654.69" y="279.88" width="2.9" height="1.85" rx="0.7" fill="#00A087"/>
<rect x="661.4" y="280.08" width="2.9" height="1.85" rx="0.7" fill="#3C5488"/>
<rect x="668.11" y="280.08" width="2.9" height="1.85" rx="0.7" fill="#F39B7F"/>
<polygon points="649.43,275.4 650.05,277.05 651.81,277.13 650.43,278.22 650.9,279.92 649.43,278.95 647.96,279.92 648.43,278.22 647.05,277.13 648.81,277.05" fill="#ff1a1a"/>
<text transform="translate(678.79,311.6) rotate(90)" font-size="7.6" text-anchor="middle" fill="#1a1a1a" stroke="#1a1a1a">Mathews</text>
<text x="511" y="300.37" font-size="7.5" text-anchor="end" fill="#333333" stroke="#333333">0.9</text>
<text x="511" y="306.58" font-size="7.5" text-anchor="end" fill="#333333" stroke="#333333">0.6</text>
<text x="511" y="312.79" font-size="7.5" text-anchor="end" fill="#333333" stroke="#333333">0.3</text>
<text x="511" y="319" font-size="7.5" text-anchor="end" fill="#333333" stroke="#333333">0.0</text>
<text x="511" y="325.21" font-size="7.5" text-anchor="end" fill="#333333" stroke="#333333">−0.3</text>
<line x1="516.5" y1="319.5" x2="551.4" y2="319.5" stroke="#ebebeb" stroke-width="0.6"/>
<line x1="516.5" y1="313.29" x2="551.4" y2="313.29" stroke="#ebebeb" stroke-width="0.6"/>
<line x1="516.5" y1="307.08" x2="551.4" y2="307.08" stroke="#ebebeb" stroke-width="0.6"/>
<line x1="516.5" y1="300.88" x2="551.4" y2="300.88" stroke="#ebebeb" stroke-width="0.6"/>
<line x1="516.5" y1="322.61" x2="551.4" y2="322.61" stroke="#e2e2e2" stroke-width="0.9"/>
<line x1="516.5" y1="316.4" x2="551.4" y2="316.4" stroke="#e2e2e2" stroke-width="0.9"/>
<line x1="516.5" y1="310.19" x2="551.4" y2="310.19" stroke="#e2e2e2" stroke-width="0.9"/>
<line x1="516.5" y1="303.98" x2="551.4" y2="303.98" stroke="#e2e2e2" stroke-width="0.9"/>
<line x1="516.5" y1="297.77" x2="551.4" y2="297.77" stroke="#e2e2e2" stroke-width="0.9"/>
<line x1="520.53" y1="297" x2="520.53" y2="323.2" stroke="#e2e2e2" stroke-width="0.9"/>
<line x1="527.24" y1="297" x2="527.24" y2="323.2" stroke="#e2e2e2" stroke-width="0.9"/>
<line x1="533.95" y1="297" x2="533.95" y2="323.2" stroke="#e2e2e2" stroke-width="0.9"/>
<line x1="540.66" y1="297" x2="540.66" y2="323.2" stroke="#e2e2e2" stroke-width="0.9"/>
<line x1="547.37" y1="297" x2="547.37" y2="323.2" stroke="#e2e2e2" stroke-width="0.9"/>
<rect x="519.08" y="305.08" width="2.9" height="1.85" rx="0.7" fill="#E64B35"/>
<rect x="525.79" y="301.38" width="2.9" height="1.85" rx="0.7" fill="#4DBBD5"/>
<rect x="532.5" y="302.68" width="2.9" height="1.85" rx="0.7" fill="#00A087"/>
<rect x="539.21" y="300.88" width="2.9" height="1.85" rx="0.7" fill="#3C5488"/>
<rect x="545.92" y="303.08" width="2.9" height="1.85" rx="0.7" fill="#F39B7F"/>
<polygon points="540.66,296.6 541.28,298.25 543.04,298.33 541.66,299.42 542.13,301.12 540.66,300.15 539.19,301.12 539.66,299.42 538.28,298.33 540.04,298.25" fill="#ff1a1a"/>
<line x1="557.23" y1="319.5" x2="592.13" y2="319.5" stroke="#ebebeb" stroke-width="0.6"/>
<line x1="557.23" y1="313.29" x2="592.13" y2="313.29" stroke="#ebebeb" stroke-width="0.6"/>
<line x1="557.23" y1="307.08" x2="592.13" y2="307.08" stroke="#ebebeb" stroke-width="0.6"/>
<line x1="557.23" y1="300.88" x2="592.13" y2="300.88" stroke="#ebebeb" stroke-width="0.6"/>
<line x1="557.23" y1="322.61" x2="592.13" y2="322.61" stroke="#e2e2e2" stroke-width="0.9"/>
<line x1="557.23" y1="316.4" x2="592.13" y2="316.4" stroke="#e2e2e2" stroke-width="0.9"/>
<line x1="557.23" y1="310.19" x2="592.13" y2="310.19" stroke="#e2e2e2" stroke-width="0.9"/>
<line x1="557.23" y1="303.98" x2="592.13" y2="303.98" stroke="#e2e2e2" stroke-width="0.9"/>
<line x1="557.23" y1="297.77" x2="592.13" y2="297.77" stroke="#e2e2e2" stroke-width="0.9"/>
<line x1="561.26" y1="297" x2="561.26" y2="323.2" stroke="#e2e2e2" stroke-width="0.9"/>
<line x1="567.97" y1="297" x2="567.97" y2="323.2" stroke="#e2e2e2" stroke-width="0.9"/>
<line x1="574.68" y1="297" x2="574.68" y2="323.2" stroke="#e2e2e2" stroke-width="0.9"/>
<line x1="581.39" y1="297" x2="581.39" y2="323.2" stroke="#e2e2e2" stroke-width="0.9"/>
<line x1="588.1" y1="297" x2="588.1" y2="323.2" stroke="#e2e2e2" stroke-width="0.9"/>
<rect x="559.81" y="305.38" width="2.9" height="1.85" rx="0.7" fill="#E64B35"/>
<rect x="566.52" y="304.38" width="2.9" height="1.85" rx="0.7" fill="#4DBBD5"/>
<rect x="573.23" y="307.08" width="2.9" height="1.85" rx="0.7" fill="#00A087"/>
<rect x="579.94" y="304.78" width="2.9" height="1.85" rx="0.7" fill="#3C5488"/>
<rect x="586.65" y="305.68" width="2.9" height="1.85" rx="0.7" fill="#F39B7F"/>
<polygon points="567.97,300.1 568.59,301.75 570.35,301.83 568.97,302.92 569.44,304.62 567.97,303.65 566.5,304.62 566.97,302.92 565.59,301.83 567.35,301.75" fill="#ff1a1a"/>
<line x1="597.96" y1="319.5" x2="632.86" y2="319.5" stroke="#ebebeb" stroke-width="0.6"/>
<line x1="597.96" y1="313.29" x2="632.86" y2="313.29" stroke="#ebebeb" stroke-width="0.6"/>
<line x1="597.96" y1="307.08" x2="632.86" y2="307.08" stroke="#ebebeb" stroke-width="0.6"/>
<line x1="597.96" y1="300.88" x2="632.86" y2="300.88" stroke="#ebebeb" stroke-width="0.6"/>
<line x1="597.96" y1="322.61" x2="632.86" y2="322.61" stroke="#e2e2e2" stroke-width="0.9"/>
<line x1="597.96" y1="316.4" x2="632.86" y2="316.4" stroke="#e2e2e2" stroke-width="0.9"/>
<line x1="597.96" y1="310.19" x2="632.86" y2="310.19" stroke="#e2e2e2" stroke-width="0.9"/>
<line x1="597.96" y1="303.98" x2="632.86" y2="303.98" stroke="#e2e2e2" stroke-width="0.9"/>
<line x1="597.96" y1="297.77" x2="632.86" y2="297.77" stroke="#e2e2e2" stroke-width="0.9"/>
<line x1="601.99" y1="297" x2="601.99" y2="323.2" stroke="#e2e2e2" stroke-width="0.9"/>
<line x1="608.7" y1="297" x2="608.7" y2="323.2" stroke="#e2e2e2" stroke-width="0.9"/>
<line x1="615.41" y1="297" x2="615.41" y2="323.2" stroke="#e2e2e2" stroke-width="0.9"/>
<line x1="622.12" y1="297" x2="622.12" y2="323.2" stroke="#e2e2e2" stroke-width="0.9"/>
<line x1="628.83" y1="297" x2="628.83" y2="323.2" stroke="#e2e2e2" stroke-width="0.9"/>
<rect x="600.54" y="315.58" width="2.9" height="1.85" rx="0.7" fill="#E64B35"/>
<rect x="607.25" y="319.88" width="2.9" height="1.85" rx="0.7" fill="#4DBBD5"/>
<rect x="613.96" y="308.78" width="2.9" height="1.85" rx="0.7" fill="#00A087"/>
<rect x="620.67" y="309.68" width="2.9" height="1.85" rx="0.7" fill="#3C5488"/>
<rect x="627.38" y="309.68" width="2.9" height="1.85" rx="0.7" fill="#F39B7F"/>
<polygon points="615.41,304.5 616.03,306.15 617.79,306.23 616.41,307.32 616.88,309.02 615.41,308.05 613.94,309.02 614.41,307.32 613.03,306.23 614.79,306.15" fill="#ff1a1a"/>
<line x1="638.69" y1="319.5" x2="673.59" y2="319.5" stroke="#ebebeb" stroke-width="0.6"/>
<line x1="638.69" y1="313.29" x2="673.59" y2="313.29" stroke="#ebebeb" stroke-width="0.6"/>
<line x1="638.69" y1="307.08" x2="673.59" y2="307.08" stroke="#ebebeb" stroke-width="0.6"/>
<line x1="638.69" y1="300.88" x2="673.59" y2="300.88" stroke="#ebebeb" stroke-width="0.6"/>
<line x1="638.69" y1="322.61" x2="673.59" y2="322.61" stroke="#e2e2e2" stroke-width="0.9"/>
<line x1="638.69" y1="316.4" x2="673.59" y2="316.4" stroke="#e2e2e2" stroke-width="0.9"/>
<line x1="638.69" y1="310.19" x2="673.59" y2="310.19" stroke="#e2e2e2" stroke-width="0.9"/>
<line x1="638.69" y1="303.98" x2="673.59" y2="303.98" stroke="#e2e2e2" stroke-width="0.9"/>
<line x1="638.69" y1="297.77" x2="673.59" y2="297.77" stroke="#e2e2e2" stroke-width="0.9"/>
<line x1="642.72" y1="297" x2="642.72" y2="323.2" stroke="#e2e2e2" stroke-width="0.9"/>
<line x1="649.43" y1="297" x2="649.43" y2="323.2" stroke="#e2e2e2" stroke-width="0.9"/>
<line x1="656.14" y1="297" x2="656.14" y2="323.2" stroke="#e2e2e2" stroke-width="0.9"/>
<line x1="662.85" y1="297" x2="662.85" y2="323.2" stroke="#e2e2e2" stroke-width="0.9"/>
<line x1="669.56" y1="297" x2="669.56" y2="323.2" stroke="#e2e2e2" stroke-width="0.9"/>
<rect x="641.27" y="297.18" width="2.9" height="1.85" rx="0.7" fill="#E64B35"/>
<rect x="647.98" y="297.18" width="2.9" height="1.85" rx="0.7" fill="#4DBBD5"/>
<rect x="654.69" y="297.18" width="2.9" height="1.85" rx="0.7" fill="#00A087"/>
<rect x="661.4" y="297.18" width="2.9" height="1.85" rx="0.7" fill="#3C5488"/>
<rect x="668.11" y="296.88" width="2.9" height="1.85" rx="0.7" fill="#F39B7F"/>
<polygon points="669.56,292.6 670.18,294.25 671.94,294.33 670.56,295.42 671.03,297.12 669.56,296.15 668.09,297.12 668.56,295.42 667.19,294.33 668.95,294.25" fill="#ff1a1a"/>
<text transform="translate(515.13,329.2) rotate(90)" font-size="7.4" style="stroke-width:0.32px" fill="#333333" stroke="#333333">M1</text>
<text transform="translate(521.84,329.2) rotate(90)" font-size="7.4" style="stroke-width:0.32px" fill="#333333" stroke="#333333">M5</text>
<text transform="translate(528.55,329.2) rotate(90)" font-size="7.4" style="stroke-width:0.32px" fill="#333333" stroke="#333333">M6</text>
<text transform="translate(535.26,329.2) rotate(90)" font-size="7.4" style="stroke-width:0.32px" fill="#333333" stroke="#333333">M11</text>
<text transform="translate(541.97,329.2) rotate(90)" font-size="7.4" style="stroke-width:0.32px" fill="#333333" stroke="#333333">M12</text>
<text transform="translate(555.86,329.2) rotate(90)" font-size="7.4" style="stroke-width:0.32px" fill="#333333" stroke="#333333">M1</text>
<text transform="translate(562.57,329.2) rotate(90)" font-size="7.4" style="stroke-width:0.32px" fill="#333333" stroke="#333333">M5</text>
<text transform="translate(569.28,329.2) rotate(90)" font-size="7.4" style="stroke-width:0.32px" fill="#333333" stroke="#333333">M6</text>
<text transform="translate(575.99,329.2) rotate(90)" font-size="7.4" style="stroke-width:0.32px" fill="#333333" stroke="#333333">M11</text>
<text transform="translate(582.7,329.2) rotate(90)" font-size="7.4" style="stroke-width:0.32px" fill="#333333" stroke="#333333">M12</text>
<text transform="translate(596.59,329.2) rotate(90)" font-size="7.4" style="stroke-width:0.32px" fill="#333333" stroke="#333333">M1</text>
<text transform="translate(603.3,329.2) rotate(90)" font-size="7.4" style="stroke-width:0.32px" fill="#333333" stroke="#333333">M5</text>
<text transform="translate(610.01,329.2) rotate(90)" font-size="7.4" style="stroke-width:0.32px" fill="#333333" stroke="#333333">M6</text>
<text transform="translate(616.72,329.2) rotate(90)" font-size="7.4" style="stroke-width:0.32px" fill="#333333" stroke="#333333">M11</text>
<text transform="translate(623.43,329.2) rotate(90)" font-size="7.4" style="stroke-width:0.32px" fill="#333333" stroke="#333333">M12</text>
<text transform="translate(637.32,329.2) rotate(90)" font-size="7.4" style="stroke-width:0.32px" fill="#333333" stroke="#333333">M1</text>
<text transform="translate(644.03,329.2) rotate(90)" font-size="7.4" style="stroke-width:0.32px" fill="#333333" stroke="#333333">M5</text>
<text transform="translate(650.74,329.2) rotate(90)" font-size="7.4" style="stroke-width:0.32px" fill="#333333" stroke="#333333">M6</text>
<text transform="translate(657.45,329.2) rotate(90)" font-size="7.4" style="stroke-width:0.32px" fill="#333333" stroke="#333333">M11</text>
<text transform="translate(664.16,329.2) rotate(90)" font-size="7.4" style="stroke-width:0.32px" fill="#333333" stroke="#333333">M12</text>
<text transform="translate(491.6,261.25) rotate(-90)" font-size="8.8" text-anchor="middle" fill="#1a1a1a" stroke="#1a1a1a">Pearson's r</text>
<text x="384.7" y="356.8" font-size="10.7" font-weight="bold" text-anchor="middle" fill="#000" stroke="#000">ZIP</text>
<text x="321.1" y="367.9" font-size="7.65" text-anchor="middle" fill="#1a1a1a" stroke="#1a1a1a">ALMANAC</text>
<text x="362.83" y="367.9" font-size="7.65" text-anchor="middle" fill="#1a1a1a" stroke="#1a1a1a">O'Neil</text>
<text x="404.56" y="367.9" font-size="7.65" text-anchor="middle" fill="#1a1a1a" stroke="#1a1a1a">FORCINA</text>
<text x="446.29" y="367.9" font-size="7.65" text-anchor="middle" fill="#1a1a1a" stroke="#1a1a1a">Mathews</text>
<text transform="translate(469.39,386.9) rotate(90)" font-size="7.6" text-anchor="middle" fill="#1a1a1a" stroke="#1a1a1a">ALMANAC</text>
<text x="297.8" y="385.7" font-size="7.5" text-anchor="end" fill="#333333" stroke="#333333">0.5</text>
<text x="297.8" y="395.6" font-size="7.5" text-anchor="end" fill="#333333" stroke="#333333">0.0</text>
<line x1="303.2" y1="397.95" x2="339" y2="397.95" stroke="#ebebeb" stroke-width="0.6"/>
<line x1="303.2" y1="388.05" x2="339" y2="388.05" stroke="#ebebeb" stroke-width="0.6"/>
<line x1="303.2" y1="378.15" x2="339" y2="378.15" stroke="#ebebeb" stroke-width="0.6"/>
<line x1="303.2" y1="393" x2="339" y2="393" stroke="#e2e2e2" stroke-width="0.9"/>
<line x1="303.2" y1="383.1" x2="339" y2="383.1" stroke="#e2e2e2" stroke-width="0.9"/>
<line x1="307.33" y1="373.8" x2="307.33" y2="400" stroke="#e2e2e2" stroke-width="0.9"/>
<line x1="314.22" y1="373.8" x2="314.22" y2="400" stroke="#e2e2e2" stroke-width="0.9"/>
<line x1="321.1" y1="373.8" x2="321.1" y2="400" stroke="#e2e2e2" stroke-width="0.9"/>
<line x1="327.98" y1="373.8" x2="327.98" y2="400" stroke="#e2e2e2" stroke-width="0.9"/>
<line x1="334.87" y1="373.8" x2="334.87" y2="400" stroke="#e2e2e2" stroke-width="0.9"/>
<rect x="305.88" y="378.98" width="2.9" height="1.85" rx="0.7" fill="#E64B35"/>
<rect x="312.77" y="379.18" width="2.9" height="1.85" rx="0.7" fill="#4DBBD5"/>
<rect x="319.65" y="378.78" width="2.9" height="1.85" rx="0.7" fill="#00A087"/>
<rect x="326.53" y="378.98" width="2.9" height="1.85" rx="0.7" fill="#3C5488"/>
<rect x="333.42" y="378.58" width="2.9" height="1.85" rx="0.7" fill="#F39B7F"/>
<polygon points="334.87,374.3 335.49,375.95 337.25,376.03 335.87,377.12 336.34,378.82 334.87,377.85 333.4,378.82 333.87,377.12 332.49,376.03 334.25,375.95" fill="#ff1a1a"/>
<line x1="344.93" y1="397.95" x2="380.73" y2="397.95" stroke="#ebebeb" stroke-width="0.6"/>
<line x1="344.93" y1="388.05" x2="380.73" y2="388.05" stroke="#ebebeb" stroke-width="0.6"/>
<line x1="344.93" y1="378.15" x2="380.73" y2="378.15" stroke="#ebebeb" stroke-width="0.6"/>
<line x1="344.93" y1="393" x2="380.73" y2="393" stroke="#e2e2e2" stroke-width="0.9"/>
<line x1="344.93" y1="383.1" x2="380.73" y2="383.1" stroke="#e2e2e2" stroke-width="0.9"/>
<line x1="349.06" y1="373.8" x2="349.06" y2="400" stroke="#e2e2e2" stroke-width="0.9"/>
<line x1="355.95" y1="373.8" x2="355.95" y2="400" stroke="#e2e2e2" stroke-width="0.9"/>
<line x1="362.83" y1="373.8" x2="362.83" y2="400" stroke="#e2e2e2" stroke-width="0.9"/>
<line x1="369.71" y1="373.8" x2="369.71" y2="400" stroke="#e2e2e2" stroke-width="0.9"/>
<line x1="376.6" y1="373.8" x2="376.6" y2="400" stroke="#e2e2e2" stroke-width="0.9"/>
<rect x="347.61" y="386.18" width="2.9" height="1.85" rx="0.7" fill="#E64B35"/>
<rect x="354.5" y="385.88" width="2.9" height="1.85" rx="0.7" fill="#4DBBD5"/>
<rect x="361.38" y="388.18" width="2.9" height="1.85" rx="0.7" fill="#00A087"/>
<rect x="368.26" y="385.78" width="2.9" height="1.85" rx="0.7" fill="#3C5488"/>
<rect x="375.15" y="387.88" width="2.9" height="1.85" rx="0.7" fill="#F39B7F"/>
<polygon points="369.71,381.5 370.33,383.15 372.09,383.23 370.71,384.32 371.18,386.02 369.71,385.05 368.25,386.02 368.72,384.32 367.34,383.23 369.1,383.15" fill="#ff1a1a"/>
<line x1="386.66" y1="397.95" x2="422.46" y2="397.95" stroke="#ebebeb" stroke-width="0.6"/>
<line x1="386.66" y1="388.05" x2="422.46" y2="388.05" stroke="#ebebeb" stroke-width="0.6"/>
<line x1="386.66" y1="378.15" x2="422.46" y2="378.15" stroke="#ebebeb" stroke-width="0.6"/>
<line x1="386.66" y1="393" x2="422.46" y2="393" stroke="#e2e2e2" stroke-width="0.9"/>
<line x1="386.66" y1="383.1" x2="422.46" y2="383.1" stroke="#e2e2e2" stroke-width="0.9"/>
<line x1="390.79" y1="373.8" x2="390.79" y2="400" stroke="#e2e2e2" stroke-width="0.9"/>
<line x1="397.68" y1="373.8" x2="397.68" y2="400" stroke="#e2e2e2" stroke-width="0.9"/>
<line x1="404.56" y1="373.8" x2="404.56" y2="400" stroke="#e2e2e2" stroke-width="0.9"/>
<line x1="411.44" y1="373.8" x2="411.44" y2="400" stroke="#e2e2e2" stroke-width="0.9"/>
<line x1="418.33" y1="373.8" x2="418.33" y2="400" stroke="#e2e2e2" stroke-width="0.9"/>
<rect x="389.34" y="389.48" width="2.9" height="1.85" rx="0.7" fill="#E64B35"/>
<rect x="396.23" y="388.48" width="2.9" height="1.85" rx="0.7" fill="#4DBBD5"/>
<rect x="403.11" y="393.78" width="2.9" height="1.85" rx="0.7" fill="#00A087"/>
<rect x="409.99" y="393.68" width="2.9" height="1.85" rx="0.7" fill="#3C5488"/>
<rect x="416.88" y="393.68" width="2.9" height="1.85" rx="0.7" fill="#F39B7F"/>
<polygon points="397.68,384.2 398.29,385.85 400.05,385.93 398.67,387.02 399.14,388.72 397.68,387.75 396.21,388.72 396.68,387.02 395.3,385.93 397.06,385.85" fill="#ff1a1a"/>
<line x1="428.39" y1="397.95" x2="464.19" y2="397.95" stroke="#ebebeb" stroke-width="0.6"/>
<line x1="428.39" y1="388.05" x2="464.19" y2="388.05" stroke="#ebebeb" stroke-width="0.6"/>
<line x1="428.39" y1="378.15" x2="464.19" y2="378.15" stroke="#ebebeb" stroke-width="0.6"/>
<line x1="428.39" y1="393" x2="464.19" y2="393" stroke="#e2e2e2" stroke-width="0.9"/>
<line x1="428.39" y1="383.1" x2="464.19" y2="383.1" stroke="#e2e2e2" stroke-width="0.9"/>
<line x1="432.52" y1="373.8" x2="432.52" y2="400" stroke="#e2e2e2" stroke-width="0.9"/>
<line x1="439.41" y1="373.8" x2="439.41" y2="400" stroke="#e2e2e2" stroke-width="0.9"/>
<line x1="446.29" y1="373.8" x2="446.29" y2="400" stroke="#e2e2e2" stroke-width="0.9"/>
<line x1="453.17" y1="373.8" x2="453.17" y2="400" stroke="#e2e2e2" stroke-width="0.9"/>
<line x1="460.06" y1="373.8" x2="460.06" y2="400" stroke="#e2e2e2" stroke-width="0.9"/>
<rect x="431.07" y="389.08" width="2.9" height="1.85" rx="0.7" fill="#E64B35"/>
<rect x="437.96" y="388.48" width="2.9" height="1.85" rx="0.7" fill="#4DBBD5"/>
<rect x="444.84" y="388.78" width="2.9" height="1.85" rx="0.7" fill="#00A087"/>
<rect x="451.72" y="390.38" width="2.9" height="1.85" rx="0.7" fill="#3C5488"/>
<rect x="458.61" y="389.48" width="2.9" height="1.85" rx="0.7" fill="#F39B7F"/>
<polygon points="439.41,384.2 440.02,385.85 441.78,385.93 440.4,387.02 440.87,388.72 439.41,387.75 437.94,388.72 438.41,387.02 437.03,385.93 438.79,385.85" fill="#ff1a1a"/>
<text transform="translate(469.39,419.5) rotate(90)" font-size="7.6" text-anchor="middle" fill="#1a1a1a" stroke="#1a1a1a">O'Neil</text>
<text x="297.8" y="418.3" font-size="7.5" text-anchor="end" fill="#333333" stroke="#333333">0.5</text>
<text x="297.8" y="428.2" font-size="7.5" text-anchor="end" fill="#333333" stroke="#333333">0.0</text>
<line x1="303.2" y1="430.55" x2="339" y2="430.55" stroke="#ebebeb" stroke-width="0.6"/>
<line x1="303.2" y1="420.65" x2="339" y2="420.65" stroke="#ebebeb" stroke-width="0.6"/>
<line x1="303.2" y1="410.75" x2="339" y2="410.75" stroke="#ebebeb" stroke-width="0.6"/>
<line x1="303.2" y1="425.6" x2="339" y2="425.6" stroke="#e2e2e2" stroke-width="0.9"/>
<line x1="303.2" y1="415.7" x2="339" y2="415.7" stroke="#e2e2e2" stroke-width="0.9"/>
<line x1="307.33" y1="406.4" x2="307.33" y2="432.6" stroke="#e2e2e2" stroke-width="0.9"/>
<line x1="314.22" y1="406.4" x2="314.22" y2="432.6" stroke="#e2e2e2" stroke-width="0.9"/>
<line x1="321.1" y1="406.4" x2="321.1" y2="432.6" stroke="#e2e2e2" stroke-width="0.9"/>
<line x1="327.98" y1="406.4" x2="327.98" y2="432.6" stroke="#e2e2e2" stroke-width="0.9"/>
<line x1="334.87" y1="406.4" x2="334.87" y2="432.6" stroke="#e2e2e2" stroke-width="0.9"/>
<rect x="305.88" y="418.98" width="2.9" height="1.85" rx="0.7" fill="#E64B35"/>
<rect x="312.77" y="419.68" width="2.9" height="1.85" rx="0.7" fill="#4DBBD5"/>
<rect x="319.65" y="420.68" width="2.9" height="1.85" rx="0.7" fill="#00A087"/>
<rect x="326.53" y="419.38" width="2.9" height="1.85" rx="0.7" fill="#3C5488"/>
<rect x="333.42" y="420.98" width="2.9" height="1.85" rx="0.7" fill="#F39B7F"/>
<polygon points="307.33,414.7 307.95,416.35 309.71,416.43 308.33,417.52 308.8,419.22 307.33,418.25 305.86,419.22 306.33,417.52 304.95,416.43 306.71,416.35" fill="#ff1a1a"/>
<line x1="344.93" y1="430.55" x2="380.73" y2="430.55" stroke="#ebebeb" stroke-width="0.6"/>
<line x1="344.93" y1="420.65" x2="380.73" y2="420.65" stroke="#ebebeb" stroke-width="0.6"/>
<line x1="344.93" y1="410.75" x2="380.73" y2="410.75" stroke="#ebebeb" stroke-width="0.6"/>
<line x1="344.93" y1="425.6" x2="380.73" y2="425.6" stroke="#e2e2e2" stroke-width="0.9"/>
<line x1="344.93" y1="415.7" x2="380.73" y2="415.7" stroke="#e2e2e2" stroke-width="0.9"/>
<line x1="349.06" y1="406.4" x2="349.06" y2="432.6" stroke="#e2e2e2" stroke-width="0.9"/>
<line x1="355.95" y1="406.4" x2="355.95" y2="432.6" stroke="#e2e2e2" stroke-width="0.9"/>
<line x1="362.83" y1="406.4" x2="362.83" y2="432.6" stroke="#e2e2e2" stroke-width="0.9"/>
<line x1="369.71" y1="406.4" x2="369.71" y2="432.6" stroke="#e2e2e2" stroke-width="0.9"/>
<line x1="376.6" y1="406.4" x2="376.6" y2="432.6" stroke="#e2e2e2" stroke-width="0.9"/>
<rect x="347.61" y="411.38" width="2.9" height="1.85" rx="0.7" fill="#E64B35"/>
<rect x="354.5" y="411.88" width="2.9" height="1.85" rx="0.7" fill="#4DBBD5"/>
<rect x="361.38" y="411.28" width="2.9" height="1.85" rx="0.7" fill="#00A087"/>
<rect x="368.26" y="411.78" width="2.9" height="1.85" rx="0.7" fill="#3C5488"/>
<rect x="375.15" y="411.08" width="2.9" height="1.85" rx="0.7" fill="#F39B7F"/>
<polygon points="376.6,406.8 377.22,408.45 378.98,408.53 377.6,409.62 378.07,411.32 376.6,410.35 375.13,411.32 375.6,409.62 374.22,408.53 375.98,408.45" fill="#ff1a1a"/>
<line x1="386.66" y1="430.55" x2="422.46" y2="430.55" stroke="#ebebeb" stroke-width="0.6"/>
<line x1="386.66" y1="420.65" x2="422.46" y2="420.65" stroke="#ebebeb" stroke-width="0.6"/>
<line x1="386.66" y1="410.75" x2="422.46" y2="410.75" stroke="#ebebeb" stroke-width="0.6"/>
<line x1="386.66" y1="425.6" x2="422.46" y2="425.6" stroke="#e2e2e2" stroke-width="0.9"/>
<line x1="386.66" y1="415.7" x2="422.46" y2="415.7" stroke="#e2e2e2" stroke-width="0.9"/>
<line x1="390.79" y1="406.4" x2="390.79" y2="432.6" stroke="#e2e2e2" stroke-width="0.9"/>
<line x1="397.68" y1="406.4" x2="397.68" y2="432.6" stroke="#e2e2e2" stroke-width="0.9"/>
<line x1="404.56" y1="406.4" x2="404.56" y2="432.6" stroke="#e2e2e2" stroke-width="0.9"/>
<line x1="411.44" y1="406.4" x2="411.44" y2="432.6" stroke="#e2e2e2" stroke-width="0.9"/>
<line x1="418.33" y1="406.4" x2="418.33" y2="432.6" stroke="#e2e2e2" stroke-width="0.9"/>
<rect x="389.34" y="421.68" width="2.9" height="1.85" rx="0.7" fill="#E64B35"/>
<rect x="396.23" y="420.28" width="2.9" height="1.85" rx="0.7" fill="#4DBBD5"/>
<rect x="403.11" y="427.78" width="2.9" height="1.85" rx="0.7" fill="#00A087"/>
<rect x="409.99" y="427.18" width="2.9" height="1.85" rx="0.7" fill="#3C5488"/>
<rect x="416.88" y="427.18" width="2.9" height="1.85" rx="0.7" fill="#F39B7F"/>
<polygon points="397.68,416 398.29,417.65 400.05,417.73 398.67,418.82 399.14,420.52 397.68,419.55 396.21,420.52 396.68,418.82 395.3,417.73 397.06,417.65" fill="#ff1a1a"/>
<line x1="428.39" y1="430.55" x2="464.19" y2="430.55" stroke="#ebebeb" stroke-width="0.6"/>
<line x1="428.39" y1="420.65" x2="464.19" y2="420.65" stroke="#ebebeb" stroke-width="0.6"/>
<line x1="428.39" y1="410.75" x2="464.19" y2="410.75" stroke="#ebebeb" stroke-width="0.6"/>
<line x1="428.39" y1="425.6" x2="464.19" y2="425.6" stroke="#e2e2e2" stroke-width="0.9"/>
<line x1="428.39" y1="415.7" x2="464.19" y2="415.7" stroke="#e2e2e2" stroke-width="0.9"/>
<line x1="432.52" y1="406.4" x2="432.52" y2="432.6" stroke="#e2e2e2" stroke-width="0.9"/>
<line x1="439.41" y1="406.4" x2="439.41" y2="432.6" stroke="#e2e2e2" stroke-width="0.9"/>
<line x1="446.29" y1="406.4" x2="446.29" y2="432.6" stroke="#e2e2e2" stroke-width="0.9"/>
<line x1="453.17" y1="406.4" x2="453.17" y2="432.6" stroke="#e2e2e2" stroke-width="0.9"/>
<line x1="460.06" y1="406.4" x2="460.06" y2="432.6" stroke="#e2e2e2" stroke-width="0.9"/>
<rect x="431.07" y="423.18" width="2.9" height="1.85" rx="0.7" fill="#E64B35"/>
<rect x="437.96" y="425.18" width="2.9" height="1.85" rx="0.7" fill="#4DBBD5"/>
<rect x="444.84" y="424.68" width="2.9" height="1.85" rx="0.7" fill="#00A087"/>
<rect x="451.72" y="425.28" width="2.9" height="1.85" rx="0.7" fill="#3C5488"/>
<rect x="458.61" y="424.88" width="2.9" height="1.85" rx="0.7" fill="#F39B7F"/>
<polygon points="432.52,418.9 433.14,420.55 434.9,420.63 433.52,421.72 433.99,423.42 432.52,422.45 431.05,423.42 431.52,421.72 430.14,420.63 431.9,420.55" fill="#ff1a1a"/>
<text transform="translate(469.39,452.1) rotate(90)" font-size="7.6" text-anchor="middle" fill="#1a1a1a" stroke="#1a1a1a">FORCINA</text>
<text x="297.8" y="450.9" font-size="7.5" text-anchor="end" fill="#333333" stroke="#333333">0.5</text>
<text x="297.8" y="460.8" font-size="7.5" text-anchor="end" fill="#333333" stroke="#333333">0.0</text>
<line x1="303.2" y1="463.15" x2="339" y2="463.15" stroke="#ebebeb" stroke-width="0.6"/>
<line x1="303.2" y1="453.25" x2="339" y2="453.25" stroke="#ebebeb" stroke-width="0.6"/>
<line x1="303.2" y1="443.35" x2="339" y2="443.35" stroke="#ebebeb" stroke-width="0.6"/>
<line x1="303.2" y1="458.2" x2="339" y2="458.2" stroke="#e2e2e2" stroke-width="0.9"/>
<line x1="303.2" y1="448.3" x2="339" y2="448.3" stroke="#e2e2e2" stroke-width="0.9"/>
<line x1="307.33" y1="439" x2="307.33" y2="465.2" stroke="#e2e2e2" stroke-width="0.9"/>
<line x1="314.22" y1="439" x2="314.22" y2="465.2" stroke="#e2e2e2" stroke-width="0.9"/>
<line x1="321.1" y1="439" x2="321.1" y2="465.2" stroke="#e2e2e2" stroke-width="0.9"/>
<line x1="327.98" y1="439" x2="327.98" y2="465.2" stroke="#e2e2e2" stroke-width="0.9"/>
<line x1="334.87" y1="439" x2="334.87" y2="465.2" stroke="#e2e2e2" stroke-width="0.9"/>
<rect x="305.88" y="450.78" width="2.9" height="1.85" rx="0.7" fill="#E64B35"/>
<rect x="312.77" y="449.18" width="2.9" height="1.85" rx="0.7" fill="#4DBBD5"/>
<rect x="319.65" y="448.38" width="2.9" height="1.85" rx="0.7" fill="#00A087"/>
<rect x="326.53" y="447.88" width="2.9" height="1.85" rx="0.7" fill="#3C5488"/>
<rect x="333.42" y="448.38" width="2.9" height="1.85" rx="0.7" fill="#F39B7F"/>
<polygon points="327.98,443.6 328.6,445.25 330.36,445.33 328.98,446.42 329.45,448.12 327.98,447.15 326.52,448.12 326.99,446.42 325.61,445.33 327.37,445.25" fill="#ff1a1a"/>
<line x1="344.93" y1="463.15" x2="380.73" y2="463.15" stroke="#ebebeb" stroke-width="0.6"/>
<line x1="344.93" y1="453.25" x2="380.73" y2="453.25" stroke="#ebebeb" stroke-width="0.6"/>
<line x1="344.93" y1="443.35" x2="380.73" y2="443.35" stroke="#ebebeb" stroke-width="0.6"/>
<line x1="344.93" y1="458.2" x2="380.73" y2="458.2" stroke="#e2e2e2" stroke-width="0.9"/>
<line x1="344.93" y1="448.3" x2="380.73" y2="448.3" stroke="#e2e2e2" stroke-width="0.9"/>
<line x1="349.06" y1="439" x2="349.06" y2="465.2" stroke="#e2e2e2" stroke-width="0.9"/>
<line x1="355.95" y1="439" x2="355.95" y2="465.2" stroke="#e2e2e2" stroke-width="0.9"/>
<line x1="362.83" y1="439" x2="362.83" y2="465.2" stroke="#e2e2e2" stroke-width="0.9"/>
<line x1="369.71" y1="439" x2="369.71" y2="465.2" stroke="#e2e2e2" stroke-width="0.9"/>
<line x1="376.6" y1="439" x2="376.6" y2="465.2" stroke="#e2e2e2" stroke-width="0.9"/>
<rect x="347.61" y="455.08" width="2.9" height="1.85" rx="0.7" fill="#E64B35"/>
<rect x="354.5" y="460.28" width="2.9" height="1.85" rx="0.7" fill="#4DBBD5"/>
<rect x="361.38" y="461.28" width="2.9" height="1.85" rx="0.7" fill="#00A087"/>
<rect x="368.26" y="457.38" width="2.9" height="1.85" rx="0.7" fill="#3C5488"/>
<rect x="375.15" y="454.38" width="2.9" height="1.85" rx="0.7" fill="#F39B7F"/>
<polygon points="376.6,450.1 377.22,451.75 378.98,451.83 377.6,452.92 378.07,454.62 376.6,453.65 375.13,454.62 375.6,452.92 374.22,451.83 375.98,451.75" fill="#ff1a1a"/>
<line x1="386.66" y1="463.15" x2="422.46" y2="463.15" stroke="#ebebeb" stroke-width="0.6"/>
<line x1="386.66" y1="453.25" x2="422.46" y2="453.25" stroke="#ebebeb" stroke-width="0.6"/>
<line x1="386.66" y1="443.35" x2="422.46" y2="443.35" stroke="#ebebeb" stroke-width="0.6"/>
<line x1="386.66" y1="458.2" x2="422.46" y2="458.2" stroke="#e2e2e2" stroke-width="0.9"/>
<line x1="386.66" y1="448.3" x2="422.46" y2="448.3" stroke="#e2e2e2" stroke-width="0.9"/>
<line x1="390.79" y1="439" x2="390.79" y2="465.2" stroke="#e2e2e2" stroke-width="0.9"/>
<line x1="397.68" y1="439" x2="397.68" y2="465.2" stroke="#e2e2e2" stroke-width="0.9"/>
<line x1="404.56" y1="439" x2="404.56" y2="465.2" stroke="#e2e2e2" stroke-width="0.9"/>
<line x1="411.44" y1="439" x2="411.44" y2="465.2" stroke="#e2e2e2" stroke-width="0.9"/>
<line x1="418.33" y1="439" x2="418.33" y2="465.2" stroke="#e2e2e2" stroke-width="0.9"/>
<rect x="389.34" y="447.88" width="2.9" height="1.85" rx="0.7" fill="#E64B35"/>
<rect x="396.23" y="448.18" width="2.9" height="1.85" rx="0.7" fill="#4DBBD5"/>
<rect x="403.11" y="448.18" width="2.9" height="1.85" rx="0.7" fill="#00A087"/>
<rect x="409.99" y="448.18" width="2.9" height="1.85" rx="0.7" fill="#3C5488"/>
<rect x="416.88" y="448.18" width="2.9" height="1.85" rx="0.7" fill="#F39B7F"/>
<polygon points="390.79,443.6 391.41,445.25 393.17,445.33 391.79,446.42 392.26,448.12 390.79,447.15 389.32,448.12 389.79,446.42 388.41,445.33 390.17,445.25" fill="#ff1a1a"/>
<line x1="428.39" y1="463.15" x2="464.19" y2="463.15" stroke="#ebebeb" stroke-width="0.6"/>
<line x1="428.39" y1="453.25" x2="464.19" y2="453.25" stroke="#ebebeb" stroke-width="0.6"/>
<line x1="428.39" y1="443.35" x2="464.19" y2="443.35" stroke="#ebebeb" stroke-width="0.6"/>
<line x1="428.39" y1="458.2" x2="464.19" y2="458.2" stroke="#e2e2e2" stroke-width="0.9"/>
<line x1="428.39" y1="448.3" x2="464.19" y2="448.3" stroke="#e2e2e2" stroke-width="0.9"/>
<line x1="432.52" y1="439" x2="432.52" y2="465.2" stroke="#e2e2e2" stroke-width="0.9"/>
<line x1="439.41" y1="439" x2="439.41" y2="465.2" stroke="#e2e2e2" stroke-width="0.9"/>
<line x1="446.29" y1="439" x2="446.29" y2="465.2" stroke="#e2e2e2" stroke-width="0.9"/>
<line x1="453.17" y1="439" x2="453.17" y2="465.2" stroke="#e2e2e2" stroke-width="0.9"/>
<line x1="460.06" y1="439" x2="460.06" y2="465.2" stroke="#e2e2e2" stroke-width="0.9"/>
<rect x="431.07" y="447.88" width="2.9" height="1.85" rx="0.7" fill="#E64B35"/>
<rect x="437.96" y="449.78" width="2.9" height="1.85" rx="0.7" fill="#4DBBD5"/>
<rect x="444.84" y="448.78" width="2.9" height="1.85" rx="0.7" fill="#00A087"/>
<rect x="451.72" y="451.08" width="2.9" height="1.85" rx="0.7" fill="#3C5488"/>
<rect x="458.61" y="448.78" width="2.9" height="1.85" rx="0.7" fill="#F39B7F"/>
<polygon points="432.52,443.6 433.14,445.25 434.9,445.33 433.52,446.42 433.99,448.12 432.52,447.15 431.05,448.12 431.52,446.42 430.14,445.33 431.9,445.25" fill="#ff1a1a"/>
<text transform="translate(469.39,486) rotate(90)" font-size="7.6" text-anchor="middle" fill="#1a1a1a" stroke="#1a1a1a">Mathews</text>
<text x="297.8" y="483.3" font-size="7.5" text-anchor="end" fill="#333333" stroke="#333333">0.5</text>
<text x="297.8" y="493.2" font-size="7.5" text-anchor="end" fill="#333333" stroke="#333333">0.0</text>
<line x1="303.2" y1="495.55" x2="339" y2="495.55" stroke="#ebebeb" stroke-width="0.6"/>
<line x1="303.2" y1="485.65" x2="339" y2="485.65" stroke="#ebebeb" stroke-width="0.6"/>
<line x1="303.2" y1="475.75" x2="339" y2="475.75" stroke="#ebebeb" stroke-width="0.6"/>
<line x1="303.2" y1="490.6" x2="339" y2="490.6" stroke="#e2e2e2" stroke-width="0.9"/>
<line x1="303.2" y1="480.7" x2="339" y2="480.7" stroke="#e2e2e2" stroke-width="0.9"/>
<line x1="307.33" y1="471.4" x2="307.33" y2="497.6" stroke="#e2e2e2" stroke-width="0.9"/>
<line x1="314.22" y1="471.4" x2="314.22" y2="497.6" stroke="#e2e2e2" stroke-width="0.9"/>
<line x1="321.1" y1="471.4" x2="321.1" y2="497.6" stroke="#e2e2e2" stroke-width="0.9"/>
<line x1="327.98" y1="471.4" x2="327.98" y2="497.6" stroke="#e2e2e2" stroke-width="0.9"/>
<line x1="334.87" y1="471.4" x2="334.87" y2="497.6" stroke="#e2e2e2" stroke-width="0.9"/>
<rect x="305.88" y="473.78" width="2.9" height="1.85" rx="0.7" fill="#E64B35"/>
<rect x="312.77" y="477.08" width="2.9" height="1.85" rx="0.7" fill="#4DBBD5"/>
<rect x="319.65" y="476.38" width="2.9" height="1.85" rx="0.7" fill="#00A087"/>
<rect x="326.53" y="476.38" width="2.9" height="1.85" rx="0.7" fill="#3C5488"/>
<rect x="333.42" y="475.78" width="2.9" height="1.85" rx="0.7" fill="#F39B7F"/>
<polygon points="307.33,469.5 307.95,471.15 309.71,471.23 308.33,472.32 308.8,474.02 307.33,473.05 305.86,474.02 306.33,472.32 304.95,471.23 306.71,471.15" fill="#ff1a1a"/>
<line x1="344.93" y1="495.55" x2="380.73" y2="495.55" stroke="#ebebeb" stroke-width="0.6"/>
<line x1="344.93" y1="485.65" x2="380.73" y2="485.65" stroke="#ebebeb" stroke-width="0.6"/>
<line x1="344.93" y1="475.75" x2="380.73" y2="475.75" stroke="#ebebeb" stroke-width="0.6"/>
<line x1="344.93" y1="490.6" x2="380.73" y2="490.6" stroke="#e2e2e2" stroke-width="0.9"/>
<line x1="344.93" y1="480.7" x2="380.73" y2="480.7" stroke="#e2e2e2" stroke-width="0.9"/>
<line x1="349.06" y1="471.4" x2="349.06" y2="497.6" stroke="#e2e2e2" stroke-width="0.9"/>
<line x1="355.95" y1="471.4" x2="355.95" y2="497.6" stroke="#e2e2e2" stroke-width="0.9"/>
<line x1="362.83" y1="471.4" x2="362.83" y2="497.6" stroke="#e2e2e2" stroke-width="0.9"/>
<line x1="369.71" y1="471.4" x2="369.71" y2="497.6" stroke="#e2e2e2" stroke-width="0.9"/>
<line x1="376.6" y1="471.4" x2="376.6" y2="497.6" stroke="#e2e2e2" stroke-width="0.9"/>
<rect x="347.61" y="475.78" width="2.9" height="1.85" rx="0.7" fill="#E64B35"/>
<rect x="354.5" y="478.08" width="2.9" height="1.85" rx="0.7" fill="#4DBBD5"/>
<rect x="361.38" y="478.68" width="2.9" height="1.85" rx="0.7" fill="#00A087"/>
<rect x="368.26" y="480.78" width="2.9" height="1.85" rx="0.7" fill="#3C5488"/>
<rect x="375.15" y="476.78" width="2.9" height="1.85" rx="0.7" fill="#F39B7F"/>
<polygon points="349.06,471.5 349.68,473.15 351.44,473.23 350.06,474.32 350.53,476.02 349.06,475.05 347.59,476.02 348.06,474.32 346.68,473.23 348.44,473.15" fill="#ff1a1a"/>
<line x1="386.66" y1="495.55" x2="422.46" y2="495.55" stroke="#ebebeb" stroke-width="0.6"/>
<line x1="386.66" y1="485.65" x2="422.46" y2="485.65" stroke="#ebebeb" stroke-width="0.6"/>
<line x1="386.66" y1="475.75" x2="422.46" y2="475.75" stroke="#ebebeb" stroke-width="0.6"/>
<line x1="386.66" y1="490.6" x2="422.46" y2="490.6" stroke="#e2e2e2" stroke-width="0.9"/>
<line x1="386.66" y1="480.7" x2="422.46" y2="480.7" stroke="#e2e2e2" stroke-width="0.9"/>
<line x1="390.79" y1="471.4" x2="390.79" y2="497.6" stroke="#e2e2e2" stroke-width="0.9"/>
<line x1="397.68" y1="471.4" x2="397.68" y2="497.6" stroke="#e2e2e2" stroke-width="0.9"/>
<line x1="404.56" y1="471.4" x2="404.56" y2="497.6" stroke="#e2e2e2" stroke-width="0.9"/>
<line x1="411.44" y1="471.4" x2="411.44" y2="497.6" stroke="#e2e2e2" stroke-width="0.9"/>
<line x1="418.33" y1="471.4" x2="418.33" y2="497.6" stroke="#e2e2e2" stroke-width="0.9"/>
<rect x="389.34" y="476.68" width="2.9" height="1.85" rx="0.7" fill="#E64B35"/>
<rect x="396.23" y="479.08" width="2.9" height="1.85" rx="0.7" fill="#4DBBD5"/>
<rect x="403.11" y="494.78" width="2.9" height="1.85" rx="0.7" fill="#00A087"/>
<rect x="409.99" y="493.88" width="2.9" height="1.85" rx="0.7" fill="#3C5488"/>
<rect x="416.88" y="493.88" width="2.9" height="1.85" rx="0.7" fill="#F39B7F"/>
<polygon points="390.79,472.4 391.41,474.05 393.17,474.13 391.79,475.22 392.26,476.92 390.79,475.95 389.32,476.92 389.79,475.22 388.41,474.13 390.17,474.05" fill="#ff1a1a"/>
<line x1="428.39" y1="495.55" x2="464.19" y2="495.55" stroke="#ebebeb" stroke-width="0.6"/>
<line x1="428.39" y1="485.65" x2="464.19" y2="485.65" stroke="#ebebeb" stroke-width="0.6"/>
<line x1="428.39" y1="475.75" x2="464.19" y2="475.75" stroke="#ebebeb" stroke-width="0.6"/>
<line x1="428.39" y1="490.6" x2="464.19" y2="490.6" stroke="#e2e2e2" stroke-width="0.9"/>
<line x1="428.39" y1="480.7" x2="464.19" y2="480.7" stroke="#e2e2e2" stroke-width="0.9"/>
<line x1="432.52" y1="471.4" x2="432.52" y2="497.6" stroke="#e2e2e2" stroke-width="0.9"/>
<line x1="439.41" y1="471.4" x2="439.41" y2="497.6" stroke="#e2e2e2" stroke-width="0.9"/>
<line x1="446.29" y1="471.4" x2="446.29" y2="497.6" stroke="#e2e2e2" stroke-width="0.9"/>
<line x1="453.17" y1="471.4" x2="453.17" y2="497.6" stroke="#e2e2e2" stroke-width="0.9"/>
<line x1="460.06" y1="471.4" x2="460.06" y2="497.6" stroke="#e2e2e2" stroke-width="0.9"/>
<rect x="431.07" y="472.08" width="2.9" height="1.85" rx="0.7" fill="#E64B35"/>
<rect x="437.96" y="472.08" width="2.9" height="1.85" rx="0.7" fill="#4DBBD5"/>
<rect x="444.84" y="472.08" width="2.9" height="1.85" rx="0.7" fill="#00A087"/>
<rect x="451.72" y="472.08" width="2.9" height="1.85" rx="0.7" fill="#3C5488"/>
<rect x="458.61" y="471.78" width="2.9" height="1.85" rx="0.7" fill="#F39B7F"/>
<polygon points="460.06,467.5 460.68,469.15 462.44,469.23 461.06,470.32 461.53,472.02 460.06,471.05 458.59,472.02 459.06,470.32 457.68,469.23 459.44,469.15" fill="#ff1a1a"/>
<text transform="translate(301.93,503.8) rotate(90)" font-size="7.4" style="stroke-width:0.32px" fill="#333333" stroke="#333333">M1</text>
<text transform="translate(308.82,503.8) rotate(90)" font-size="7.4" style="stroke-width:0.32px" fill="#333333" stroke="#333333">M5</text>
<text transform="translate(315.7,503.8) rotate(90)" font-size="7.4" style="stroke-width:0.32px" fill="#333333" stroke="#333333">M6</text>
<text transform="translate(322.58,503.8) rotate(90)" font-size="7.4" style="stroke-width:0.32px" fill="#333333" stroke="#333333">M11</text>
<text transform="translate(329.47,503.8) rotate(90)" font-size="7.4" style="stroke-width:0.32px" fill="#333333" stroke="#333333">M12</text>
<text transform="translate(343.66,503.8) rotate(90)" font-size="7.4" style="stroke-width:0.32px" fill="#333333" stroke="#333333">M1</text>
<text transform="translate(350.55,503.8) rotate(90)" font-size="7.4" style="stroke-width:0.32px" fill="#333333" stroke="#333333">M5</text>
<text transform="translate(357.43,503.8) rotate(90)" font-size="7.4" style="stroke-width:0.32px" fill="#333333" stroke="#333333">M6</text>
<text transform="translate(364.31,503.8) rotate(90)" font-size="7.4" style="stroke-width:0.32px" fill="#333333" stroke="#333333">M11</text>
<text transform="translate(371.2,503.8) rotate(90)" font-size="7.4" style="stroke-width:0.32px" fill="#333333" stroke="#333333">M12</text>
<text transform="translate(385.39,503.8) rotate(90)" font-size="7.4" style="stroke-width:0.32px" fill="#333333" stroke="#333333">M1</text>
<text transform="translate(392.28,503.8) rotate(90)" font-size="7.4" style="stroke-width:0.32px" fill="#333333" stroke="#333333">M5</text>
<text transform="translate(399.16,503.8) rotate(90)" font-size="7.4" style="stroke-width:0.32px" fill="#333333" stroke="#333333">M6</text>
<text transform="translate(406.04,503.8) rotate(90)" font-size="7.4" style="stroke-width:0.32px" fill="#333333" stroke="#333333">M11</text>
<text transform="translate(412.93,503.8) rotate(90)" font-size="7.4" style="stroke-width:0.32px" fill="#333333" stroke="#333333">M12</text>
<text transform="translate(427.12,503.8) rotate(90)" font-size="7.4" style="stroke-width:0.32px" fill="#333333" stroke="#333333">M1</text>
<text transform="translate(434.01,503.8) rotate(90)" font-size="7.4" style="stroke-width:0.32px" fill="#333333" stroke="#333333">M5</text>
<text transform="translate(440.89,503.8) rotate(90)" font-size="7.4" style="stroke-width:0.32px" fill="#333333" stroke="#333333">M6</text>
<text transform="translate(447.77,503.8) rotate(90)" font-size="7.4" style="stroke-width:0.32px" fill="#333333" stroke="#333333">M11</text>
<text transform="translate(454.66,503.8) rotate(90)" font-size="7.4" style="stroke-width:0.32px" fill="#333333" stroke="#333333">M12</text>
<text transform="translate(282.3,435.7) rotate(-90)" font-size="8.8" text-anchor="middle" fill="#1a1a1a" stroke="#1a1a1a">Pearson's r</text>
<text x="592.5" y="357" font-size="10.7" font-weight="bold" text-anchor="middle" fill="#000" stroke="#000">S</text>
<text x="530" y="368" font-size="7.65" text-anchor="middle" fill="#1a1a1a" stroke="#1a1a1a">ALMANAC</text>
<text x="571.77" y="368" font-size="7.65" text-anchor="middle" fill="#1a1a1a" stroke="#1a1a1a">O'Neil</text>
<text x="613.54" y="368" font-size="7.65" text-anchor="middle" fill="#1a1a1a" stroke="#1a1a1a">FORCINA</text>
<text x="655.31" y="368" font-size="7.65" text-anchor="middle" fill="#1a1a1a" stroke="#1a1a1a">Mathews</text>
<text transform="translate(678.41,386.25) rotate(90)" font-size="7.6" text-anchor="middle" fill="#1a1a1a" stroke="#1a1a1a">ALMANAC</text>
<text x="506.6" y="376.1" font-size="7.5" text-anchor="end" fill="#333333" stroke="#333333">1.0</text>
<text x="506.6" y="386.1" font-size="7.5" text-anchor="end" fill="#333333" stroke="#333333">0.5</text>
<text x="506.6" y="396.1" font-size="7.5" text-anchor="end" fill="#333333" stroke="#333333">0.0</text>
<line x1="512.1" y1="398.5" x2="547.9" y2="398.5" stroke="#ebebeb" stroke-width="0.6"/>
<line x1="512.1" y1="388.5" x2="547.9" y2="388.5" stroke="#ebebeb" stroke-width="0.6"/>
<line x1="512.1" y1="378.5" x2="547.9" y2="378.5" stroke="#ebebeb" stroke-width="0.6"/>
<line x1="512.1" y1="393.5" x2="547.9" y2="393.5" stroke="#e2e2e2" stroke-width="0.9"/>
<line x1="512.1" y1="383.5" x2="547.9" y2="383.5" stroke="#e2e2e2" stroke-width="0.9"/>
<line x1="512.1" y1="373.5" x2="547.9" y2="373.5" stroke="#e2e2e2" stroke-width="0.9"/>
<line x1="516.23" y1="373.1" x2="516.23" y2="399.4" stroke="#e2e2e2" stroke-width="0.9"/>
<line x1="523.12" y1="373.1" x2="523.12" y2="399.4" stroke="#e2e2e2" stroke-width="0.9"/>
<line x1="530" y1="373.1" x2="530" y2="399.4" stroke="#e2e2e2" stroke-width="0.9"/>
<line x1="536.88" y1="373.1" x2="536.88" y2="399.4" stroke="#e2e2e2" stroke-width="0.9"/>
<line x1="543.77" y1="373.1" x2="543.77" y2="399.4" stroke="#e2e2e2" stroke-width="0.9"/>
<rect x="514.78" y="377.78" width="2.9" height="1.85" rx="0.7" fill="#E64B35"/>
<rect x="521.67" y="377.18" width="2.9" height="1.85" rx="0.7" fill="#4DBBD5"/>
<rect x="528.55" y="376.98" width="2.9" height="1.85" rx="0.7" fill="#00A087"/>
<rect x="535.43" y="376.98" width="2.9" height="1.85" rx="0.7" fill="#3C5488"/>
<rect x="542.32" y="376.58" width="2.9" height="1.85" rx="0.7" fill="#F39B7F"/>
<polygon points="543.77,372.3 544.39,373.95 546.15,374.03 544.77,375.12 545.24,376.82 543.77,375.85 542.3,376.82 542.77,375.12 541.39,374.03 543.15,373.95" fill="#ff1a1a"/>
<line x1="553.87" y1="398.5" x2="589.67" y2="398.5" stroke="#ebebeb" stroke-width="0.6"/>
<line x1="553.87" y1="388.5" x2="589.67" y2="388.5" stroke="#ebebeb" stroke-width="0.6"/>
<line x1="553.87" y1="378.5" x2="589.67" y2="378.5" stroke="#ebebeb" stroke-width="0.6"/>
<line x1="553.87" y1="393.5" x2="589.67" y2="393.5" stroke="#e2e2e2" stroke-width="0.9"/>
<line x1="553.87" y1="383.5" x2="589.67" y2="383.5" stroke="#e2e2e2" stroke-width="0.9"/>
<line x1="553.87" y1="373.5" x2="589.67" y2="373.5" stroke="#e2e2e2" stroke-width="0.9"/>
<line x1="558" y1="373.1" x2="558" y2="399.4" stroke="#e2e2e2" stroke-width="0.9"/>
<line x1="564.89" y1="373.1" x2="564.89" y2="399.4" stroke="#e2e2e2" stroke-width="0.9"/>
<line x1="571.77" y1="373.1" x2="571.77" y2="399.4" stroke="#e2e2e2" stroke-width="0.9"/>
<line x1="578.65" y1="373.1" x2="578.65" y2="399.4" stroke="#e2e2e2" stroke-width="0.9"/>
<line x1="585.54" y1="373.1" x2="585.54" y2="399.4" stroke="#e2e2e2" stroke-width="0.9"/>
<rect x="556.55" y="386.78" width="2.9" height="1.85" rx="0.7" fill="#E64B35"/>
<rect x="563.44" y="381.28" width="2.9" height="1.85" rx="0.7" fill="#4DBBD5"/>
<rect x="570.32" y="383.78" width="2.9" height="1.85" rx="0.7" fill="#00A087"/>
<rect x="577.2" y="380.88" width="2.9" height="1.85" rx="0.7" fill="#3C5488"/>
<rect x="584.09" y="384.18" width="2.9" height="1.85" rx="0.7" fill="#F39B7F"/>
<polygon points="578.65,376.6 579.27,378.25 581.03,378.33 579.65,379.42 580.12,381.12 578.65,380.15 577.19,381.12 577.66,379.42 576.28,378.33 578.04,378.25" fill="#ff1a1a"/>
<line x1="595.64" y1="398.5" x2="631.44" y2="398.5" stroke="#ebebeb" stroke-width="0.6"/>
<line x1="595.64" y1="388.5" x2="631.44" y2="388.5" stroke="#ebebeb" stroke-width="0.6"/>
<line x1="595.64" y1="378.5" x2="631.44" y2="378.5" stroke="#ebebeb" stroke-width="0.6"/>
<line x1="595.64" y1="393.5" x2="631.44" y2="393.5" stroke="#e2e2e2" stroke-width="0.9"/>
<line x1="595.64" y1="383.5" x2="631.44" y2="383.5" stroke="#e2e2e2" stroke-width="0.9"/>
<line x1="595.64" y1="373.5" x2="631.44" y2="373.5" stroke="#e2e2e2" stroke-width="0.9"/>
<line x1="599.77" y1="373.1" x2="599.77" y2="399.4" stroke="#e2e2e2" stroke-width="0.9"/>
<line x1="606.66" y1="373.1" x2="606.66" y2="399.4" stroke="#e2e2e2" stroke-width="0.9"/>
<line x1="613.54" y1="373.1" x2="613.54" y2="399.4" stroke="#e2e2e2" stroke-width="0.9"/>
<line x1="620.42" y1="373.1" x2="620.42" y2="399.4" stroke="#e2e2e2" stroke-width="0.9"/>
<line x1="627.31" y1="373.1" x2="627.31" y2="399.4" stroke="#e2e2e2" stroke-width="0.9"/>
<rect x="598.32" y="390.38" width="2.9" height="1.85" rx="0.7" fill="#E64B35"/>
<rect x="605.21" y="390.78" width="2.9" height="1.85" rx="0.7" fill="#4DBBD5"/>
<rect x="612.09" y="393.68" width="2.9" height="1.85" rx="0.7" fill="#00A087"/>
<rect x="618.97" y="391.78" width="2.9" height="1.85" rx="0.7" fill="#3C5488"/>
<rect x="625.86" y="391.78" width="2.9" height="1.85" rx="0.7" fill="#F39B7F"/>
<polygon points="599.77,386.1 600.39,387.75 602.15,387.83 600.77,388.92 601.24,390.62 599.77,389.65 598.3,390.62 598.77,388.92 597.39,387.83 599.15,387.75" fill="#ff1a1a"/>
<line x1="637.41" y1="398.5" x2="673.21" y2="398.5" stroke="#ebebeb" stroke-width="0.6"/>
<line x1="637.41" y1="388.5" x2="673.21" y2="388.5" stroke="#ebebeb" stroke-width="0.6"/>
<line x1="637.41" y1="378.5" x2="673.21" y2="378.5" stroke="#ebebeb" stroke-width="0.6"/>
<line x1="637.41" y1="393.5" x2="673.21" y2="393.5" stroke="#e2e2e2" stroke-width="0.9"/>
<line x1="637.41" y1="383.5" x2="673.21" y2="383.5" stroke="#e2e2e2" stroke-width="0.9"/>
<line x1="637.41" y1="373.5" x2="673.21" y2="373.5" stroke="#e2e2e2" stroke-width="0.9"/>
<line x1="641.54" y1="373.1" x2="641.54" y2="399.4" stroke="#e2e2e2" stroke-width="0.9"/>
<line x1="648.43" y1="373.1" x2="648.43" y2="399.4" stroke="#e2e2e2" stroke-width="0.9"/>
<line x1="655.31" y1="373.1" x2="655.31" y2="399.4" stroke="#e2e2e2" stroke-width="0.9"/>
<line x1="662.19" y1="373.1" x2="662.19" y2="399.4" stroke="#e2e2e2" stroke-width="0.9"/>
<line x1="669.08" y1="373.1" x2="669.08" y2="399.4" stroke="#e2e2e2" stroke-width="0.9"/>
<rect x="640.09" y="388.48" width="2.9" height="1.85" rx="0.7" fill="#E64B35"/>
<rect x="646.98" y="382.18" width="2.9" height="1.85" rx="0.7" fill="#4DBBD5"/>
<rect x="653.86" y="382.88" width="2.9" height="1.85" rx="0.7" fill="#00A087"/>
<rect x="660.74" y="382.88" width="2.9" height="1.85" rx="0.7" fill="#3C5488"/>
<rect x="667.63" y="383.78" width="2.9" height="1.85" rx="0.7" fill="#F39B7F"/>
<polygon points="648.43,377.9 649.04,379.55 650.8,379.63 649.42,380.72 649.89,382.42 648.43,381.45 646.96,382.42 647.43,380.72 646.05,379.63 647.81,379.55" fill="#ff1a1a"/>
<text transform="translate(678.41,418.85) rotate(90)" font-size="7.6" text-anchor="middle" fill="#1a1a1a" stroke="#1a1a1a">O'Neil</text>
<text x="506.6" y="408.7" font-size="7.5" text-anchor="end" fill="#333333" stroke="#333333">1.0</text>
<text x="506.6" y="418.7" font-size="7.5" text-anchor="end" fill="#333333" stroke="#333333">0.5</text>
<text x="506.6" y="428.7" font-size="7.5" text-anchor="end" fill="#333333" stroke="#333333">0.0</text>
<line x1="512.1" y1="431.1" x2="547.9" y2="431.1" stroke="#ebebeb" stroke-width="0.6"/>
<line x1="512.1" y1="421.1" x2="547.9" y2="421.1" stroke="#ebebeb" stroke-width="0.6"/>
<line x1="512.1" y1="411.1" x2="547.9" y2="411.1" stroke="#ebebeb" stroke-width="0.6"/>
<line x1="512.1" y1="426.1" x2="547.9" y2="426.1" stroke="#e2e2e2" stroke-width="0.9"/>
<line x1="512.1" y1="416.1" x2="547.9" y2="416.1" stroke="#e2e2e2" stroke-width="0.9"/>
<line x1="512.1" y1="406.1" x2="547.9" y2="406.1" stroke="#e2e2e2" stroke-width="0.9"/>
<line x1="516.23" y1="405.7" x2="516.23" y2="432" stroke="#e2e2e2" stroke-width="0.9"/>
<line x1="523.12" y1="405.7" x2="523.12" y2="432" stroke="#e2e2e2" stroke-width="0.9"/>
<line x1="530" y1="405.7" x2="530" y2="432" stroke="#e2e2e2" stroke-width="0.9"/>
<line x1="536.88" y1="405.7" x2="536.88" y2="432" stroke="#e2e2e2" stroke-width="0.9"/>
<line x1="543.77" y1="405.7" x2="543.77" y2="432" stroke="#e2e2e2" stroke-width="0.9"/>
<rect x="514.78" y="411.08" width="2.9" height="1.85" rx="0.7" fill="#E64B35"/>
<rect x="521.67" y="408.98" width="2.9" height="1.85" rx="0.7" fill="#4DBBD5"/>
<rect x="528.55" y="408.98" width="2.9" height="1.85" rx="0.7" fill="#00A087"/>
<rect x="535.43" y="408.48" width="2.9" height="1.85" rx="0.7" fill="#3C5488"/>
<rect x="542.32" y="408.08" width="2.9" height="1.85" rx="0.7" fill="#F39B7F"/>
<polygon points="543.77,403.8 544.39,405.45 546.15,405.53 544.77,406.62 545.24,408.32 543.77,407.35 542.3,408.32 542.77,406.62 541.39,405.53 543.15,405.45" fill="#ff1a1a"/>
<line x1="553.87" y1="431.1" x2="589.67" y2="431.1" stroke="#ebebeb" stroke-width="0.6"/>
<line x1="553.87" y1="421.1" x2="589.67" y2="421.1" stroke="#ebebeb" stroke-width="0.6"/>
<line x1="553.87" y1="411.1" x2="589.67" y2="411.1" stroke="#ebebeb" stroke-width="0.6"/>
<line x1="553.87" y1="426.1" x2="589.67" y2="426.1" stroke="#e2e2e2" stroke-width="0.9"/>
<line x1="553.87" y1="416.1" x2="589.67" y2="416.1" stroke="#e2e2e2" stroke-width="0.9"/>
<line x1="553.87" y1="406.1" x2="589.67" y2="406.1" stroke="#e2e2e2" stroke-width="0.9"/>
<line x1="558" y1="405.7" x2="558" y2="432" stroke="#e2e2e2" stroke-width="0.9"/>
<line x1="564.89" y1="405.7" x2="564.89" y2="432" stroke="#e2e2e2" stroke-width="0.9"/>
<line x1="571.77" y1="405.7" x2="571.77" y2="432" stroke="#e2e2e2" stroke-width="0.9"/>
<line x1="578.65" y1="405.7" x2="578.65" y2="432" stroke="#e2e2e2" stroke-width="0.9"/>
<line x1="585.54" y1="405.7" x2="585.54" y2="432" stroke="#e2e2e2" stroke-width="0.9"/>
<rect x="556.55" y="407.18" width="2.9" height="1.85" rx="0.7" fill="#E64B35"/>
<rect x="563.44" y="407.18" width="2.9" height="1.85" rx="0.7" fill="#4DBBD5"/>
<rect x="570.32" y="407.18" width="2.9" height="1.85" rx="0.7" fill="#00A087"/>
<rect x="577.2" y="407.18" width="2.9" height="1.85" rx="0.7" fill="#3C5488"/>
<rect x="584.09" y="406.88" width="2.9" height="1.85" rx="0.7" fill="#F39B7F"/>
<polygon points="585.54,402.6 586.16,404.25 587.92,404.33 586.54,405.42 587.01,407.12 585.54,406.15 584.07,407.12 584.54,405.42 583.16,404.33 584.92,404.25" fill="#ff1a1a"/>
<line x1="595.64" y1="431.1" x2="631.44" y2="431.1" stroke="#ebebeb" stroke-width="0.6"/>
<line x1="595.64" y1="421.1" x2="631.44" y2="421.1" stroke="#ebebeb" stroke-width="0.6"/>
<line x1="595.64" y1="411.1" x2="631.44" y2="411.1" stroke="#ebebeb" stroke-width="0.6"/>
<line x1="595.64" y1="426.1" x2="631.44" y2="426.1" stroke="#e2e2e2" stroke-width="0.9"/>
<line x1="595.64" y1="416.1" x2="631.44" y2="416.1" stroke="#e2e2e2" stroke-width="0.9"/>
<line x1="595.64" y1="406.1" x2="631.44" y2="406.1" stroke="#e2e2e2" stroke-width="0.9"/>
<line x1="599.77" y1="405.7" x2="599.77" y2="432" stroke="#e2e2e2" stroke-width="0.9"/>
<line x1="606.66" y1="405.7" x2="606.66" y2="432" stroke="#e2e2e2" stroke-width="0.9"/>
<line x1="613.54" y1="405.7" x2="613.54" y2="432" stroke="#e2e2e2" stroke-width="0.9"/>
<line x1="620.42" y1="405.7" x2="620.42" y2="432" stroke="#e2e2e2" stroke-width="0.9"/>
<line x1="627.31" y1="405.7" x2="627.31" y2="432" stroke="#e2e2e2" stroke-width="0.9"/>
<rect x="598.32" y="419.38" width="2.9" height="1.85" rx="0.7" fill="#E64B35"/>
<rect x="605.21" y="419.38" width="2.9" height="1.85" rx="0.7" fill="#4DBBD5"/>
<rect x="612.09" y="430.48" width="2.9" height="1.85" rx="0.7" fill="#00A087"/>
<rect x="618.97" y="425.18" width="2.9" height="1.85" rx="0.7" fill="#3C5488"/>
<rect x="625.86" y="425.18" width="2.9" height="1.85" rx="0.7" fill="#F39B7F"/>
<polygon points="606.66,415.1 607.27,416.75 609.03,416.83 607.65,417.92 608.12,419.62 606.66,418.65 605.19,419.62 605.66,417.92 604.28,416.83 606.04,416.75" fill="#ff1a1a"/>
<line x1="637.41" y1="431.1" x2="673.21" y2="431.1" stroke="#ebebeb" stroke-width="0.6"/>
<line x1="637.41" y1="421.1" x2="673.21" y2="421.1" stroke="#ebebeb" stroke-width="0.6"/>
<line x1="637.41" y1="411.1" x2="673.21" y2="411.1" stroke="#ebebeb" stroke-width="0.6"/>
<line x1="637.41" y1="426.1" x2="673.21" y2="426.1" stroke="#e2e2e2" stroke-width="0.9"/>
<line x1="637.41" y1="416.1" x2="673.21" y2="416.1" stroke="#e2e2e2" stroke-width="0.9"/>
<line x1="637.41" y1="406.1" x2="673.21" y2="406.1" stroke="#e2e2e2" stroke-width="0.9"/>
<line x1="641.54" y1="405.7" x2="641.54" y2="432" stroke="#e2e2e2" stroke-width="0.9"/>
<line x1="648.43" y1="405.7" x2="648.43" y2="432" stroke="#e2e2e2" stroke-width="0.9"/>
<line x1="655.31" y1="405.7" x2="655.31" y2="432" stroke="#e2e2e2" stroke-width="0.9"/>
<line x1="662.19" y1="405.7" x2="662.19" y2="432" stroke="#e2e2e2" stroke-width="0.9"/>
<line x1="669.08" y1="405.7" x2="669.08" y2="432" stroke="#e2e2e2" stroke-width="0.9"/>
<rect x="640.09" y="412.48" width="2.9" height="1.85" rx="0.7" fill="#E64B35"/>
<rect x="646.98" y="410.08" width="2.9" height="1.85" rx="0.7" fill="#4DBBD5"/>
<rect x="653.86" y="409.38" width="2.9" height="1.85" rx="0.7" fill="#00A087"/>
<rect x="660.74" y="409.78" width="2.9" height="1.85" rx="0.7" fill="#3C5488"/>
<rect x="667.63" y="409.58" width="2.9" height="1.85" rx="0.7" fill="#F39B7F"/>
<polygon points="655.31,405.1 655.93,406.75 657.69,406.83 656.31,407.92 656.78,409.62 655.31,408.65 653.84,409.62 654.31,407.92 652.93,406.83 654.69,406.75" fill="#ff1a1a"/>
<text transform="translate(678.41,451.45) rotate(90)" font-size="7.6" text-anchor="middle" fill="#1a1a1a" stroke="#1a1a1a">FORCINA</text>
<text x="506.6" y="441.3" font-size="7.5" text-anchor="end" fill="#333333" stroke="#333333">1.0</text>
<text x="506.6" y="451.3" font-size="7.5" text-anchor="end" fill="#333333" stroke="#333333">0.5</text>
<text x="506.6" y="461.3" font-size="7.5" text-anchor="end" fill="#333333" stroke="#333333">0.0</text>
<line x1="512.1" y1="463.7" x2="547.9" y2="463.7" stroke="#ebebeb" stroke-width="0.6"/>
<line x1="512.1" y1="453.7" x2="547.9" y2="453.7" stroke="#ebebeb" stroke-width="0.6"/>
<line x1="512.1" y1="443.7" x2="547.9" y2="443.7" stroke="#ebebeb" stroke-width="0.6"/>
<line x1="512.1" y1="458.7" x2="547.9" y2="458.7" stroke="#e2e2e2" stroke-width="0.9"/>
<line x1="512.1" y1="448.7" x2="547.9" y2="448.7" stroke="#e2e2e2" stroke-width="0.9"/>
<line x1="512.1" y1="438.7" x2="547.9" y2="438.7" stroke="#e2e2e2" stroke-width="0.9"/>
<line x1="516.23" y1="438.3" x2="516.23" y2="464.6" stroke="#e2e2e2" stroke-width="0.9"/>
<line x1="523.12" y1="438.3" x2="523.12" y2="464.6" stroke="#e2e2e2" stroke-width="0.9"/>
<line x1="530" y1="438.3" x2="530" y2="464.6" stroke="#e2e2e2" stroke-width="0.9"/>
<line x1="536.88" y1="438.3" x2="536.88" y2="464.6" stroke="#e2e2e2" stroke-width="0.9"/>
<line x1="543.77" y1="438.3" x2="543.77" y2="464.6" stroke="#e2e2e2" stroke-width="0.9"/>
<rect x="514.78" y="446.18" width="2.9" height="1.85" rx="0.7" fill="#E64B35"/>
<rect x="521.67" y="447.28" width="2.9" height="1.85" rx="0.7" fill="#4DBBD5"/>
<rect x="528.55" y="447.28" width="2.9" height="1.85" rx="0.7" fill="#00A087"/>
<rect x="535.43" y="446.88" width="2.9" height="1.85" rx="0.7" fill="#3C5488"/>
<rect x="542.32" y="446.18" width="2.9" height="1.85" rx="0.7" fill="#F39B7F"/>
<polygon points="543.77,441.9 544.39,443.55 546.15,443.63 544.77,444.72 545.24,446.42 543.77,445.45 542.3,446.42 542.77,444.72 541.39,443.63 543.15,443.55" fill="#ff1a1a"/>
<line x1="553.87" y1="463.7" x2="589.67" y2="463.7" stroke="#ebebeb" stroke-width="0.6"/>
<line x1="553.87" y1="453.7" x2="589.67" y2="453.7" stroke="#ebebeb" stroke-width="0.6"/>
<line x1="553.87" y1="443.7" x2="589.67" y2="443.7" stroke="#ebebeb" stroke-width="0.6"/>
<line x1="553.87" y1="458.7" x2="589.67" y2="458.7" stroke="#e2e2e2" stroke-width="0.9"/>
<line x1="553.87" y1="448.7" x2="589.67" y2="448.7" stroke="#e2e2e2" stroke-width="0.9"/>
<line x1="553.87" y1="438.7" x2="589.67" y2="438.7" stroke="#e2e2e2" stroke-width="0.9"/>
<line x1="558" y1="438.3" x2="558" y2="464.6" stroke="#e2e2e2" stroke-width="0.9"/>
<line x1="564.89" y1="438.3" x2="564.89" y2="464.6" stroke="#e2e2e2" stroke-width="0.9"/>
<line x1="571.77" y1="438.3" x2="571.77" y2="464.6" stroke="#e2e2e2" stroke-width="0.9"/>
<line x1="578.65" y1="438.3" x2="578.65" y2="464.6" stroke="#e2e2e2" stroke-width="0.9"/>
<line x1="585.54" y1="438.3" x2="585.54" y2="464.6" stroke="#e2e2e2" stroke-width="0.9"/>
<rect x="556.55" y="447.88" width="2.9" height="1.85" rx="0.7" fill="#E64B35"/>
<rect x="563.44" y="457.08" width="2.9" height="1.85" rx="0.7" fill="#4DBBD5"/>
<rect x="570.32" y="455.78" width="2.9" height="1.85" rx="0.7" fill="#00A087"/>
<rect x="577.2" y="446.88" width="2.9" height="1.85" rx="0.7" fill="#3C5488"/>
<rect x="584.09" y="454.08" width="2.9" height="1.85" rx="0.7" fill="#F39B7F"/>
<polygon points="578.65,442.6 579.27,444.25 581.03,444.33 579.65,445.42 580.12,447.12 578.65,446.15 577.19,447.12 577.66,445.42 576.28,444.33 578.04,444.25" fill="#ff1a1a"/>
<line x1="595.64" y1="463.7" x2="631.44" y2="463.7" stroke="#ebebeb" stroke-width="0.6"/>
<line x1="595.64" y1="453.7" x2="631.44" y2="453.7" stroke="#ebebeb" stroke-width="0.6"/>
<line x1="595.64" y1="443.7" x2="631.44" y2="443.7" stroke="#ebebeb" stroke-width="0.6"/>
<line x1="595.64" y1="458.7" x2="631.44" y2="458.7" stroke="#e2e2e2" stroke-width="0.9"/>
<line x1="595.64" y1="448.7" x2="631.44" y2="448.7" stroke="#e2e2e2" stroke-width="0.9"/>
<line x1="595.64" y1="438.7" x2="631.44" y2="438.7" stroke="#e2e2e2" stroke-width="0.9"/>
<line x1="599.77" y1="438.3" x2="599.77" y2="464.6" stroke="#e2e2e2" stroke-width="0.9"/>
<line x1="606.66" y1="438.3" x2="606.66" y2="464.6" stroke="#e2e2e2" stroke-width="0.9"/>
<line x1="613.54" y1="438.3" x2="613.54" y2="464.6" stroke="#e2e2e2" stroke-width="0.9"/>
<line x1="620.42" y1="438.3" x2="620.42" y2="464.6" stroke="#e2e2e2" stroke-width="0.9"/>
<line x1="627.31" y1="438.3" x2="627.31" y2="464.6" stroke="#e2e2e2" stroke-width="0.9"/>
<rect x="598.32" y="444.88" width="2.9" height="1.85" rx="0.7" fill="#E64B35"/>
<rect x="605.21" y="445.18" width="2.9" height="1.85" rx="0.7" fill="#4DBBD5"/>
<rect x="612.09" y="445.18" width="2.9" height="1.85" rx="0.7" fill="#00A087"/>
<rect x="618.97" y="445.18" width="2.9" height="1.85" rx="0.7" fill="#3C5488"/>
<rect x="625.86" y="445.18" width="2.9" height="1.85" rx="0.7" fill="#F39B7F"/>
<polygon points="599.77,440.6 600.39,442.25 602.15,442.33 600.77,443.42 601.24,445.12 599.77,444.15 598.3,445.12 598.77,443.42 597.39,442.33 599.15,442.25" fill="#ff1a1a"/>
<line x1="637.41" y1="463.7" x2="673.21" y2="463.7" stroke="#ebebeb" stroke-width="0.6"/>
<line x1="637.41" y1="453.7" x2="673.21" y2="453.7" stroke="#ebebeb" stroke-width="0.6"/>
<line x1="637.41" y1="443.7" x2="673.21" y2="443.7" stroke="#ebebeb" stroke-width="0.6"/>
<line x1="637.41" y1="458.7" x2="673.21" y2="458.7" stroke="#e2e2e2" stroke-width="0.9"/>
<line x1="637.41" y1="448.7" x2="673.21" y2="448.7" stroke="#e2e2e2" stroke-width="0.9"/>
<line x1="637.41" y1="438.7" x2="673.21" y2="438.7" stroke="#e2e2e2" stroke-width="0.9"/>
<line x1="641.54" y1="438.3" x2="641.54" y2="464.6" stroke="#e2e2e2" stroke-width="0.9"/>
<line x1="648.43" y1="438.3" x2="648.43" y2="464.6" stroke="#e2e2e2" stroke-width="0.9"/>
<line x1="655.31" y1="438.3" x2="655.31" y2="464.6" stroke="#e2e2e2" stroke-width="0.9"/>
<line x1="662.19" y1="438.3" x2="662.19" y2="464.6" stroke="#e2e2e2" stroke-width="0.9"/>
<line x1="669.08" y1="438.3" x2="669.08" y2="464.6" stroke="#e2e2e2" stroke-width="0.9"/>
<rect x="640.09" y="448.38" width="2.9" height="1.85" rx="0.7" fill="#E64B35"/>
<rect x="646.98" y="447.08" width="2.9" height="1.85" rx="0.7" fill="#4DBBD5"/>
<rect x="653.86" y="446.88" width="2.9" height="1.85" rx="0.7" fill="#00A087"/>
<rect x="660.74" y="446.48" width="2.9" height="1.85" rx="0.7" fill="#3C5488"/>
<rect x="667.63" y="445.28" width="2.9" height="1.85" rx="0.7" fill="#F39B7F"/>
<polygon points="669.08,441 669.7,442.65 671.46,442.73 670.08,443.82 670.55,445.52 669.08,444.55 667.61,445.52 668.08,443.82 666.7,442.73 668.46,442.65" fill="#ff1a1a"/>
<text transform="translate(678.41,485.55) rotate(90)" font-size="7.6" text-anchor="middle" fill="#1a1a1a" stroke="#1a1a1a">Mathews</text>
<text x="506.6" y="473.9" font-size="7.5" text-anchor="end" fill="#333333" stroke="#333333">1.0</text>
<text x="506.6" y="483.9" font-size="7.5" text-anchor="end" fill="#333333" stroke="#333333">0.5</text>
<text x="506.6" y="493.9" font-size="7.5" text-anchor="end" fill="#333333" stroke="#333333">0.0</text>
<line x1="512.1" y1="496.3" x2="547.9" y2="496.3" stroke="#ebebeb" stroke-width="0.6"/>
<line x1="512.1" y1="486.3" x2="547.9" y2="486.3" stroke="#ebebeb" stroke-width="0.6"/>
<line x1="512.1" y1="476.3" x2="547.9" y2="476.3" stroke="#ebebeb" stroke-width="0.6"/>
<line x1="512.1" y1="491.3" x2="547.9" y2="491.3" stroke="#e2e2e2" stroke-width="0.9"/>
<line x1="512.1" y1="481.3" x2="547.9" y2="481.3" stroke="#e2e2e2" stroke-width="0.9"/>
<line x1="512.1" y1="471.3" x2="547.9" y2="471.3" stroke="#e2e2e2" stroke-width="0.9"/>
<line x1="516.23" y1="470.9" x2="516.23" y2="497.2" stroke="#e2e2e2" stroke-width="0.9"/>
<line x1="523.12" y1="470.9" x2="523.12" y2="497.2" stroke="#e2e2e2" stroke-width="0.9"/>
<line x1="530" y1="470.9" x2="530" y2="497.2" stroke="#e2e2e2" stroke-width="0.9"/>
<line x1="536.88" y1="470.9" x2="536.88" y2="497.2" stroke="#e2e2e2" stroke-width="0.9"/>
<line x1="543.77" y1="470.9" x2="543.77" y2="497.2" stroke="#e2e2e2" stroke-width="0.9"/>
<rect x="514.78" y="475.38" width="2.9" height="1.85" rx="0.7" fill="#E64B35"/>
<rect x="521.67" y="473.78" width="2.9" height="1.85" rx="0.7" fill="#4DBBD5"/>
<rect x="528.55" y="473.48" width="2.9" height="1.85" rx="0.7" fill="#00A087"/>
<rect x="535.43" y="472.88" width="2.9" height="1.85" rx="0.7" fill="#3C5488"/>
<rect x="542.32" y="472.88" width="2.9" height="1.85" rx="0.7" fill="#F39B7F"/>
<polygon points="536.88,468.6 537.5,470.25 539.26,470.33 537.88,471.42 538.35,473.12 536.88,472.15 535.42,473.12 535.89,471.42 534.51,470.33 536.27,470.25" fill="#ff1a1a"/>
<line x1="553.87" y1="496.3" x2="589.67" y2="496.3" stroke="#ebebeb" stroke-width="0.6"/>
<line x1="553.87" y1="486.3" x2="589.67" y2="486.3" stroke="#ebebeb" stroke-width="0.6"/>
<line x1="553.87" y1="476.3" x2="589.67" y2="476.3" stroke="#ebebeb" stroke-width="0.6"/>
<line x1="553.87" y1="491.3" x2="589.67" y2="491.3" stroke="#e2e2e2" stroke-width="0.9"/>
<line x1="553.87" y1="481.3" x2="589.67" y2="481.3" stroke="#e2e2e2" stroke-width="0.9"/>
<line x1="553.87" y1="471.3" x2="589.67" y2="471.3" stroke="#e2e2e2" stroke-width="0.9"/>
<line x1="558" y1="470.9" x2="558" y2="497.2" stroke="#e2e2e2" stroke-width="0.9"/>
<line x1="564.89" y1="470.9" x2="564.89" y2="497.2" stroke="#e2e2e2" stroke-width="0.9"/>
<line x1="571.77" y1="470.9" x2="571.77" y2="497.2" stroke="#e2e2e2" stroke-width="0.9"/>
<line x1="578.65" y1="470.9" x2="578.65" y2="497.2" stroke="#e2e2e2" stroke-width="0.9"/>
<line x1="585.54" y1="470.9" x2="585.54" y2="497.2" stroke="#e2e2e2" stroke-width="0.9"/>
<rect x="556.55" y="477.98" width="2.9" height="1.85" rx="0.7" fill="#E64B35"/>
<rect x="563.44" y="474.88" width="2.9" height="1.85" rx="0.7" fill="#4DBBD5"/>
<rect x="570.32" y="475.08" width="2.9" height="1.85" rx="0.7" fill="#00A087"/>
<rect x="577.2" y="474.48" width="2.9" height="1.85" rx="0.7" fill="#3C5488"/>
<rect x="584.09" y="475.78" width="2.9" height="1.85" rx="0.7" fill="#F39B7F"/>
<polygon points="578.65,470.2 579.27,471.85 581.03,471.93 579.65,473.02 580.12,474.72 578.65,473.75 577.19,474.72 577.66,473.02 576.28,471.93 578.04,471.85" fill="#ff1a1a"/>
<line x1="595.64" y1="496.3" x2="631.44" y2="496.3" stroke="#ebebeb" stroke-width="0.6"/>
<line x1="595.64" y1="486.3" x2="631.44" y2="486.3" stroke="#ebebeb" stroke-width="0.6"/>
<line x1="595.64" y1="476.3" x2="631.44" y2="476.3" stroke="#ebebeb" stroke-width="0.6"/>
<line x1="595.64" y1="491.3" x2="631.44" y2="491.3" stroke="#e2e2e2" stroke-width="0.9"/>
<line x1="595.64" y1="481.3" x2="631.44" y2="481.3" stroke="#e2e2e2" stroke-width="0.9"/>
<line x1="595.64" y1="471.3" x2="631.44" y2="471.3" stroke="#e2e2e2" stroke-width="0.9"/>
<line x1="599.77" y1="470.9" x2="599.77" y2="497.2" stroke="#e2e2e2" stroke-width="0.9"/>
<line x1="606.66" y1="470.9" x2="606.66" y2="497.2" stroke="#e2e2e2" stroke-width="0.9"/>
<line x1="613.54" y1="470.9" x2="613.54" y2="497.2" stroke="#e2e2e2" stroke-width="0.9"/>
<line x1="620.42" y1="470.9" x2="620.42" y2="497.2" stroke="#e2e2e2" stroke-width="0.9"/>
<line x1="627.31" y1="470.9" x2="627.31" y2="497.2" stroke="#e2e2e2" stroke-width="0.9"/>
<rect x="598.32" y="481.38" width="2.9" height="1.85" rx="0.7" fill="#E64B35"/>
<rect x="605.21" y="478.68" width="2.9" height="1.85" rx="0.7" fill="#4DBBD5"/>
<line x1="613.54" y1="490" x2="613.54" y2="495.6" stroke="#00A087" stroke-width="0.8"/>
<ellipse cx="613.54" cy="492.8" rx="1.6" ry="1.45" fill="#00A087"/>
<line x1="620.42" y1="490" x2="620.42" y2="495.6" stroke="#3C5488" stroke-width="0.8"/>
<ellipse cx="620.42" cy="492.8" rx="1.6" ry="1.45" fill="#3C5488"/>
<line x1="627.31" y1="490.3" x2="627.31" y2="495.3" stroke="#F39B7F" stroke-width="0.8"/>
<ellipse cx="627.31" cy="492.8" rx="1.6" ry="1.45" fill="#F39B7F"/>
<polygon points="606.66,474.4 607.27,476.05 609.03,476.13 607.65,477.22 608.12,478.92 606.66,477.95 605.19,478.92 605.66,477.22 604.28,476.13 606.04,476.05" fill="#ff1a1a"/>
<line x1="637.41" y1="496.3" x2="673.21" y2="496.3" stroke="#ebebeb" stroke-width="0.6"/>
<line x1="637.41" y1="486.3" x2="673.21" y2="486.3" stroke="#ebebeb" stroke-width="0.6"/>
<line x1="637.41" y1="476.3" x2="673.21" y2="476.3" stroke="#ebebeb" stroke-width="0.6"/>
<line x1="637.41" y1="491.3" x2="673.21" y2="491.3" stroke="#e2e2e2" stroke-width="0.9"/>
<line x1="637.41" y1="481.3" x2="673.21" y2="481.3" stroke="#e2e2e2" stroke-width="0.9"/>
<line x1="637.41" y1="471.3" x2="673.21" y2="471.3" stroke="#e2e2e2" stroke-width="0.9"/>
<line x1="641.54" y1="470.9" x2="641.54" y2="497.2" stroke="#e2e2e2" stroke-width="0.9"/>
<line x1="648.43" y1="470.9" x2="648.43" y2="497.2" stroke="#e2e2e2" stroke-width="0.9"/>
<line x1="655.31" y1="470.9" x2="655.31" y2="497.2" stroke="#e2e2e2" stroke-width="0.9"/>
<line x1="662.19" y1="470.9" x2="662.19" y2="497.2" stroke="#e2e2e2" stroke-width="0.9"/>
<line x1="669.08" y1="470.9" x2="669.08" y2="497.2" stroke="#e2e2e2" stroke-width="0.9"/>
<rect x="640.09" y="472.18" width="2.9" height="1.85" rx="0.7" fill="#E64B35"/>
<rect x="646.98" y="471.78" width="2.9" height="1.85" rx="0.7" fill="#4DBBD5"/>
<rect x="653.86" y="471.78" width="2.9" height="1.85" rx="0.7" fill="#00A087"/>
<rect x="660.74" y="471.58" width="2.9" height="1.85" rx="0.7" fill="#3C5488"/>
<rect x="667.63" y="471.18" width="2.9" height="1.85" rx="0.7" fill="#F39B7F"/>
<polygon points="669.08,466.9 669.7,468.55 671.46,468.63 670.08,469.72 670.55,471.42 669.08,470.45 667.61,471.42 668.08,469.72 666.7,468.63 668.46,468.55" fill="#ff1a1a"/>
<text transform="translate(510.83,503.8) rotate(90)" font-size="7.4" style="stroke-width:0.32px" fill="#333333" stroke="#333333">M1</text>
<text transform="translate(517.72,503.8) rotate(90)" font-size="7.4" style="stroke-width:0.32px" fill="#333333" stroke="#333333">M5</text>
<text transform="translate(524.6,503.8) rotate(90)" font-size="7.4" style="stroke-width:0.32px" fill="#333333" stroke="#333333">M6</text>
<text transform="translate(531.48,503.8) rotate(90)" font-size="7.4" style="stroke-width:0.32px" fill="#333333" stroke="#333333">M11</text>
<text transform="translate(538.37,503.8) rotate(90)" font-size="7.4" style="stroke-width:0.32px" fill="#333333" stroke="#333333">M12</text>
<text transform="translate(552.6,503.8) rotate(90)" font-size="7.4" style="stroke-width:0.32px" fill="#333333" stroke="#333333">M1</text>
<text transform="translate(559.49,503.8) rotate(90)" font-size="7.4" style="stroke-width:0.32px" fill="#333333" stroke="#333333">M5</text>
<text transform="translate(566.37,503.8) rotate(90)" font-size="7.4" style="stroke-width:0.32px" fill="#333333" stroke="#333333">M6</text>
<text transform="translate(573.25,503.8) rotate(90)" font-size="7.4" style="stroke-width:0.32px" fill="#333333" stroke="#333333">M11</text>
<text transform="translate(580.14,503.8) rotate(90)" font-size="7.4" style="stroke-width:0.32px" fill="#333333" stroke="#333333">M12</text>
<text transform="translate(594.37,503.8) rotate(90)" font-size="7.4" style="stroke-width:0.32px" fill="#333333" stroke="#333333">M1</text>
<text transform="translate(601.26,503.8) rotate(90)" font-size="7.4" style="stroke-width:0.32px" fill="#333333" stroke="#333333">M5</text>
<text transform="translate(608.14,503.8) rotate(90)" font-size="7.4" style="stroke-width:0.32px" fill="#333333" stroke="#333333">M6</text>
<text transform="translate(615.02,503.8) rotate(90)" font-size="7.4" style="stroke-width:0.32px" fill="#333333" stroke="#333333">M11</text>
<text transform="translate(621.91,503.8) rotate(90)" font-size="7.4" style="stroke-width:0.32px" fill="#333333" stroke="#333333">M12</text>
<text transform="translate(636.14,503.8) rotate(90)" font-size="7.4" style="stroke-width:0.32px" fill="#333333" stroke="#333333">M1</text>
<text transform="translate(643.03,503.8) rotate(90)" font-size="7.4" style="stroke-width:0.32px" fill="#333333" stroke="#333333">M5</text>
<text transform="translate(649.91,503.8) rotate(90)" font-size="7.4" style="stroke-width:0.32px" fill="#333333" stroke="#333333">M6</text>
<text transform="translate(656.79,503.8) rotate(90)" font-size="7.4" style="stroke-width:0.32px" fill="#333333" stroke="#333333">M11</text>
<text transform="translate(663.68,503.8) rotate(90)" font-size="7.4" style="stroke-width:0.32px" fill="#333333" stroke="#333333">M12</text>
<text transform="translate(491.6,435.15) rotate(-90)" font-size="8.8" text-anchor="middle" fill="#1a1a1a" stroke="#1a1a1a">Pearson's r</text>
<text x="123.2" y="532.7" font-size="14.6" font-weight="bold" fill="#000" stroke="#000">d</text>
<rect x="163.6" y="536.3" width="30.66" height="30.6" fill="#8c6ef5" stroke="#9a9a9a" stroke-width="0.6"/>
<text x="178.93" y="549.4" font-size="6.7" text-anchor="middle" fill="#1a1a1a" style="stroke-width:0.06px" stroke="#1a1a1a">p<0.01</text>
<text x="178.93" y="559.9" font-size="6.7" text-anchor="middle" fill="#1a1a1a" style="stroke-width:0.06px" stroke="#1a1a1a">PR=99%</text>
<rect x="194.26" y="536.3" width="30.66" height="30.6" fill="#0000e6" stroke="#9a9a9a" stroke-width="0.6"/>
<text x="209.59" y="549.4" font-size="6.7" text-anchor="middle" fill="#1a1a1a" style="stroke-width:0.06px" stroke="#1a1a1a">p<0.01</text>
<text x="209.59" y="559.9" font-size="6.7" text-anchor="middle" fill="#1a1a1a" style="stroke-width:0.06px" stroke="#1a1a1a">PR=98%</text>
<rect x="224.92" y="536.3" width="30.66" height="30.6" fill="#ebe1fa" stroke="#9a9a9a" stroke-width="0.6"/>
<text x="240.25" y="549.4" font-size="6.7" text-anchor="middle" fill="#1a1a1a" style="stroke-width:0.06px" stroke="#1a1a1a">p=0.01</text>
<text x="240.25" y="559.9" font-size="6.7" text-anchor="middle" fill="#1a1a1a" style="stroke-width:0.06px" stroke="#1a1a1a">PR=100%</text>
<rect x="255.58" y="536.3" width="30.66" height="30.6" fill="#9173f5" stroke="#9a9a9a" stroke-width="0.6"/>
<text x="270.91" y="549.4" font-size="6.7" text-anchor="middle" fill="#1a1a1a" style="stroke-width:0.06px" stroke="#1a1a1a">p<0.01</text>
<text x="270.91" y="559.9" font-size="6.7" text-anchor="middle" fill="#1a1a1a" style="stroke-width:0.06px" stroke="#1a1a1a">PR=99%</text>
<rect x="286.24" y="536.3" width="30.66" height="30.6" fill="#ffffff" stroke="#9a9a9a" stroke-width="0.6"/>
<text x="301.57" y="549.4" font-size="6.7" text-anchor="middle" fill="#1a1a1a" style="stroke-width:0.06px" stroke="#1a1a1a">p=NaN</text>
<text x="301.57" y="559.9" font-size="6.7" text-anchor="middle" fill="#1a1a1a" style="stroke-width:0.06px" stroke="#1a1a1a">PR=100%</text>
<rect x="163.6" y="566.9" width="30.66" height="30.6" fill="#f3eefc" stroke="#9a9a9a" stroke-width="0.6"/>
<text x="178.93" y="580" font-size="6.7" text-anchor="middle" fill="#1a1a1a" style="stroke-width:0.06px" stroke="#1a1a1a">p=0.74</text>
<text x="178.93" y="590.5" font-size="6.7" text-anchor="middle" fill="#1a1a1a" style="stroke-width:0.06px" stroke="#1a1a1a">PR=100%</text>
<rect x="194.26" y="566.9" width="30.66" height="30.6" fill="#b4a0f8" stroke="#9a9a9a" stroke-width="0.6"/>
<text x="209.59" y="580" font-size="6.7" text-anchor="middle" fill="#1a1a1a" style="stroke-width:0.06px" stroke="#1a1a1a">p<0.01</text>
<text x="209.59" y="590.5" font-size="6.7" text-anchor="middle" fill="#1a1a1a" style="stroke-width:0.06px" stroke="#1a1a1a">PR=99%</text>
<rect x="224.92" y="566.9" width="30.66" height="30.6" fill="#faaa91" stroke="#9a9a9a" stroke-width="0.6"/>
<text x="240.25" y="580" font-size="6.7" text-anchor="middle" fill="#1a1a1a" style="stroke-width:0.06px" stroke="#1a1a1a">p=0.01</text>
<text x="240.25" y="590.5" font-size="6.7" text-anchor="middle" fill="#1a1a1a" style="stroke-width:0.06px" stroke="#1a1a1a">PR=101%</text>
<rect x="255.58" y="566.9" width="30.66" height="30.6" fill="#ffffff" stroke="#9a9a9a" stroke-width="0.6"/>
<text x="270.91" y="580" font-size="6.7" text-anchor="middle" fill="#1a1a1a" style="stroke-width:0.06px" stroke="#1a1a1a">p=NaN</text>
<text x="270.91" y="590.5" font-size="6.7" text-anchor="middle" fill="#1a1a1a" style="stroke-width:0.06px" stroke="#1a1a1a">PR=100%</text>
<rect x="286.24" y="566.9" width="30.66" height="30.6" fill="#f88769" stroke="#9a9a9a" stroke-width="0.6"/>
<text x="301.57" y="580" font-size="6.7" text-anchor="middle" fill="#1a1a1a" style="stroke-width:0.06px" stroke="#1a1a1a">p<0.01</text>
<text x="301.57" y="590.5" font-size="6.7" text-anchor="middle" fill="#1a1a1a" style="stroke-width:0.06px" stroke="#1a1a1a">PR=101%</text>
<rect x="163.6" y="597.5" width="30.66" height="30.6" fill="#9b7df7" stroke="#9a9a9a" stroke-width="0.6"/>
<text x="178.93" y="610.6" font-size="6.7" text-anchor="middle" fill="#1a1a1a" style="stroke-width:0.06px" stroke="#1a1a1a">p<0.01</text>
<text x="178.93" y="621.1" font-size="6.7" text-anchor="middle" fill="#1a1a1a" style="stroke-width:0.06px" stroke="#1a1a1a">PR=99%</text>
<rect x="194.26" y="597.5" width="30.66" height="30.6" fill="#4632f0" stroke="#9a9a9a" stroke-width="0.6"/>
<text x="209.59" y="610.6" font-size="6.7" text-anchor="middle" fill="#1a1a1a" style="stroke-width:0.06px" stroke="#1a1a1a">p<0.01</text>
<text x="209.59" y="621.1" font-size="6.7" text-anchor="middle" fill="#1a1a1a" style="stroke-width:0.06px" stroke="#1a1a1a">PR=98%</text>
<rect x="224.92" y="597.5" width="30.66" height="30.6" fill="#ffffff" stroke="#9a9a9a" stroke-width="0.6"/>
<text x="240.25" y="610.6" font-size="6.7" text-anchor="middle" fill="#1a1a1a" style="stroke-width:0.06px" stroke="#1a1a1a">p=NaN</text>
<text x="240.25" y="621.1" font-size="6.7" text-anchor="middle" fill="#1a1a1a" style="stroke-width:0.06px" stroke="#1a1a1a">PR=100%</text>
<rect x="255.58" y="597.5" width="30.66" height="30.6" fill="#af96f8" stroke="#9a9a9a" stroke-width="0.6"/>
<text x="270.91" y="610.6" font-size="6.7" text-anchor="middle" fill="#1a1a1a" style="stroke-width:0.06px" stroke="#1a1a1a">p=0.01</text>
<text x="270.91" y="621.1" font-size="6.7" text-anchor="middle" fill="#1a1a1a" style="stroke-width:0.06px" stroke="#1a1a1a">PR=99%</text>
<rect x="286.24" y="597.5" width="30.66" height="30.6" fill="#fde4da" stroke="#9a9a9a" stroke-width="0.6"/>
<text x="301.57" y="610.6" font-size="6.7" text-anchor="middle" fill="#1a1a1a" style="stroke-width:0.06px" stroke="#1a1a1a">p=0.01</text>
<text x="301.57" y="621.1" font-size="6.7" text-anchor="middle" fill="#1a1a1a" style="stroke-width:0.06px" stroke="#1a1a1a">PR=100%</text>
<rect x="163.6" y="628.1" width="30.66" height="30.6" fill="#fcb9a5" stroke="#9a9a9a" stroke-width="0.6"/>
<text x="178.93" y="641.2" font-size="6.7" text-anchor="middle" fill="#1a1a1a" style="stroke-width:0.06px" stroke="#1a1a1a">p=0.17</text>
<text x="178.93" y="651.7" font-size="6.7" text-anchor="middle" fill="#1a1a1a" style="stroke-width:0.06px" stroke="#1a1a1a">PR=101%</text>
<rect x="194.26" y="628.1" width="30.66" height="30.6" fill="#ffffff" stroke="#9a9a9a" stroke-width="0.6"/>
<text x="209.59" y="641.2" font-size="6.7" text-anchor="middle" fill="#1a1a1a" style="stroke-width:0.06px" stroke="#1a1a1a">p=NaN</text>
<text x="209.59" y="651.7" font-size="6.7" text-anchor="middle" fill="#1a1a1a" style="stroke-width:0.06px" stroke="#1a1a1a">PR=100%</text>
<rect x="224.92" y="628.1" width="30.66" height="30.6" fill="#f0502d" stroke="#9a9a9a" stroke-width="0.6"/>
<text x="240.25" y="641.2" font-size="6.7" text-anchor="middle" fill="#1a1a1a" style="stroke-width:0.06px" stroke="#1a1a1a">p<0.01</text>
<text x="240.25" y="651.7" font-size="6.7" text-anchor="middle" fill="#1a1a1a" style="stroke-width:0.06px" stroke="#1a1a1a">PR=102%</text>
<rect x="255.58" y="628.1" width="30.66" height="30.6" fill="#faa58c" stroke="#9a9a9a" stroke-width="0.6"/>
<text x="270.91" y="641.2" font-size="6.7" text-anchor="middle" fill="#1a1a1a" style="stroke-width:0.06px" stroke="#1a1a1a">p<0.01</text>
<text x="270.91" y="651.7" font-size="6.7" text-anchor="middle" fill="#1a1a1a" style="stroke-width:0.06px" stroke="#1a1a1a">PR=101%</text>
<rect x="286.24" y="628.1" width="30.66" height="30.6" fill="#f50000" stroke="#9a9a9a" stroke-width="0.6"/>
<text x="301.57" y="641.2" font-size="6.7" text-anchor="middle" fill="#1a1a1a" style="stroke-width:0.06px" stroke="#1a1a1a">p<0.01</text>
<text x="301.57" y="651.7" font-size="6.7" text-anchor="middle" fill="#1a1a1a" style="stroke-width:0.06px" stroke="#1a1a1a">PR=102%</text>
<rect x="163.6" y="658.7" width="30.66" height="30.5" fill="#ffffff" stroke="#9a9a9a" stroke-width="0.6"/>
<text x="178.93" y="671.75" font-size="6.7" text-anchor="middle" fill="#1a1a1a" style="stroke-width:0.06px" stroke="#1a1a1a">p=NaN</text>
<text x="178.93" y="682.25" font-size="6.7" text-anchor="middle" fill="#1a1a1a" style="stroke-width:0.06px" stroke="#1a1a1a">PR=100%</text>
<rect x="194.26" y="658.7" width="30.66" height="30.5" fill="#c8b9fa" stroke="#9a9a9a" stroke-width="0.6"/>
<text x="209.59" y="671.75" font-size="6.7" text-anchor="middle" fill="#1a1a1a" style="stroke-width:0.06px" stroke="#1a1a1a">p=0.17</text>
<text x="209.59" y="682.25" font-size="6.7" text-anchor="middle" fill="#1a1a1a" style="stroke-width:0.06px" stroke="#1a1a1a">PR=99%</text>
<rect x="224.92" y="658.7" width="30.66" height="30.5" fill="#f89678" stroke="#9a9a9a" stroke-width="0.6"/>
<text x="240.25" y="671.75" font-size="6.7" text-anchor="middle" fill="#1a1a1a" style="stroke-width:0.06px" stroke="#1a1a1a">p<0.01</text>
<text x="240.25" y="682.25" font-size="6.7" text-anchor="middle" fill="#1a1a1a" style="stroke-width:0.06px" stroke="#1a1a1a">PR=101%</text>
<rect x="255.58" y="658.7" width="30.66" height="30.5" fill="#feeee8" stroke="#9a9a9a" stroke-width="0.6"/>
<text x="270.91" y="671.75" font-size="6.7" text-anchor="middle" fill="#1a1a1a" style="stroke-width:0.06px" stroke="#1a1a1a">p=0.74</text>
<text x="270.91" y="682.25" font-size="6.7" text-anchor="middle" fill="#1a1a1a" style="stroke-width:0.06px" stroke="#1a1a1a">PR=100%</text>
<rect x="286.24" y="658.7" width="30.66" height="30.5" fill="#f57d5a" stroke="#9a9a9a" stroke-width="0.6"/>
<text x="301.57" y="671.75" font-size="6.7" text-anchor="middle" fill="#1a1a1a" style="stroke-width:0.06px" stroke="#1a1a1a">p<0.01</text>
<text x="301.57" y="682.25" font-size="6.7" text-anchor="middle" fill="#1a1a1a" style="stroke-width:0.06px" stroke="#1a1a1a">PR=101%</text>
<text x="159.6" y="554.2" font-size="7.4" text-anchor="end" fill="#333" stroke="#333">M12</text>
<line x1="161.1" y1="551.6" x2="163.6" y2="551.6" stroke="#333" stroke-width="0.6"/>
<text x="159.6" y="584.8" font-size="7.4" text-anchor="end" fill="#333" stroke="#333">M11</text>
<line x1="161.1" y1="582.2" x2="163.6" y2="582.2" stroke="#333" stroke-width="0.6"/>
<text x="159.6" y="615.4" font-size="7.4" text-anchor="end" fill="#333" stroke="#333">M6</text>
<line x1="161.1" y1="612.8" x2="163.6" y2="612.8" stroke="#333" stroke-width="0.6"/>
<text x="159.6" y="646" font-size="7.4" text-anchor="end" fill="#333" stroke="#333">M5</text>
<line x1="161.1" y1="643.4" x2="163.6" y2="643.4" stroke="#333" stroke-width="0.6"/>
<text x="159.6" y="676.55" font-size="7.4" text-anchor="end" fill="#333" stroke="#333">M1</text>
<line x1="161.1" y1="673.95" x2="163.6" y2="673.95" stroke="#333" stroke-width="0.6"/>
<line x1="178.93" y1="689" x2="178.93" y2="691.3" stroke="#333" stroke-width="0.6"/>
<text x="178.93" y="698.6" font-size="7.4" text-anchor="middle" fill="#333" stroke="#333">M1</text>
<line x1="209.59" y1="689" x2="209.59" y2="691.3" stroke="#333" stroke-width="0.6"/>
<text x="209.59" y="698.6" font-size="7.4" text-anchor="middle" fill="#333" stroke="#333">M5</text>
<line x1="240.25" y1="689" x2="240.25" y2="691.3" stroke="#333" stroke-width="0.6"/>
<text x="240.25" y="698.6" font-size="7.4" text-anchor="middle" fill="#333" stroke="#333">M6</text>
<line x1="270.91" y1="689" x2="270.91" y2="691.3" stroke="#333" stroke-width="0.6"/>
<text x="270.91" y="698.6" font-size="7.4" text-anchor="middle" fill="#333" stroke="#333">M11</text>
<line x1="301.57" y1="689" x2="301.57" y2="691.3" stroke="#333" stroke-width="0.6"/>
<text x="301.57" y="698.6" font-size="7.4" text-anchor="middle" fill="#333" stroke="#333">M12</text>
<text x="235.7" y="530.5" font-size="9.9" font-weight="bold" text-anchor="middle" fill="#000" stroke="#000">intra-study</text>
<rect x="370.3" y="536.3" width="30.88" height="30.6" fill="#f5f0fd" stroke="#9a9a9a" stroke-width="0.6"/>
<text x="385.74" y="549.4" font-size="6.7" text-anchor="middle" fill="#1a1a1a" style="stroke-width:0.06px" stroke="#1a1a1a">p=0.91</text>
<text x="385.74" y="559.9" font-size="6.7" text-anchor="middle" fill="#1a1a1a" style="stroke-width:0.06px" stroke="#1a1a1a">PR=99%</text>
<rect x="401.18" y="536.3" width="30.88" height="30.6" fill="#f57350" stroke="#9a9a9a" stroke-width="0.6"/>
<text x="416.62" y="549.4" font-size="6.7" text-anchor="middle" fill="#1a1a1a" style="stroke-width:0.06px" stroke="#1a1a1a">p=0.12</text>
<text x="416.62" y="559.9" font-size="6.7" text-anchor="middle" fill="#1a1a1a" style="stroke-width:0.06px" stroke="#1a1a1a">PR=113%</text>
<rect x="432.06" y="536.3" width="30.88" height="30.6" fill="#c8b4fa" stroke="#9a9a9a" stroke-width="0.6"/>
<text x="447.5" y="549.4" font-size="6.7" text-anchor="middle" fill="#1a1a1a" style="stroke-width:0.06px" stroke="#1a1a1a">p=0.04</text>
<text x="447.5" y="559.9" font-size="6.7" text-anchor="middle" fill="#1a1a1a" style="stroke-width:0.06px" stroke="#1a1a1a">PR=94%</text>
<rect x="462.94" y="536.3" width="30.88" height="30.6" fill="#fac3af" stroke="#9a9a9a" stroke-width="0.6"/>
<text x="478.38" y="549.4" font-size="6.7" text-anchor="middle" fill="#1a1a1a" style="stroke-width:0.06px" stroke="#1a1a1a">p=0.19</text>
<text x="478.38" y="559.9" font-size="6.7" text-anchor="middle" fill="#1a1a1a" style="stroke-width:0.06px" stroke="#1a1a1a">PR=106%</text>
<rect x="493.82" y="536.3" width="30.88" height="30.6" fill="#ffffff" stroke="#9a9a9a" stroke-width="0.6"/>
<text x="509.26" y="549.4" font-size="6.7" text-anchor="middle" fill="#1a1a1a" style="stroke-width:0.06px" stroke="#1a1a1a">p=NaN</text>
<text x="509.26" y="559.9" font-size="6.7" text-anchor="middle" fill="#1a1a1a" style="stroke-width:0.06px" stroke="#1a1a1a">PR=100%</text>
<rect x="370.3" y="566.9" width="30.88" height="30.6" fill="#c3affa" stroke="#9a9a9a" stroke-width="0.6"/>
<text x="385.74" y="580" font-size="6.7" text-anchor="middle" fill="#1a1a1a" style="stroke-width:0.06px" stroke="#1a1a1a">p=0.55</text>
<text x="385.74" y="590.5" font-size="6.7" text-anchor="middle" fill="#1a1a1a" style="stroke-width:0.06px" stroke="#1a1a1a">PR=93%</text>
<rect x="401.18" y="566.9" width="30.88" height="30.6" fill="#fab9a5" stroke="#9a9a9a" stroke-width="0.6"/>
<text x="416.62" y="580" font-size="6.7" text-anchor="middle" fill="#1a1a1a" style="stroke-width:0.06px" stroke="#1a1a1a">p=0.39</text>
<text x="416.62" y="590.5" font-size="6.7" text-anchor="middle" fill="#1a1a1a" style="stroke-width:0.06px" stroke="#1a1a1a">PR=107%</text>
<rect x="432.06" y="566.9" width="30.88" height="30.6" fill="#8769f5" stroke="#9a9a9a" stroke-width="0.6"/>
<text x="447.5" y="580" font-size="6.7" text-anchor="middle" fill="#1a1a1a" style="stroke-width:0.06px" stroke="#1a1a1a">p=0.01</text>
<text x="447.5" y="590.5" font-size="6.7" text-anchor="middle" fill="#1a1a1a" style="stroke-width:0.06px" stroke="#1a1a1a">PR=88%</text>
<rect x="462.94" y="566.9" width="30.88" height="30.6" fill="#ffffff" stroke="#9a9a9a" stroke-width="0.6"/>
<text x="478.38" y="580" font-size="6.7" text-anchor="middle" fill="#1a1a1a" style="stroke-width:0.06px" stroke="#1a1a1a">p=NaN</text>
<text x="478.38" y="590.5" font-size="6.7" text-anchor="middle" fill="#1a1a1a" style="stroke-width:0.06px" stroke="#1a1a1a">PR=100%</text>
<rect x="493.82" y="566.9" width="30.88" height="30.6" fill="#c8b4fa" stroke="#9a9a9a" stroke-width="0.6"/>
<text x="509.26" y="580" font-size="6.7" text-anchor="middle" fill="#1a1a1a" style="stroke-width:0.06px" stroke="#1a1a1a">p=0.19</text>
<text x="509.26" y="590.5" font-size="6.7" text-anchor="middle" fill="#1a1a1a" style="stroke-width:0.06px" stroke="#1a1a1a">PR=94%</text>
<rect x="370.3" y="597.5" width="30.88" height="30.6" fill="#fac3af" stroke="#9a9a9a" stroke-width="0.6"/>
<text x="385.74" y="610.6" font-size="6.7" text-anchor="middle" fill="#1a1a1a" style="stroke-width:0.06px" stroke="#1a1a1a">p=0.65</text>
<text x="385.74" y="621.1" font-size="6.7" text-anchor="middle" fill="#1a1a1a" style="stroke-width:0.06px" stroke="#1a1a1a">PR=106%</text>
<rect x="401.18" y="597.5" width="30.88" height="30.6" fill="#f50000" stroke="#9a9a9a" stroke-width="0.6"/>
<text x="416.62" y="610.6" font-size="6.7" text-anchor="middle" fill="#1a1a1a" style="stroke-width:0.06px" stroke="#1a1a1a">p=0.02</text>
<text x="416.62" y="621.1" font-size="6.7" text-anchor="middle" fill="#1a1a1a" style="stroke-width:0.06px" stroke="#1a1a1a">PR=121%</text>
<rect x="432.06" y="597.5" width="30.88" height="30.6" fill="#ffffff" stroke="#9a9a9a" stroke-width="0.6"/>
<text x="447.5" y="610.6" font-size="6.7" text-anchor="middle" fill="#1a1a1a" style="stroke-width:0.06px" stroke="#1a1a1a">p=NaN</text>
<text x="447.5" y="621.1" font-size="6.7" text-anchor="middle" fill="#1a1a1a" style="stroke-width:0.06px" stroke="#1a1a1a">PR=100%</text>
<rect x="462.94" y="597.5" width="30.88" height="30.6" fill="#f56e4b" stroke="#9a9a9a" stroke-width="0.6"/>
<text x="478.38" y="610.6" font-size="6.7" text-anchor="middle" fill="#1a1a1a" style="stroke-width:0.06px" stroke="#1a1a1a">p=0.01</text>
<text x="478.38" y="621.1" font-size="6.7" text-anchor="middle" fill="#1a1a1a" style="stroke-width:0.06px" stroke="#1a1a1a">PR=114%</text>
<rect x="493.82" y="597.5" width="30.88" height="30.6" fill="#fab4a0" stroke="#9a9a9a" stroke-width="0.6"/>
<text x="509.26" y="610.6" font-size="6.7" text-anchor="middle" fill="#1a1a1a" style="stroke-width:0.06px" stroke="#1a1a1a">p=0.04</text>
<text x="509.26" y="621.1" font-size="6.7" text-anchor="middle" fill="#1a1a1a" style="stroke-width:0.06px" stroke="#1a1a1a">PR=107%</text>
<rect x="370.3" y="628.1" width="30.88" height="30.6" fill="#785af5" stroke="#9a9a9a" stroke-width="0.6"/>
<text x="385.74" y="641.2" font-size="6.7" text-anchor="middle" fill="#1a1a1a" style="stroke-width:0.06px" stroke="#1a1a1a">p=0.15</text>
<text x="385.74" y="651.7" font-size="6.7" text-anchor="middle" fill="#1a1a1a" style="stroke-width:0.06px" stroke="#1a1a1a">PR=87%</text>
<rect x="401.18" y="628.1" width="30.88" height="30.6" fill="#ffffff" stroke="#9a9a9a" stroke-width="0.6"/>
<text x="416.62" y="641.2" font-size="6.7" text-anchor="middle" fill="#1a1a1a" style="stroke-width:0.06px" stroke="#1a1a1a">p=NaN</text>
<text x="416.62" y="651.7" font-size="6.7" text-anchor="middle" fill="#1a1a1a" style="stroke-width:0.06px" stroke="#1a1a1a">PR=100%</text>
<rect x="432.06" y="628.1" width="30.88" height="30.6" fill="#0000eb" stroke="#9a9a9a" stroke-width="0.6"/>
<text x="447.5" y="641.2" font-size="6.7" text-anchor="middle" fill="#1a1a1a" style="stroke-width:0.06px" stroke="#1a1a1a">p=0.02</text>
<text x="447.5" y="651.7" font-size="6.7" text-anchor="middle" fill="#1a1a1a" style="stroke-width:0.06px" stroke="#1a1a1a">PR=82%</text>
<rect x="462.94" y="628.1" width="30.88" height="30.6" fill="#c8b4fa" stroke="#9a9a9a" stroke-width="0.6"/>
<text x="478.38" y="641.2" font-size="6.7" text-anchor="middle" fill="#1a1a1a" style="stroke-width:0.06px" stroke="#1a1a1a">p=0.39</text>
<text x="478.38" y="651.7" font-size="6.7" text-anchor="middle" fill="#1a1a1a" style="stroke-width:0.06px" stroke="#1a1a1a">PR=94%</text>
<rect x="493.82" y="628.1" width="30.88" height="30.6" fill="#8264f5" stroke="#9a9a9a" stroke-width="0.6"/>
<text x="509.26" y="641.2" font-size="6.7" text-anchor="middle" fill="#1a1a1a" style="stroke-width:0.06px" stroke="#1a1a1a">p=0.12</text>
<text x="509.26" y="651.7" font-size="6.7" text-anchor="middle" fill="#1a1a1a" style="stroke-width:0.06px" stroke="#1a1a1a">PR=88%</text>
<rect x="370.3" y="658.7" width="30.88" height="30.5" fill="#ffffff" stroke="#9a9a9a" stroke-width="0.6"/>
<text x="385.74" y="671.75" font-size="6.7" text-anchor="middle" fill="#1a1a1a" style="stroke-width:0.06px" stroke="#1a1a1a">p=NaN</text>
<text x="385.74" y="682.25" font-size="6.7" text-anchor="middle" fill="#1a1a1a" style="stroke-width:0.06px" stroke="#1a1a1a">PR=100%</text>
<rect x="401.18" y="658.7" width="30.88" height="30.5" fill="#f56e4b" stroke="#9a9a9a" stroke-width="0.6"/>
<text x="416.62" y="671.75" font-size="6.7" text-anchor="middle" fill="#1a1a1a" style="stroke-width:0.06px" stroke="#1a1a1a">p=0.15</text>
<text x="416.62" y="682.25" font-size="6.7" text-anchor="middle" fill="#1a1a1a" style="stroke-width:0.06px" stroke="#1a1a1a">PR=115%</text>
<rect x="432.06" y="658.7" width="30.88" height="30.5" fill="#cdbefa" stroke="#9a9a9a" stroke-width="0.6"/>
<text x="447.5" y="671.75" font-size="6.7" text-anchor="middle" fill="#1a1a1a" style="stroke-width:0.06px" stroke="#1a1a1a">p=0.65</text>
<text x="447.5" y="682.25" font-size="6.7" text-anchor="middle" fill="#1a1a1a" style="stroke-width:0.06px" stroke="#1a1a1a">PR=95%</text>
<rect x="462.94" y="658.7" width="30.88" height="30.5" fill="#faaf96" stroke="#9a9a9a" stroke-width="0.6"/>
<text x="478.38" y="671.75" font-size="6.7" text-anchor="middle" fill="#1a1a1a" style="stroke-width:0.06px" stroke="#1a1a1a">p=0.55</text>
<text x="478.38" y="682.25" font-size="6.7" text-anchor="middle" fill="#1a1a1a" style="stroke-width:0.06px" stroke="#1a1a1a">PR=108%</text>
<rect x="493.82" y="658.7" width="30.88" height="30.5" fill="#fdf0eb" stroke="#9a9a9a" stroke-width="0.6"/>
<text x="509.26" y="671.75" font-size="6.7" text-anchor="middle" fill="#1a1a1a" style="stroke-width:0.06px" stroke="#1a1a1a">p=0.91</text>
<text x="509.26" y="682.25" font-size="6.7" text-anchor="middle" fill="#1a1a1a" style="stroke-width:0.06px" stroke="#1a1a1a">PR=101%</text>
<text x="366.3" y="554.2" font-size="7.4" text-anchor="end" fill="#333" stroke="#333">M12</text>
<line x1="367.8" y1="551.6" x2="370.3" y2="551.6" stroke="#333" stroke-width="0.6"/>
<text x="366.3" y="584.8" font-size="7.4" text-anchor="end" fill="#333" stroke="#333">M11</text>
<line x1="367.8" y1="582.2" x2="370.3" y2="582.2" stroke="#333" stroke-width="0.6"/>
<text x="366.3" y="615.4" font-size="7.4" text-anchor="end" fill="#333" stroke="#333">M6</text>
<line x1="367.8" y1="612.8" x2="370.3" y2="612.8" stroke="#333" stroke-width="0.6"/>
<text x="366.3" y="646" font-size="7.4" text-anchor="end" fill="#333" stroke="#333">M5</text>
<line x1="367.8" y1="643.4" x2="370.3" y2="643.4" stroke="#333" stroke-width="0.6"/>
<text x="366.3" y="676.55" font-size="7.4" text-anchor="end" fill="#333" stroke="#333">M1</text>
<line x1="367.8" y1="673.95" x2="370.3" y2="673.95" stroke="#333" stroke-width="0.6"/>
<line x1="385.74" y1="689" x2="385.74" y2="691.3" stroke="#333" stroke-width="0.6"/>
<text x="385.74" y="698.6" font-size="7.4" text-anchor="middle" fill="#333" stroke="#333">M1</text>
<line x1="416.62" y1="689" x2="416.62" y2="691.3" stroke="#333" stroke-width="0.6"/>
<text x="416.62" y="698.6" font-size="7.4" text-anchor="middle" fill="#333" stroke="#333">M5</text>
<line x1="447.5" y1="689" x2="447.5" y2="691.3" stroke="#333" stroke-width="0.6"/>
<text x="447.5" y="698.6" font-size="7.4" text-anchor="middle" fill="#333" stroke="#333">M6</text>
<line x1="478.38" y1="689" x2="478.38" y2="691.3" stroke="#333" stroke-width="0.6"/>
<text x="478.38" y="698.6" font-size="7.4" text-anchor="middle" fill="#333" stroke="#333">M11</text>
<line x1="509.26" y1="689" x2="509.26" y2="691.3" stroke="#333" stroke-width="0.6"/>
<text x="509.26" y="698.6" font-size="7.4" text-anchor="middle" fill="#333" stroke="#333">M12</text>
<text x="450.6" y="530.5" font-size="9.9" font-weight="bold" text-anchor="middle" fill="#000" stroke="#000">inter-study</text>
<defs><linearGradient id="cb" x1="0" y1="0" x2="0" y2="1"><stop offset="0.000" stop-color="#ff0000"/><stop offset="0.050" stop-color="#ff3d21"/><stop offset="0.100" stop-color="#ff5b3a"/><stop offset="0.150" stop-color="#ff7351"/><stop offset="0.200" stop-color="#ff8868"/><stop offset="0.250" stop-color="#ff9d80"/><stop offset="0.300" stop-color="#ffb198"/><stop offset="0.350" stop-color="#ffc4b0"/><stop offset="0.400" stop-color="#ffd7c9"/><stop offset="0.450" stop-color="#ffeae3"/><stop offset="0.500" stop-color="#fffdfc"/><stop offset="0.550" stop-color="#f3eaff"/><stop offset="0.600" stop-color="#e5d3ff"/><stop offset="0.650" stop-color="#d6bcff"/><stop offset="0.700" stop-color="#c7a5ff"/><stop offset="0.750" stop-color="#b68fff"/><stop offset="0.800" stop-color="#a378ff"/><stop offset="0.850" stop-color="#8e61ff"/><stop offset="0.900" stop-color="#764aff"/><stop offset="0.950" stop-color="#5730ff"/><stop offset="1.000" stop-color="#210dff"/></linearGradient></defs>
<rect x="544.2" y="583" width="16.7" height="82" fill="url(#cb)"/>
<line x1="544.2" y1="602.8" x2="547.6" y2="602.8" stroke="#fff" stroke-width="0.6"/>
<line x1="557.6" y1="602.8" x2="560.9" y2="602.8" stroke="#fff" stroke-width="0.6"/>
<text x="563.3" y="606.4" font-size="7" fill="#1a1a1a" stroke="#1a1a1a">0.005</text>
<line x1="544.2" y1="624.5" x2="547.6" y2="624.5" stroke="#fff" stroke-width="0.6"/>
<line x1="557.6" y1="624.5" x2="560.9" y2="624.5" stroke="#fff" stroke-width="0.6"/>
<text x="563.3" y="628.1" font-size="7" fill="#1a1a1a" stroke="#1a1a1a">0.000</text>
<line x1="544.2" y1="644.6" x2="547.6" y2="644.6" stroke="#fff" stroke-width="0.6"/>
<line x1="557.6" y1="644.6" x2="560.9" y2="644.6" stroke="#fff" stroke-width="0.6"/>
<text x="563.3" y="648.2" font-size="7" fill="#1a1a1a" stroke="#1a1a1a">-0.005</text>
<text x="544.8" y="576.5" font-size="8.6" fill="#1a1a1a" stroke="#1a1a1a">log10 (PR)</text></svg>
</body></html>
